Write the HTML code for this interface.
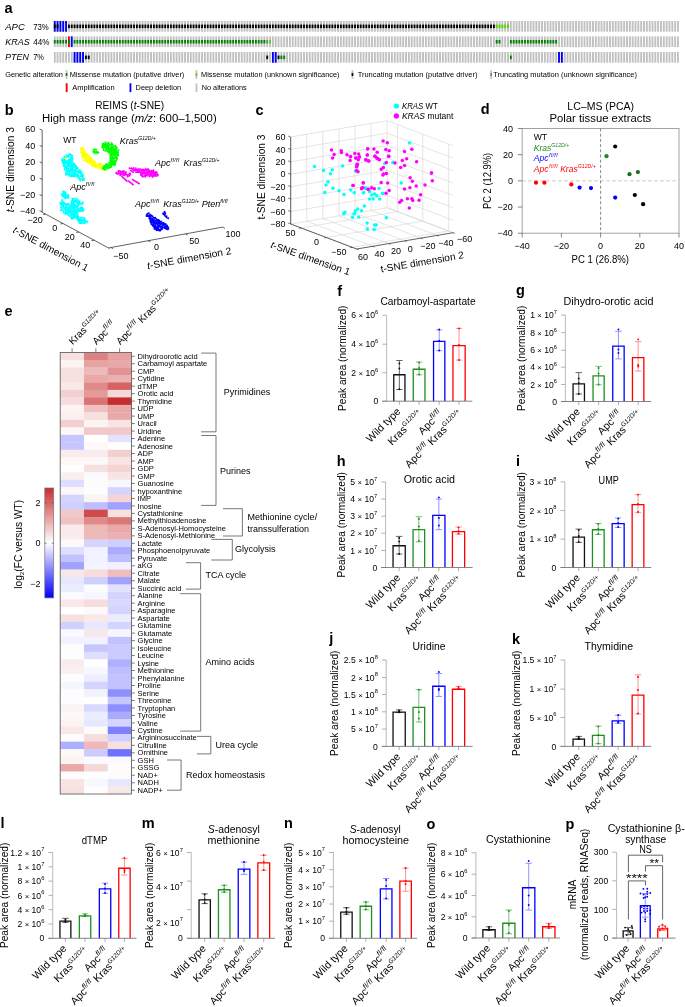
<!DOCTYPE html>
<html><head><meta charset="utf-8"><style>
html,body{margin:0;padding:0;background:#fff;width:685px;height:1007px;overflow:hidden;}
svg{display:block;font-family:"Liberation Sans",sans-serif;will-change:transform;}
</style></head><body>
<svg width="685" height="1007" viewBox="0 0 685 1007" font-family="Liberation Sans, sans-serif"><text x="4.60" y="12.60" font-size="14.5" fill="#000" font-weight="bold">a</text>
<text x="5.20" y="30.40" font-size="9.8" font-style="italic" textLength="19.60" lengthAdjust="spacingAndGlyphs">APC</text>
<text x="33.20" y="30.40" font-size="8.6" textLength="15.60" lengthAdjust="spacingAndGlyphs">73%</text>
<text x="5.20" y="44.70" font-size="9.8" font-style="italic" textLength="24.60" lengthAdjust="spacingAndGlyphs">KRAS</text>
<text x="33.20" y="44.70" font-size="8.6" textLength="16.20" lengthAdjust="spacingAndGlyphs">44%</text>
<text x="5.20" y="59.60" font-size="9.8" font-style="italic" textLength="23.60" lengthAdjust="spacingAndGlyphs">PTEN</text>
<text x="33.20" y="59.60" font-size="8.6" textLength="10.80" lengthAdjust="spacingAndGlyphs">7%</text>
<defs><pattern id="onc" x="53.8" y="0" width="2.833" height="20" patternUnits="userSpaceOnUse"><rect x="0" y="0" width="1.85" height="20" fill="#c0c0c0"/></pattern></defs>
<rect x="53.80" y="21.00" width="625.11" height="10.70" fill="url(#onc)"/>
<rect x="53.80" y="36.40" width="625.11" height="10.70" fill="url(#onc)"/>
<rect x="53.80" y="52.00" width="625.11" height="10.70" fill="url(#onc)"/>
<rect x="53.80" y="21.00" width="1.85" height="10.70" fill="#0000ff"/>
<rect x="56.63" y="21.00" width="1.85" height="10.70" fill="#0000ff"/>
<rect x="59.47" y="21.00" width="1.85" height="10.70" fill="#0000ff"/>
<rect x="62.30" y="21.00" width="1.85" height="10.70" fill="#0000ff"/>
<rect x="65.13" y="21.00" width="1.85" height="10.70" fill="#0000ff"/>
<rect x="53.80" y="24.57" width="1.85" height="3.57" fill="#000000"/>
<rect x="56.63" y="24.57" width="1.85" height="3.57" fill="#000000"/>
<rect x="67.97" y="24.57" width="1.85" height="3.57" fill="#000000"/>
<rect x="70.80" y="24.57" width="1.85" height="3.57" fill="#000000"/>
<rect x="73.63" y="24.57" width="1.85" height="3.57" fill="#000000"/>
<rect x="76.46" y="24.57" width="1.85" height="3.57" fill="#000000"/>
<rect x="79.30" y="24.57" width="1.85" height="3.57" fill="#000000"/>
<rect x="82.13" y="24.57" width="1.85" height="3.57" fill="#000000"/>
<rect x="84.96" y="24.57" width="1.85" height="3.57" fill="#000000"/>
<rect x="87.80" y="24.57" width="1.85" height="3.57" fill="#000000"/>
<rect x="90.63" y="24.57" width="1.85" height="3.57" fill="#000000"/>
<rect x="93.46" y="24.57" width="1.85" height="3.57" fill="#000000"/>
<rect x="96.30" y="24.57" width="1.85" height="3.57" fill="#000000"/>
<rect x="99.13" y="24.57" width="1.85" height="3.57" fill="#000000"/>
<rect x="101.96" y="24.57" width="1.85" height="3.57" fill="#000000"/>
<rect x="104.79" y="24.57" width="1.85" height="3.57" fill="#000000"/>
<rect x="107.63" y="24.57" width="1.85" height="3.57" fill="#000000"/>
<rect x="110.46" y="24.57" width="1.85" height="3.57" fill="#000000"/>
<rect x="113.29" y="24.57" width="1.85" height="3.57" fill="#000000"/>
<rect x="116.13" y="24.57" width="1.85" height="3.57" fill="#000000"/>
<rect x="118.96" y="24.57" width="1.85" height="3.57" fill="#000000"/>
<rect x="121.79" y="24.57" width="1.85" height="3.57" fill="#000000"/>
<rect x="124.62" y="24.57" width="1.85" height="3.57" fill="#000000"/>
<rect x="127.46" y="24.57" width="1.85" height="3.57" fill="#000000"/>
<rect x="130.29" y="24.57" width="1.85" height="3.57" fill="#000000"/>
<rect x="133.12" y="24.57" width="1.85" height="3.57" fill="#000000"/>
<rect x="135.96" y="24.57" width="1.85" height="3.57" fill="#000000"/>
<rect x="138.79" y="24.57" width="1.85" height="3.57" fill="#000000"/>
<rect x="141.62" y="24.57" width="1.85" height="3.57" fill="#000000"/>
<rect x="144.46" y="24.57" width="1.85" height="3.57" fill="#000000"/>
<rect x="147.29" y="24.57" width="1.85" height="3.57" fill="#000000"/>
<rect x="150.12" y="24.57" width="1.85" height="3.57" fill="#000000"/>
<rect x="152.95" y="24.57" width="1.85" height="3.57" fill="#000000"/>
<rect x="155.79" y="24.57" width="1.85" height="3.57" fill="#000000"/>
<rect x="158.62" y="24.57" width="1.85" height="3.57" fill="#000000"/>
<rect x="161.45" y="24.57" width="1.85" height="3.57" fill="#000000"/>
<rect x="164.29" y="24.57" width="1.85" height="3.57" fill="#000000"/>
<rect x="167.12" y="24.57" width="1.85" height="3.57" fill="#000000"/>
<rect x="169.95" y="24.57" width="1.85" height="3.57" fill="#000000"/>
<rect x="172.79" y="24.57" width="1.85" height="3.57" fill="#000000"/>
<rect x="175.62" y="24.57" width="1.85" height="3.57" fill="#000000"/>
<rect x="178.45" y="24.57" width="1.85" height="3.57" fill="#000000"/>
<rect x="181.29" y="24.57" width="1.85" height="3.57" fill="#000000"/>
<rect x="184.12" y="24.57" width="1.85" height="3.57" fill="#000000"/>
<rect x="186.95" y="24.57" width="1.85" height="3.57" fill="#000000"/>
<rect x="189.78" y="24.57" width="1.85" height="3.57" fill="#000000"/>
<rect x="192.62" y="24.57" width="1.85" height="3.57" fill="#000000"/>
<rect x="195.45" y="24.57" width="1.85" height="3.57" fill="#000000"/>
<rect x="198.28" y="24.57" width="1.85" height="3.57" fill="#000000"/>
<rect x="201.12" y="24.57" width="1.85" height="3.57" fill="#000000"/>
<rect x="203.95" y="24.57" width="1.85" height="3.57" fill="#000000"/>
<rect x="206.78" y="24.57" width="1.85" height="3.57" fill="#000000"/>
<rect x="209.62" y="24.57" width="1.85" height="3.57" fill="#000000"/>
<rect x="212.45" y="24.57" width="1.85" height="3.57" fill="#000000"/>
<rect x="215.28" y="24.57" width="1.85" height="3.57" fill="#000000"/>
<rect x="218.11" y="24.57" width="1.85" height="3.57" fill="#000000"/>
<rect x="220.95" y="24.57" width="1.85" height="3.57" fill="#000000"/>
<rect x="223.78" y="24.57" width="1.85" height="3.57" fill="#000000"/>
<rect x="226.61" y="24.57" width="1.85" height="3.57" fill="#000000"/>
<rect x="229.45" y="24.57" width="1.85" height="3.57" fill="#000000"/>
<rect x="232.28" y="24.57" width="1.85" height="3.57" fill="#000000"/>
<rect x="235.11" y="24.57" width="1.85" height="3.57" fill="#000000"/>
<rect x="237.94" y="24.57" width="1.85" height="3.57" fill="#000000"/>
<rect x="240.78" y="24.57" width="1.85" height="3.57" fill="#000000"/>
<rect x="243.61" y="24.57" width="1.85" height="3.57" fill="#000000"/>
<rect x="246.44" y="24.57" width="1.85" height="3.57" fill="#000000"/>
<rect x="249.28" y="24.57" width="1.85" height="3.57" fill="#000000"/>
<rect x="252.11" y="24.57" width="1.85" height="3.57" fill="#000000"/>
<rect x="254.94" y="24.57" width="1.85" height="3.57" fill="#000000"/>
<rect x="257.78" y="24.57" width="1.85" height="3.57" fill="#000000"/>
<rect x="260.61" y="24.57" width="1.85" height="3.57" fill="#000000"/>
<rect x="263.44" y="24.57" width="1.85" height="3.57" fill="#000000"/>
<rect x="266.28" y="24.57" width="1.85" height="3.57" fill="#000000"/>
<rect x="269.11" y="24.57" width="1.85" height="3.57" fill="#000000"/>
<rect x="271.94" y="24.57" width="1.85" height="3.57" fill="#000000"/>
<rect x="274.77" y="24.57" width="1.85" height="3.57" fill="#000000"/>
<rect x="277.61" y="24.57" width="1.85" height="3.57" fill="#000000"/>
<rect x="280.44" y="24.57" width="1.85" height="3.57" fill="#000000"/>
<rect x="283.27" y="24.57" width="1.85" height="3.57" fill="#000000"/>
<rect x="286.11" y="24.57" width="1.85" height="3.57" fill="#000000"/>
<rect x="288.94" y="24.57" width="1.85" height="3.57" fill="#000000"/>
<rect x="291.77" y="24.57" width="1.85" height="3.57" fill="#000000"/>
<rect x="294.61" y="24.57" width="1.85" height="3.57" fill="#000000"/>
<rect x="297.44" y="24.57" width="1.85" height="3.57" fill="#000000"/>
<rect x="300.27" y="24.57" width="1.85" height="3.57" fill="#000000"/>
<rect x="303.10" y="24.57" width="1.85" height="3.57" fill="#000000"/>
<rect x="305.94" y="24.57" width="1.85" height="3.57" fill="#000000"/>
<rect x="308.77" y="24.57" width="1.85" height="3.57" fill="#000000"/>
<rect x="311.60" y="24.57" width="1.85" height="3.57" fill="#000000"/>
<rect x="314.44" y="24.57" width="1.85" height="3.57" fill="#000000"/>
<rect x="317.27" y="24.57" width="1.85" height="3.57" fill="#000000"/>
<rect x="320.10" y="24.57" width="1.85" height="3.57" fill="#000000"/>
<rect x="322.94" y="24.57" width="1.85" height="3.57" fill="#000000"/>
<rect x="325.77" y="24.57" width="1.85" height="3.57" fill="#000000"/>
<rect x="328.60" y="24.57" width="1.85" height="3.57" fill="#000000"/>
<rect x="331.43" y="24.57" width="1.85" height="3.57" fill="#000000"/>
<rect x="334.27" y="24.57" width="1.85" height="3.57" fill="#000000"/>
<rect x="337.10" y="24.57" width="1.85" height="3.57" fill="#000000"/>
<rect x="339.93" y="24.57" width="1.85" height="3.57" fill="#000000"/>
<rect x="342.77" y="24.57" width="1.85" height="3.57" fill="#000000"/>
<rect x="345.60" y="24.57" width="1.85" height="3.57" fill="#000000"/>
<rect x="348.43" y="24.57" width="1.85" height="3.57" fill="#000000"/>
<rect x="351.27" y="24.57" width="1.85" height="3.57" fill="#000000"/>
<rect x="354.10" y="24.57" width="1.85" height="3.57" fill="#000000"/>
<rect x="356.93" y="24.57" width="1.85" height="3.57" fill="#000000"/>
<rect x="359.76" y="24.57" width="1.85" height="3.57" fill="#000000"/>
<rect x="362.60" y="24.57" width="1.85" height="3.57" fill="#000000"/>
<rect x="365.43" y="24.57" width="1.85" height="3.57" fill="#000000"/>
<rect x="368.26" y="24.57" width="1.85" height="3.57" fill="#000000"/>
<rect x="371.10" y="24.57" width="1.85" height="3.57" fill="#000000"/>
<rect x="373.93" y="24.57" width="1.85" height="3.57" fill="#000000"/>
<rect x="376.76" y="24.57" width="1.85" height="3.57" fill="#000000"/>
<rect x="379.60" y="24.57" width="1.85" height="3.57" fill="#000000"/>
<rect x="382.43" y="24.57" width="1.85" height="3.57" fill="#000000"/>
<rect x="385.26" y="24.57" width="1.85" height="3.57" fill="#000000"/>
<rect x="388.09" y="24.57" width="1.85" height="3.57" fill="#000000"/>
<rect x="390.93" y="24.57" width="1.85" height="3.57" fill="#000000"/>
<rect x="393.76" y="24.57" width="1.85" height="3.57" fill="#000000"/>
<rect x="396.59" y="24.57" width="1.85" height="3.57" fill="#000000"/>
<rect x="399.43" y="24.57" width="1.85" height="3.57" fill="#000000"/>
<rect x="402.26" y="24.57" width="1.85" height="3.57" fill="#000000"/>
<rect x="405.09" y="24.57" width="1.85" height="3.57" fill="#000000"/>
<rect x="407.93" y="24.57" width="1.85" height="3.57" fill="#000000"/>
<rect x="410.76" y="24.57" width="1.85" height="3.57" fill="#000000"/>
<rect x="413.59" y="24.57" width="1.85" height="3.57" fill="#000000"/>
<rect x="416.42" y="24.57" width="1.85" height="3.57" fill="#000000"/>
<rect x="419.26" y="24.57" width="1.85" height="3.57" fill="#000000"/>
<rect x="422.09" y="24.57" width="1.85" height="3.57" fill="#000000"/>
<rect x="424.92" y="24.57" width="1.85" height="3.57" fill="#000000"/>
<rect x="427.76" y="24.57" width="1.85" height="3.57" fill="#000000"/>
<rect x="430.59" y="24.57" width="1.85" height="3.57" fill="#000000"/>
<rect x="433.42" y="24.57" width="1.85" height="3.57" fill="#000000"/>
<rect x="436.26" y="24.57" width="1.85" height="3.57" fill="#000000"/>
<rect x="439.09" y="24.57" width="1.85" height="3.57" fill="#000000"/>
<rect x="441.92" y="24.57" width="1.85" height="3.57" fill="#000000"/>
<rect x="444.75" y="24.57" width="1.85" height="3.57" fill="#000000"/>
<rect x="447.59" y="24.57" width="1.85" height="3.57" fill="#000000"/>
<rect x="450.42" y="24.57" width="1.85" height="3.57" fill="#000000"/>
<rect x="453.25" y="24.57" width="1.85" height="3.57" fill="#000000"/>
<rect x="456.09" y="24.57" width="1.85" height="3.57" fill="#000000"/>
<rect x="458.92" y="24.57" width="1.85" height="3.57" fill="#000000"/>
<rect x="461.75" y="24.57" width="1.85" height="3.57" fill="#000000"/>
<rect x="464.59" y="24.57" width="1.85" height="3.57" fill="#000000"/>
<rect x="467.42" y="24.57" width="1.85" height="3.57" fill="#000000"/>
<rect x="470.25" y="24.57" width="1.85" height="3.57" fill="#000000"/>
<rect x="473.08" y="24.57" width="1.85" height="3.57" fill="#000000"/>
<rect x="475.92" y="24.57" width="1.85" height="3.57" fill="#000000"/>
<rect x="478.75" y="24.57" width="1.85" height="3.57" fill="#000000"/>
<rect x="481.58" y="24.57" width="1.85" height="3.57" fill="#000000"/>
<rect x="484.42" y="24.57" width="1.85" height="3.57" fill="#000000"/>
<rect x="487.25" y="24.57" width="1.85" height="3.57" fill="#000000"/>
<rect x="490.08" y="24.57" width="1.85" height="3.57" fill="#000000"/>
<rect x="492.92" y="24.57" width="1.85" height="3.57" fill="#000000"/>
<rect x="495.75" y="24.57" width="1.85" height="3.57" fill="#53d400"/>
<rect x="498.58" y="24.57" width="1.85" height="3.57" fill="#53d400"/>
<rect x="501.41" y="24.57" width="1.85" height="3.57" fill="#53d400"/>
<rect x="504.25" y="24.57" width="1.85" height="3.57" fill="#53d400"/>
<rect x="507.08" y="24.57" width="1.85" height="3.57" fill="#53d400"/>
<rect x="67.97" y="36.40" width="1.85" height="10.70" fill="#ff0000"/>
<rect x="70.80" y="36.40" width="1.85" height="10.70" fill="#0000ff"/>
<rect x="53.80" y="39.97" width="1.85" height="3.57" fill="#008000"/>
<rect x="56.63" y="39.97" width="1.85" height="3.57" fill="#008000"/>
<rect x="59.47" y="39.97" width="1.85" height="3.57" fill="#008000"/>
<rect x="62.30" y="39.97" width="1.85" height="3.57" fill="#008000"/>
<rect x="65.13" y="39.97" width="1.85" height="3.57" fill="#008000"/>
<rect x="67.97" y="39.97" width="1.85" height="3.57" fill="#008000"/>
<rect x="73.63" y="39.97" width="1.85" height="3.57" fill="#008000"/>
<rect x="76.46" y="39.97" width="1.85" height="3.57" fill="#008000"/>
<rect x="79.30" y="39.97" width="1.85" height="3.57" fill="#008000"/>
<rect x="82.13" y="39.97" width="1.85" height="3.57" fill="#008000"/>
<rect x="84.96" y="39.97" width="1.85" height="3.57" fill="#008000"/>
<rect x="87.80" y="39.97" width="1.85" height="3.57" fill="#008000"/>
<rect x="90.63" y="39.97" width="1.85" height="3.57" fill="#008000"/>
<rect x="93.46" y="39.97" width="1.85" height="3.57" fill="#008000"/>
<rect x="96.30" y="39.97" width="1.85" height="3.57" fill="#008000"/>
<rect x="99.13" y="39.97" width="1.85" height="3.57" fill="#008000"/>
<rect x="101.96" y="39.97" width="1.85" height="3.57" fill="#008000"/>
<rect x="104.79" y="39.97" width="1.85" height="3.57" fill="#008000"/>
<rect x="107.63" y="39.97" width="1.85" height="3.57" fill="#008000"/>
<rect x="110.46" y="39.97" width="1.85" height="3.57" fill="#008000"/>
<rect x="113.29" y="39.97" width="1.85" height="3.57" fill="#008000"/>
<rect x="116.13" y="39.97" width="1.85" height="3.57" fill="#008000"/>
<rect x="118.96" y="39.97" width="1.85" height="3.57" fill="#008000"/>
<rect x="121.79" y="39.97" width="1.85" height="3.57" fill="#008000"/>
<rect x="124.62" y="39.97" width="1.85" height="3.57" fill="#008000"/>
<rect x="127.46" y="39.97" width="1.85" height="3.57" fill="#008000"/>
<rect x="130.29" y="39.97" width="1.85" height="3.57" fill="#008000"/>
<rect x="133.12" y="39.97" width="1.85" height="3.57" fill="#008000"/>
<rect x="135.96" y="39.97" width="1.85" height="3.57" fill="#008000"/>
<rect x="138.79" y="39.97" width="1.85" height="3.57" fill="#008000"/>
<rect x="141.62" y="39.97" width="1.85" height="3.57" fill="#008000"/>
<rect x="144.46" y="39.97" width="1.85" height="3.57" fill="#008000"/>
<rect x="147.29" y="39.97" width="1.85" height="3.57" fill="#008000"/>
<rect x="150.12" y="39.97" width="1.85" height="3.57" fill="#008000"/>
<rect x="152.95" y="39.97" width="1.85" height="3.57" fill="#008000"/>
<rect x="155.79" y="39.97" width="1.85" height="3.57" fill="#008000"/>
<rect x="158.62" y="39.97" width="1.85" height="3.57" fill="#008000"/>
<rect x="161.45" y="39.97" width="1.85" height="3.57" fill="#008000"/>
<rect x="164.29" y="39.97" width="1.85" height="3.57" fill="#008000"/>
<rect x="167.12" y="39.97" width="1.85" height="3.57" fill="#008000"/>
<rect x="169.95" y="39.97" width="1.85" height="3.57" fill="#008000"/>
<rect x="172.79" y="39.97" width="1.85" height="3.57" fill="#008000"/>
<rect x="175.62" y="39.97" width="1.85" height="3.57" fill="#008000"/>
<rect x="178.45" y="39.97" width="1.85" height="3.57" fill="#008000"/>
<rect x="181.29" y="39.97" width="1.85" height="3.57" fill="#008000"/>
<rect x="184.12" y="39.97" width="1.85" height="3.57" fill="#008000"/>
<rect x="186.95" y="39.97" width="1.85" height="3.57" fill="#008000"/>
<rect x="189.78" y="39.97" width="1.85" height="3.57" fill="#008000"/>
<rect x="192.62" y="39.97" width="1.85" height="3.57" fill="#008000"/>
<rect x="195.45" y="39.97" width="1.85" height="3.57" fill="#008000"/>
<rect x="198.28" y="39.97" width="1.85" height="3.57" fill="#008000"/>
<rect x="201.12" y="39.97" width="1.85" height="3.57" fill="#008000"/>
<rect x="203.95" y="39.97" width="1.85" height="3.57" fill="#008000"/>
<rect x="206.78" y="39.97" width="1.85" height="3.57" fill="#008000"/>
<rect x="209.62" y="39.97" width="1.85" height="3.57" fill="#008000"/>
<rect x="212.45" y="39.97" width="1.85" height="3.57" fill="#008000"/>
<rect x="215.28" y="39.97" width="1.85" height="3.57" fill="#008000"/>
<rect x="218.11" y="39.97" width="1.85" height="3.57" fill="#008000"/>
<rect x="220.95" y="39.97" width="1.85" height="3.57" fill="#008000"/>
<rect x="223.78" y="39.97" width="1.85" height="3.57" fill="#008000"/>
<rect x="226.61" y="39.97" width="1.85" height="3.57" fill="#008000"/>
<rect x="229.45" y="39.97" width="1.85" height="3.57" fill="#008000"/>
<rect x="232.28" y="39.97" width="1.85" height="3.57" fill="#008000"/>
<rect x="235.11" y="39.97" width="1.85" height="3.57" fill="#008000"/>
<rect x="237.94" y="39.97" width="1.85" height="3.57" fill="#008000"/>
<rect x="240.78" y="39.97" width="1.85" height="3.57" fill="#008000"/>
<rect x="243.61" y="39.97" width="1.85" height="3.57" fill="#008000"/>
<rect x="246.44" y="39.97" width="1.85" height="3.57" fill="#008000"/>
<rect x="249.28" y="39.97" width="1.85" height="3.57" fill="#008000"/>
<rect x="252.11" y="39.97" width="1.85" height="3.57" fill="#008000"/>
<rect x="254.94" y="39.97" width="1.85" height="3.57" fill="#008000"/>
<rect x="257.78" y="39.97" width="1.85" height="3.57" fill="#008000"/>
<rect x="260.61" y="39.97" width="1.85" height="3.57" fill="#008000"/>
<rect x="263.44" y="39.97" width="1.85" height="3.57" fill="#008000"/>
<rect x="495.75" y="39.97" width="1.85" height="3.57" fill="#008000"/>
<rect x="498.58" y="39.97" width="1.85" height="3.57" fill="#008000"/>
<rect x="509.91" y="39.97" width="1.85" height="3.57" fill="#008000"/>
<rect x="512.75" y="39.97" width="1.85" height="3.57" fill="#008000"/>
<rect x="515.58" y="39.97" width="1.85" height="3.57" fill="#008000"/>
<rect x="518.41" y="39.97" width="1.85" height="3.57" fill="#008000"/>
<rect x="521.25" y="39.97" width="1.85" height="3.57" fill="#008000"/>
<rect x="524.08" y="39.97" width="1.85" height="3.57" fill="#008000"/>
<rect x="526.91" y="39.97" width="1.85" height="3.57" fill="#008000"/>
<rect x="529.74" y="39.97" width="1.85" height="3.57" fill="#008000"/>
<rect x="532.58" y="39.97" width="1.85" height="3.57" fill="#008000"/>
<rect x="535.41" y="39.97" width="1.85" height="3.57" fill="#008000"/>
<rect x="538.24" y="39.97" width="1.85" height="3.57" fill="#008000"/>
<rect x="541.08" y="39.97" width="1.85" height="3.57" fill="#008000"/>
<rect x="543.91" y="39.97" width="1.85" height="3.57" fill="#008000"/>
<rect x="546.74" y="39.97" width="1.85" height="3.57" fill="#008000"/>
<rect x="549.58" y="39.97" width="1.85" height="3.57" fill="#008000"/>
<rect x="552.41" y="39.97" width="1.85" height="3.57" fill="#008000"/>
<rect x="555.24" y="39.97" width="1.85" height="3.57" fill="#008000"/>
<rect x="266.28" y="39.97" width="1.85" height="3.57" fill="#708090"/>
<rect x="269.11" y="39.97" width="1.85" height="3.57" fill="#53d400"/>
<rect x="73.63" y="52.00" width="1.85" height="10.70" fill="#0000ff"/>
<rect x="76.46" y="52.00" width="1.85" height="10.70" fill="#0000ff"/>
<rect x="79.30" y="52.00" width="1.85" height="10.70" fill="#0000ff"/>
<rect x="82.13" y="52.00" width="1.85" height="10.70" fill="#0000ff"/>
<rect x="271.94" y="52.00" width="1.85" height="10.70" fill="#0000ff"/>
<rect x="274.77" y="52.00" width="1.85" height="10.70" fill="#0000ff"/>
<rect x="558.07" y="52.00" width="1.85" height="10.70" fill="#0000ff"/>
<rect x="560.91" y="52.00" width="1.85" height="10.70" fill="#0000ff"/>
<rect x="84.96" y="55.57" width="1.85" height="3.57" fill="#000000"/>
<rect x="87.80" y="55.57" width="1.85" height="3.57" fill="#000000"/>
<rect x="266.28" y="55.57" width="1.85" height="3.57" fill="#000000"/>
<rect x="277.61" y="55.57" width="1.85" height="3.57" fill="#000000"/>
<rect x="280.44" y="55.57" width="1.85" height="3.57" fill="#008000"/>
<rect x="283.27" y="55.57" width="1.85" height="3.57" fill="#008000"/>
<rect x="509.91" y="55.57" width="1.85" height="3.57" fill="#008000"/>
<text x="5.20" y="77.00" font-size="7.5" textLength="57.80" lengthAdjust="spacingAndGlyphs">Genetic alteration</text>
<rect x="65.70" y="70.10" width="1.70" height="8.80" fill="#c0c0c0"/>
<rect x="65.70" y="73.03" width="1.70" height="2.93" fill="#008000"/>
<text x="69.70" y="77.00" font-size="7.5" textLength="114.60" lengthAdjust="spacingAndGlyphs">Missense mutation (putative driver)</text>
<rect x="195.60" y="70.10" width="1.70" height="8.80" fill="#c0c0c0"/>
<rect x="195.60" y="73.03" width="1.70" height="2.93" fill="#53d400"/>
<text x="201.10" y="77.00" font-size="7.5" textLength="138.40" lengthAdjust="spacingAndGlyphs">Missense mutation (unknown significance)</text>
<rect x="351.60" y="70.10" width="1.70" height="8.80" fill="#c0c0c0"/>
<rect x="351.60" y="73.03" width="1.70" height="2.93" fill="#000000"/>
<text x="357.70" y="77.00" font-size="7.5" textLength="119.70" lengthAdjust="spacingAndGlyphs">Truncating mutation (putative driver)</text>
<rect x="490.30" y="70.10" width="1.70" height="8.80" fill="#c0c0c0"/>
<rect x="490.30" y="73.03" width="1.70" height="2.93" fill="#708090"/>
<text x="493.20" y="77.00" font-size="7.5" textLength="143.80" lengthAdjust="spacingAndGlyphs">Truncating mutation (unknown significance)</text>
<rect x="65.80" y="83.30" width="1.70" height="8.80" fill="#c0c0c0"/>
<rect x="65.80" y="83.30" width="1.70" height="8.80" fill="#ff0000"/>
<text x="72.20" y="90.20" font-size="7.5" textLength="42.50" lengthAdjust="spacingAndGlyphs">Amplification</text>
<rect x="129.60" y="83.30" width="1.70" height="8.80" fill="#c0c0c0"/>
<rect x="129.60" y="83.30" width="1.70" height="8.80" fill="#0000ff"/>
<text x="135.60" y="90.20" font-size="7.5" textLength="45.50" lengthAdjust="spacingAndGlyphs">Deep deletion</text>
<rect x="195.60" y="83.30" width="1.70" height="8.80" fill="#c0c0c0"/>
<text x="201.80" y="90.20" font-size="7.5" textLength="44.80" lengthAdjust="spacingAndGlyphs">No alterations</text>
<text x="4.80" y="115.40" font-size="14.5" fill="#000" font-weight="bold">b</text>
<text x="129.70" y="109.10" font-size="10" text-anchor="middle" textLength="68.90" lengthAdjust="spacingAndGlyphs"><tspan>REIMS (</tspan><tspan font-style="italic">t</tspan><tspan>-SNE)</tspan></text>
<text x="42.00" y="121.70" font-size="10" textLength="174.70" lengthAdjust="spacingAndGlyphs"><tspan>High mass range (</tspan><tspan font-style="italic">m/z</tspan><tspan>: 600–1,500)</tspan></text>
<line x1="42.20" y1="130.30" x2="42.20" y2="212.30" stroke="#3a3a3a" stroke-width="0.8"/>
<line x1="42.20" y1="130.30" x2="39.60" y2="129.00" stroke="#3a3a3a" stroke-width="0.8"/>
<text x="35.30" y="132.20" font-size="9" text-anchor="end">60</text>
<line x1="42.20" y1="146.70" x2="39.60" y2="145.40" stroke="#3a3a3a" stroke-width="0.8"/>
<text x="35.30" y="148.60" font-size="9" text-anchor="end">40</text>
<line x1="42.20" y1="163.10" x2="39.60" y2="161.80" stroke="#3a3a3a" stroke-width="0.8"/>
<text x="35.30" y="165.00" font-size="9" text-anchor="end">20</text>
<line x1="42.20" y1="179.40" x2="39.60" y2="178.10" stroke="#3a3a3a" stroke-width="0.8"/>
<text x="35.30" y="181.30" font-size="9" text-anchor="end">0</text>
<line x1="42.20" y1="195.80" x2="39.60" y2="194.50" stroke="#3a3a3a" stroke-width="0.8"/>
<text x="35.30" y="197.70" font-size="9" text-anchor="end">−20</text>
<line x1="42.20" y1="212.00" x2="39.60" y2="210.70" stroke="#3a3a3a" stroke-width="0.8"/>
<text x="35.30" y="213.90" font-size="9" text-anchor="end">−40</text>
<line x1="42.20" y1="212.30" x2="109.50" y2="248.50" stroke="#3a3a3a" stroke-width="0.8"/>
<line x1="45.60" y1="214.13" x2="43.10" y2="214.63" stroke="#3a3a3a" stroke-width="0.8"/>
<text x="35.20" y="222.50" font-size="9" text-anchor="middle">−20</text>
<line x1="63.00" y1="223.49" x2="60.50" y2="223.99" stroke="#3a3a3a" stroke-width="0.8"/>
<text x="54.80" y="231.00" font-size="9" text-anchor="middle">0</text>
<line x1="78.80" y1="231.99" x2="76.30" y2="232.49" stroke="#3a3a3a" stroke-width="0.8"/>
<text x="69.80" y="239.70" font-size="9" text-anchor="middle">20</text>
<line x1="94.00" y1="240.16" x2="91.50" y2="240.66" stroke="#3a3a3a" stroke-width="0.8"/>
<text x="85.30" y="247.90" font-size="9" text-anchor="middle">40</text>
<line x1="108.80" y1="247.90" x2="222.60" y2="227.10" stroke="#3a3a3a" stroke-width="0.8"/>
<line x1="222.60" y1="227.10" x2="225.00" y2="228.40" stroke="#3a3a3a" stroke-width="0.8"/>
<line x1="111.00" y1="247.50" x2="113.20" y2="248.70" stroke="#3a3a3a" stroke-width="0.8"/>
<text x="120.80" y="258.50" font-size="9" text-anchor="middle">−50</text>
<line x1="148.30" y1="240.68" x2="150.50" y2="241.88" stroke="#3a3a3a" stroke-width="0.8"/>
<text x="156.40" y="250.20" font-size="9" text-anchor="middle">0</text>
<line x1="185.50" y1="233.88" x2="187.70" y2="235.08" stroke="#3a3a3a" stroke-width="0.8"/>
<text x="194.20" y="244.30" font-size="9" text-anchor="middle">50</text>
<text x="233.00" y="237.00" font-size="9" text-anchor="middle">100</text>
<text x="13.60" y="169.60" font-size="10" text-anchor="middle" textLength="85.20" lengthAdjust="spacingAndGlyphs" transform="rotate(-90.00 13.60 169.60)"><tspan font-style="italic">t</tspan><tspan>-SNE dimension 3</tspan></text>
<text x="49.30" y="251.90" font-size="10" text-anchor="middle" textLength="84.00" lengthAdjust="spacingAndGlyphs" transform="rotate(28.20 49.30 251.90)"><tspan font-style="italic">t</tspan><tspan>-SNE dimension 1</tspan></text>
<text x="189.80" y="261.60" font-size="10" text-anchor="middle" textLength="85.50" lengthAdjust="spacingAndGlyphs" transform="rotate(-10.40 189.80 261.60)"><tspan font-style="italic">t</tspan><tspan>-SNE dimension 2</tspan></text>
<path d="M68.2,154.1a0.95,0.95 0 1,0 1.9,0a0.95,0.95 0 1,0 -1.9,0M69.3,154.1a0.95,0.95 0 1,0 1.9,0a0.95,0.95 0 1,0 -1.9,0M69.9,154.6a0.95,0.95 0 1,0 1.9,0a0.95,0.95 0 1,0 -1.9,0M65.5,155.3a0.95,0.95 0 1,0 1.9,0a0.95,0.95 0 1,0 -1.9,0M66.5,156.0a0.95,0.95 0 1,0 1.9,0a0.95,0.95 0 1,0 -1.9,0M68.1,155.5a0.95,0.95 0 1,0 1.9,0a0.95,0.95 0 1,0 -1.9,0M70.0,155.4a0.95,0.95 0 1,0 1.9,0a0.95,0.95 0 1,0 -1.9,0M71.4,155.7a0.95,0.95 0 1,0 1.9,0a0.95,0.95 0 1,0 -1.9,0M63.4,156.6a0.95,0.95 0 1,0 1.9,0a0.95,0.95 0 1,0 -1.9,0M64.8,156.9a0.95,0.95 0 1,0 1.9,0a0.95,0.95 0 1,0 -1.9,0M66.8,157.1a0.95,0.95 0 1,0 1.9,0a0.95,0.95 0 1,0 -1.9,0M67.5,156.9a0.95,0.95 0 1,0 1.9,0a0.95,0.95 0 1,0 -1.9,0M70.3,157.0a0.95,0.95 0 1,0 1.9,0a0.95,0.95 0 1,0 -1.9,0M71.3,156.9a0.95,0.95 0 1,0 1.9,0a0.95,0.95 0 1,0 -1.9,0M61.5,158.7a0.95,0.95 0 1,0 1.9,0a0.95,0.95 0 1,0 -1.9,0M62.8,158.6a0.95,0.95 0 1,0 1.9,0a0.95,0.95 0 1,0 -1.9,0M63.6,158.3a0.95,0.95 0 1,0 1.9,0a0.95,0.95 0 1,0 -1.9,0M64.7,157.9a0.95,0.95 0 1,0 1.9,0a0.95,0.95 0 1,0 -1.9,0M69.5,158.2a0.95,0.95 0 1,0 1.9,0a0.95,0.95 0 1,0 -1.9,0M70.1,158.0a0.95,0.95 0 1,0 1.9,0a0.95,0.95 0 1,0 -1.9,0M71.8,158.7a0.95,0.95 0 1,0 1.9,0a0.95,0.95 0 1,0 -1.9,0M60.9,160.0a0.95,0.95 0 1,0 1.9,0a0.95,0.95 0 1,0 -1.9,0M64.0,159.5a0.95,0.95 0 1,0 1.9,0a0.95,0.95 0 1,0 -1.9,0M67.7,159.9a0.95,0.95 0 1,0 1.9,0a0.95,0.95 0 1,0 -1.9,0M68.8,159.4a0.95,0.95 0 1,0 1.9,0a0.95,0.95 0 1,0 -1.9,0M70.1,159.7a0.95,0.95 0 1,0 1.9,0a0.95,0.95 0 1,0 -1.9,0M71.6,159.3a0.95,0.95 0 1,0 1.9,0a0.95,0.95 0 1,0 -1.9,0M61.3,161.2a0.95,0.95 0 1,0 1.9,0a0.95,0.95 0 1,0 -1.9,0M62.6,160.7a0.95,0.95 0 1,0 1.9,0a0.95,0.95 0 1,0 -1.9,0M64.1,160.9a0.95,0.95 0 1,0 1.9,0a0.95,0.95 0 1,0 -1.9,0M65.4,161.3a0.95,0.95 0 1,0 1.9,0a0.95,0.95 0 1,0 -1.9,0M66.6,160.9a0.95,0.95 0 1,0 1.9,0a0.95,0.95 0 1,0 -1.9,0M67.9,160.9a0.95,0.95 0 1,0 1.9,0a0.95,0.95 0 1,0 -1.9,0M69.0,161.3a0.95,0.95 0 1,0 1.9,0a0.95,0.95 0 1,0 -1.9,0M70.7,161.3a0.95,0.95 0 1,0 1.9,0a0.95,0.95 0 1,0 -1.9,0M71.7,161.3a0.95,0.95 0 1,0 1.9,0a0.95,0.95 0 1,0 -1.9,0M61.5,161.9a0.95,0.95 0 1,0 1.9,0a0.95,0.95 0 1,0 -1.9,0M62.6,162.1a0.95,0.95 0 1,0 1.9,0a0.95,0.95 0 1,0 -1.9,0M63.7,162.4a0.95,0.95 0 1,0 1.9,0a0.95,0.95 0 1,0 -1.9,0M65.2,162.1a0.95,0.95 0 1,0 1.9,0a0.95,0.95 0 1,0 -1.9,0M66.3,162.3a0.95,0.95 0 1,0 1.9,0a0.95,0.95 0 1,0 -1.9,0M67.4,162.6a0.95,0.95 0 1,0 1.9,0a0.95,0.95 0 1,0 -1.9,0M69.5,161.8a0.95,0.95 0 1,0 1.9,0a0.95,0.95 0 1,0 -1.9,0M69.9,162.5a0.95,0.95 0 1,0 1.9,0a0.95,0.95 0 1,0 -1.9,0M71.3,162.1a0.95,0.95 0 1,0 1.9,0a0.95,0.95 0 1,0 -1.9,0M62.3,163.2a0.95,0.95 0 1,0 1.9,0a0.95,0.95 0 1,0 -1.9,0M63.6,163.1a0.95,0.95 0 1,0 1.9,0a0.95,0.95 0 1,0 -1.9,0M64.7,163.2a0.95,0.95 0 1,0 1.9,0a0.95,0.95 0 1,0 -1.9,0M66.3,163.7a0.95,0.95 0 1,0 1.9,0a0.95,0.95 0 1,0 -1.9,0M67.8,163.2a0.95,0.95 0 1,0 1.9,0a0.95,0.95 0 1,0 -1.9,0M68.6,163.3a0.95,0.95 0 1,0 1.9,0a0.95,0.95 0 1,0 -1.9,0M70.6,163.5a0.95,0.95 0 1,0 1.9,0a0.95,0.95 0 1,0 -1.9,0M71.6,163.9a0.95,0.95 0 1,0 1.9,0a0.95,0.95 0 1,0 -1.9,0M73.2,163.4a0.95,0.95 0 1,0 1.9,0a0.95,0.95 0 1,0 -1.9,0M62.7,164.6a0.95,0.95 0 1,0 1.9,0a0.95,0.95 0 1,0 -1.9,0M63.7,164.8a0.95,0.95 0 1,0 1.9,0a0.95,0.95 0 1,0 -1.9,0M66.9,164.8a0.95,0.95 0 1,0 1.9,0a0.95,0.95 0 1,0 -1.9,0M68.2,164.6a0.95,0.95 0 1,0 1.9,0a0.95,0.95 0 1,0 -1.9,0M68.6,164.7a0.95,0.95 0 1,0 1.9,0a0.95,0.95 0 1,0 -1.9,0M70.4,164.5a0.95,0.95 0 1,0 1.9,0a0.95,0.95 0 1,0 -1.9,0M71.2,164.6a0.95,0.95 0 1,0 1.9,0a0.95,0.95 0 1,0 -1.9,0M72.9,164.4a0.95,0.95 0 1,0 1.9,0a0.95,0.95 0 1,0 -1.9,0M74.1,164.6a0.95,0.95 0 1,0 1.9,0a0.95,0.95 0 1,0 -1.9,0M62.6,166.1a0.95,0.95 0 1,0 1.9,0a0.95,0.95 0 1,0 -1.9,0M64.1,166.4a0.95,0.95 0 1,0 1.9,0a0.95,0.95 0 1,0 -1.9,0M65.5,166.3a0.95,0.95 0 1,0 1.9,0a0.95,0.95 0 1,0 -1.9,0M66.2,165.7a0.95,0.95 0 1,0 1.9,0a0.95,0.95 0 1,0 -1.9,0M67.6,165.7a0.95,0.95 0 1,0 1.9,0a0.95,0.95 0 1,0 -1.9,0M69.1,166.2a0.95,0.95 0 1,0 1.9,0a0.95,0.95 0 1,0 -1.9,0M70.5,166.1a0.95,0.95 0 1,0 1.9,0a0.95,0.95 0 1,0 -1.9,0M71.9,166.3a0.95,0.95 0 1,0 1.9,0a0.95,0.95 0 1,0 -1.9,0M73.0,166.2a0.95,0.95 0 1,0 1.9,0a0.95,0.95 0 1,0 -1.9,0M74.5,165.9a0.95,0.95 0 1,0 1.9,0a0.95,0.95 0 1,0 -1.9,0M75.3,166.3a0.95,0.95 0 1,0 1.9,0a0.95,0.95 0 1,0 -1.9,0M64.0,167.6a0.95,0.95 0 1,0 1.9,0a0.95,0.95 0 1,0 -1.9,0M65.0,167.4a0.95,0.95 0 1,0 1.9,0a0.95,0.95 0 1,0 -1.9,0M66.4,167.1a0.95,0.95 0 1,0 1.9,0a0.95,0.95 0 1,0 -1.9,0M68.6,167.4a0.95,0.95 0 1,0 1.9,0a0.95,0.95 0 1,0 -1.9,0M70.8,167.4a0.95,0.95 0 1,0 1.9,0a0.95,0.95 0 1,0 -1.9,0M71.4,167.8a0.95,0.95 0 1,0 1.9,0a0.95,0.95 0 1,0 -1.9,0M73.0,167.1a0.95,0.95 0 1,0 1.9,0a0.95,0.95 0 1,0 -1.9,0M74.7,167.1a0.95,0.95 0 1,0 1.9,0a0.95,0.95 0 1,0 -1.9,0M75.6,167.7a0.95,0.95 0 1,0 1.9,0a0.95,0.95 0 1,0 -1.9,0M76.6,167.8a0.95,0.95 0 1,0 1.9,0a0.95,0.95 0 1,0 -1.9,0M63.7,168.6a0.95,0.95 0 1,0 1.9,0a0.95,0.95 0 1,0 -1.9,0M65.6,168.8a0.95,0.95 0 1,0 1.9,0a0.95,0.95 0 1,0 -1.9,0M66.4,168.5a0.95,0.95 0 1,0 1.9,0a0.95,0.95 0 1,0 -1.9,0M67.4,169.0a0.95,0.95 0 1,0 1.9,0a0.95,0.95 0 1,0 -1.9,0M69.4,168.5a0.95,0.95 0 1,0 1.9,0a0.95,0.95 0 1,0 -1.9,0M70.4,168.4a0.95,0.95 0 1,0 1.9,0a0.95,0.95 0 1,0 -1.9,0M72.1,169.0a0.95,0.95 0 1,0 1.9,0a0.95,0.95 0 1,0 -1.9,0M74.3,168.9a0.95,0.95 0 1,0 1.9,0a0.95,0.95 0 1,0 -1.9,0M75.8,168.7a0.95,0.95 0 1,0 1.9,0a0.95,0.95 0 1,0 -1.9,0M77.0,168.5a0.95,0.95 0 1,0 1.9,0a0.95,0.95 0 1,0 -1.9,0M63.8,169.7a0.95,0.95 0 1,0 1.9,0a0.95,0.95 0 1,0 -1.9,0M65.6,170.0a0.95,0.95 0 1,0 1.9,0a0.95,0.95 0 1,0 -1.9,0M66.2,169.6a0.95,0.95 0 1,0 1.9,0a0.95,0.95 0 1,0 -1.9,0M67.4,169.8a0.95,0.95 0 1,0 1.9,0a0.95,0.95 0 1,0 -1.9,0M69.1,170.3a0.95,0.95 0 1,0 1.9,0a0.95,0.95 0 1,0 -1.9,0M70.3,169.9a0.95,0.95 0 1,0 1.9,0a0.95,0.95 0 1,0 -1.9,0M71.5,169.9a0.95,0.95 0 1,0 1.9,0a0.95,0.95 0 1,0 -1.9,0M72.7,170.4a0.95,0.95 0 1,0 1.9,0a0.95,0.95 0 1,0 -1.9,0M74.3,170.1a0.95,0.95 0 1,0 1.9,0a0.95,0.95 0 1,0 -1.9,0M75.3,169.8a0.95,0.95 0 1,0 1.9,0a0.95,0.95 0 1,0 -1.9,0M78.5,170.3a0.95,0.95 0 1,0 1.9,0a0.95,0.95 0 1,0 -1.9,0M79.0,170.2a0.95,0.95 0 1,0 1.9,0a0.95,0.95 0 1,0 -1.9,0M65.3,171.4a0.95,0.95 0 1,0 1.9,0a0.95,0.95 0 1,0 -1.9,0M66.4,171.3a0.95,0.95 0 1,0 1.9,0a0.95,0.95 0 1,0 -1.9,0M68.0,171.1a0.95,0.95 0 1,0 1.9,0a0.95,0.95 0 1,0 -1.9,0M69.2,171.1a0.95,0.95 0 1,0 1.9,0a0.95,0.95 0 1,0 -1.9,0M70.1,171.4a0.95,0.95 0 1,0 1.9,0a0.95,0.95 0 1,0 -1.9,0M71.3,170.9a0.95,0.95 0 1,0 1.9,0a0.95,0.95 0 1,0 -1.9,0M73.0,171.2a0.95,0.95 0 1,0 1.9,0a0.95,0.95 0 1,0 -1.9,0M74.3,170.9a0.95,0.95 0 1,0 1.9,0a0.95,0.95 0 1,0 -1.9,0M75.5,171.7a0.95,0.95 0 1,0 1.9,0a0.95,0.95 0 1,0 -1.9,0M77.2,171.3a0.95,0.95 0 1,0 1.9,0a0.95,0.95 0 1,0 -1.9,0M77.9,171.7a0.95,0.95 0 1,0 1.9,0a0.95,0.95 0 1,0 -1.9,0M79.3,170.9a0.95,0.95 0 1,0 1.9,0a0.95,0.95 0 1,0 -1.9,0M64.9,173.0a0.95,0.95 0 1,0 1.9,0a0.95,0.95 0 1,0 -1.9,0M66.7,172.4a0.95,0.95 0 1,0 1.9,0a0.95,0.95 0 1,0 -1.9,0M69.0,172.3a0.95,0.95 0 1,0 1.9,0a0.95,0.95 0 1,0 -1.9,0M71.3,172.5a0.95,0.95 0 1,0 1.9,0a0.95,0.95 0 1,0 -1.9,0M73.4,172.3a0.95,0.95 0 1,0 1.9,0a0.95,0.95 0 1,0 -1.9,0M73.9,172.5a0.95,0.95 0 1,0 1.9,0a0.95,0.95 0 1,0 -1.9,0M77.2,172.4a0.95,0.95 0 1,0 1.9,0a0.95,0.95 0 1,0 -1.9,0M78.5,172.8a0.95,0.95 0 1,0 1.9,0a0.95,0.95 0 1,0 -1.9,0M79.6,172.5a0.95,0.95 0 1,0 1.9,0a0.95,0.95 0 1,0 -1.9,0M80.6,172.3a0.95,0.95 0 1,0 1.9,0a0.95,0.95 0 1,0 -1.9,0M65.0,174.3a0.95,0.95 0 1,0 1.9,0a0.95,0.95 0 1,0 -1.9,0M66.3,174.3a0.95,0.95 0 1,0 1.9,0a0.95,0.95 0 1,0 -1.9,0M67.7,174.2a0.95,0.95 0 1,0 1.9,0a0.95,0.95 0 1,0 -1.9,0M68.6,173.5a0.95,0.95 0 1,0 1.9,0a0.95,0.95 0 1,0 -1.9,0M70.7,173.7a0.95,0.95 0 1,0 1.9,0a0.95,0.95 0 1,0 -1.9,0M72.0,173.8a0.95,0.95 0 1,0 1.9,0a0.95,0.95 0 1,0 -1.9,0M73.4,174.0a0.95,0.95 0 1,0 1.9,0a0.95,0.95 0 1,0 -1.9,0M74.4,173.7a0.95,0.95 0 1,0 1.9,0a0.95,0.95 0 1,0 -1.9,0M75.1,174.1a0.95,0.95 0 1,0 1.9,0a0.95,0.95 0 1,0 -1.9,0M77.0,174.3a0.95,0.95 0 1,0 1.9,0a0.95,0.95 0 1,0 -1.9,0M79.9,173.8a0.95,0.95 0 1,0 1.9,0a0.95,0.95 0 1,0 -1.9,0M81.8,174.2a0.95,0.95 0 1,0 1.9,0a0.95,0.95 0 1,0 -1.9,0M64.9,174.8a0.95,0.95 0 1,0 1.9,0a0.95,0.95 0 1,0 -1.9,0M68.1,175.6a0.95,0.95 0 1,0 1.9,0a0.95,0.95 0 1,0 -1.9,0M68.7,174.8a0.95,0.95 0 1,0 1.9,0a0.95,0.95 0 1,0 -1.9,0M70.5,175.2a0.95,0.95 0 1,0 1.9,0a0.95,0.95 0 1,0 -1.9,0M71.6,175.3a0.95,0.95 0 1,0 1.9,0a0.95,0.95 0 1,0 -1.9,0M73.2,175.5a0.95,0.95 0 1,0 1.9,0a0.95,0.95 0 1,0 -1.9,0M73.9,175.5a0.95,0.95 0 1,0 1.9,0a0.95,0.95 0 1,0 -1.9,0M75.6,175.1a0.95,0.95 0 1,0 1.9,0a0.95,0.95 0 1,0 -1.9,0M76.6,175.0a0.95,0.95 0 1,0 1.9,0a0.95,0.95 0 1,0 -1.9,0M77.8,175.5a0.95,0.95 0 1,0 1.9,0a0.95,0.95 0 1,0 -1.9,0M80.8,175.0a0.95,0.95 0 1,0 1.9,0a0.95,0.95 0 1,0 -1.9,0M82.2,175.6a0.95,0.95 0 1,0 1.9,0a0.95,0.95 0 1,0 -1.9,0M69.5,176.1a0.95,0.95 0 1,0 1.9,0a0.95,0.95 0 1,0 -1.9,0M70.5,176.2a0.95,0.95 0 1,0 1.9,0a0.95,0.95 0 1,0 -1.9,0M71.3,176.2a0.95,0.95 0 1,0 1.9,0a0.95,0.95 0 1,0 -1.9,0M73.0,176.6a0.95,0.95 0 1,0 1.9,0a0.95,0.95 0 1,0 -1.9,0M73.8,176.3a0.95,0.95 0 1,0 1.9,0a0.95,0.95 0 1,0 -1.9,0M75.3,176.3a0.95,0.95 0 1,0 1.9,0a0.95,0.95 0 1,0 -1.9,0M77.1,176.5a0.95,0.95 0 1,0 1.9,0a0.95,0.95 0 1,0 -1.9,0M77.8,176.4a0.95,0.95 0 1,0 1.9,0a0.95,0.95 0 1,0 -1.9,0M79.6,176.1a0.95,0.95 0 1,0 1.9,0a0.95,0.95 0 1,0 -1.9,0M80.9,176.4a0.95,0.95 0 1,0 1.9,0a0.95,0.95 0 1,0 -1.9,0M81.9,176.9a0.95,0.95 0 1,0 1.9,0a0.95,0.95 0 1,0 -1.9,0M77.2,177.4a0.95,0.95 0 1,0 1.9,0a0.95,0.95 0 1,0 -1.9,0M78.4,178.2a0.95,0.95 0 1,0 1.9,0a0.95,0.95 0 1,0 -1.9,0M81.9,178.2a0.95,0.95 0 1,0 1.9,0a0.95,0.95 0 1,0 -1.9,0M78.1,179.0a0.95,0.95 0 1,0 1.9,0a0.95,0.95 0 1,0 -1.9,0M79.6,179.1a0.95,0.95 0 1,0 1.9,0a0.95,0.95 0 1,0 -1.9,0M81.0,179.4a0.95,0.95 0 1,0 1.9,0a0.95,0.95 0 1,0 -1.9,0M81.8,179.1a0.95,0.95 0 1,0 1.9,0a0.95,0.95 0 1,0 -1.9,0M83.0,179.0a0.95,0.95 0 1,0 1.9,0a0.95,0.95 0 1,0 -1.9,0M79.2,180.7a0.95,0.95 0 1,0 1.9,0a0.95,0.95 0 1,0 -1.9,0M81.8,180.2a0.95,0.95 0 1,0 1.9,0a0.95,0.95 0 1,0 -1.9,0M83.2,180.0a0.95,0.95 0 1,0 1.9,0a0.95,0.95 0 1,0 -1.9,0" fill="#00ffff"/>
<circle cx="65.50" cy="158.30" r="1.10" fill="#ffff00"/>
<path d="M80.0,148.4a0.95,0.95 0 1,0 1.9,0a0.95,0.95 0 1,0 -1.9,0M81.0,148.1a0.95,0.95 0 1,0 1.9,0a0.95,0.95 0 1,0 -1.9,0M82.1,147.9a0.95,0.95 0 1,0 1.9,0a0.95,0.95 0 1,0 -1.9,0M80.2,148.9a0.95,0.95 0 1,0 1.9,0a0.95,0.95 0 1,0 -1.9,0M81.6,149.0a0.95,0.95 0 1,0 1.9,0a0.95,0.95 0 1,0 -1.9,0M82.6,149.3a0.95,0.95 0 1,0 1.9,0a0.95,0.95 0 1,0 -1.9,0M80.3,150.2a0.95,0.95 0 1,0 1.9,0a0.95,0.95 0 1,0 -1.9,0M82.8,150.4a0.95,0.95 0 1,0 1.9,0a0.95,0.95 0 1,0 -1.9,0M83.7,150.4a0.95,0.95 0 1,0 1.9,0a0.95,0.95 0 1,0 -1.9,0M79.8,152.2a0.95,0.95 0 1,0 1.9,0a0.95,0.95 0 1,0 -1.9,0M81.6,151.5a0.95,0.95 0 1,0 1.9,0a0.95,0.95 0 1,0 -1.9,0M82.9,152.3a0.95,0.95 0 1,0 1.9,0a0.95,0.95 0 1,0 -1.9,0M83.6,151.6a0.95,0.95 0 1,0 1.9,0a0.95,0.95 0 1,0 -1.9,0M80.3,152.8a0.95,0.95 0 1,0 1.9,0a0.95,0.95 0 1,0 -1.9,0M81.0,152.8a0.95,0.95 0 1,0 1.9,0a0.95,0.95 0 1,0 -1.9,0M82.8,153.6a0.95,0.95 0 1,0 1.9,0a0.95,0.95 0 1,0 -1.9,0M83.8,153.2a0.95,0.95 0 1,0 1.9,0a0.95,0.95 0 1,0 -1.9,0M84.9,153.2a0.95,0.95 0 1,0 1.9,0a0.95,0.95 0 1,0 -1.9,0M81.5,154.7a0.95,0.95 0 1,0 1.9,0a0.95,0.95 0 1,0 -1.9,0M82.4,154.3a0.95,0.95 0 1,0 1.9,0a0.95,0.95 0 1,0 -1.9,0M84.2,154.6a0.95,0.95 0 1,0 1.9,0a0.95,0.95 0 1,0 -1.9,0M84.9,154.4a0.95,0.95 0 1,0 1.9,0a0.95,0.95 0 1,0 -1.9,0M86.5,154.2a0.95,0.95 0 1,0 1.9,0a0.95,0.95 0 1,0 -1.9,0M81.1,155.4a0.95,0.95 0 1,0 1.9,0a0.95,0.95 0 1,0 -1.9,0M82.8,156.0a0.95,0.95 0 1,0 1.9,0a0.95,0.95 0 1,0 -1.9,0M84.0,155.8a0.95,0.95 0 1,0 1.9,0a0.95,0.95 0 1,0 -1.9,0M85.2,155.7a0.95,0.95 0 1,0 1.9,0a0.95,0.95 0 1,0 -1.9,0M86.8,155.7a0.95,0.95 0 1,0 1.9,0a0.95,0.95 0 1,0 -1.9,0M88.0,155.7a0.95,0.95 0 1,0 1.9,0a0.95,0.95 0 1,0 -1.9,0M81.2,157.5a0.95,0.95 0 1,0 1.9,0a0.95,0.95 0 1,0 -1.9,0M82.6,156.8a0.95,0.95 0 1,0 1.9,0a0.95,0.95 0 1,0 -1.9,0M84.2,157.1a0.95,0.95 0 1,0 1.9,0a0.95,0.95 0 1,0 -1.9,0M85.2,157.1a0.95,0.95 0 1,0 1.9,0a0.95,0.95 0 1,0 -1.9,0M86.5,157.2a0.95,0.95 0 1,0 1.9,0a0.95,0.95 0 1,0 -1.9,0M88.8,157.3a0.95,0.95 0 1,0 1.9,0a0.95,0.95 0 1,0 -1.9,0M83.7,158.5a0.95,0.95 0 1,0 1.9,0a0.95,0.95 0 1,0 -1.9,0M85.4,158.4a0.95,0.95 0 1,0 1.9,0a0.95,0.95 0 1,0 -1.9,0M86.5,158.1a0.95,0.95 0 1,0 1.9,0a0.95,0.95 0 1,0 -1.9,0M87.6,158.7a0.95,0.95 0 1,0 1.9,0a0.95,0.95 0 1,0 -1.9,0M88.9,158.2a0.95,0.95 0 1,0 1.9,0a0.95,0.95 0 1,0 -1.9,0M90.1,158.0a0.95,0.95 0 1,0 1.9,0a0.95,0.95 0 1,0 -1.9,0M82.3,159.9a0.95,0.95 0 1,0 1.9,0a0.95,0.95 0 1,0 -1.9,0M83.5,160.1a0.95,0.95 0 1,0 1.9,0a0.95,0.95 0 1,0 -1.9,0M84.9,160.1a0.95,0.95 0 1,0 1.9,0a0.95,0.95 0 1,0 -1.9,0M86.7,159.9a0.95,0.95 0 1,0 1.9,0a0.95,0.95 0 1,0 -1.9,0M88.0,160.0a0.95,0.95 0 1,0 1.9,0a0.95,0.95 0 1,0 -1.9,0M89.2,159.7a0.95,0.95 0 1,0 1.9,0a0.95,0.95 0 1,0 -1.9,0M90.3,160.0a0.95,0.95 0 1,0 1.9,0a0.95,0.95 0 1,0 -1.9,0M91.4,159.5a0.95,0.95 0 1,0 1.9,0a0.95,0.95 0 1,0 -1.9,0M85.2,161.0a0.95,0.95 0 1,0 1.9,0a0.95,0.95 0 1,0 -1.9,0M86.0,161.2a0.95,0.95 0 1,0 1.9,0a0.95,0.95 0 1,0 -1.9,0M87.6,161.3a0.95,0.95 0 1,0 1.9,0a0.95,0.95 0 1,0 -1.9,0M89.0,161.0a0.95,0.95 0 1,0 1.9,0a0.95,0.95 0 1,0 -1.9,0M90.1,160.9a0.95,0.95 0 1,0 1.9,0a0.95,0.95 0 1,0 -1.9,0M91.7,161.3a0.95,0.95 0 1,0 1.9,0a0.95,0.95 0 1,0 -1.9,0M93.2,160.9a0.95,0.95 0 1,0 1.9,0a0.95,0.95 0 1,0 -1.9,0M86.6,162.4a0.95,0.95 0 1,0 1.9,0a0.95,0.95 0 1,0 -1.9,0M87.5,162.5a0.95,0.95 0 1,0 1.9,0a0.95,0.95 0 1,0 -1.9,0M89.3,161.9a0.95,0.95 0 1,0 1.9,0a0.95,0.95 0 1,0 -1.9,0M89.9,162.5a0.95,0.95 0 1,0 1.9,0a0.95,0.95 0 1,0 -1.9,0M91.8,162.2a0.95,0.95 0 1,0 1.9,0a0.95,0.95 0 1,0 -1.9,0M93.2,162.4a0.95,0.95 0 1,0 1.9,0a0.95,0.95 0 1,0 -1.9,0M94.1,162.2a0.95,0.95 0 1,0 1.9,0a0.95,0.95 0 1,0 -1.9,0M88.7,163.2a0.95,0.95 0 1,0 1.9,0a0.95,0.95 0 1,0 -1.9,0M90.1,163.8a0.95,0.95 0 1,0 1.9,0a0.95,0.95 0 1,0 -1.9,0M91.2,163.8a0.95,0.95 0 1,0 1.9,0a0.95,0.95 0 1,0 -1.9,0M93.3,163.8a0.95,0.95 0 1,0 1.9,0a0.95,0.95 0 1,0 -1.9,0M94.4,163.8a0.95,0.95 0 1,0 1.9,0a0.95,0.95 0 1,0 -1.9,0M97.7,163.7a0.95,0.95 0 1,0 1.9,0a0.95,0.95 0 1,0 -1.9,0M99.1,163.4a0.95,0.95 0 1,0 1.9,0a0.95,0.95 0 1,0 -1.9,0M100.4,163.9a0.95,0.95 0 1,0 1.9,0a0.95,0.95 0 1,0 -1.9,0M90.6,164.7a0.95,0.95 0 1,0 1.9,0a0.95,0.95 0 1,0 -1.9,0M92.1,165.2a0.95,0.95 0 1,0 1.9,0a0.95,0.95 0 1,0 -1.9,0M92.8,164.8a0.95,0.95 0 1,0 1.9,0a0.95,0.95 0 1,0 -1.9,0M94.1,165.1a0.95,0.95 0 1,0 1.9,0a0.95,0.95 0 1,0 -1.9,0M95.9,165.2a0.95,0.95 0 1,0 1.9,0a0.95,0.95 0 1,0 -1.9,0M96.4,164.7a0.95,0.95 0 1,0 1.9,0a0.95,0.95 0 1,0 -1.9,0M98.2,165.2a0.95,0.95 0 1,0 1.9,0a0.95,0.95 0 1,0 -1.9,0M99.0,165.2a0.95,0.95 0 1,0 1.9,0a0.95,0.95 0 1,0 -1.9,0M101.1,165.0a0.95,0.95 0 1,0 1.9,0a0.95,0.95 0 1,0 -1.9,0M91.9,166.0a0.95,0.95 0 1,0 1.9,0a0.95,0.95 0 1,0 -1.9,0M93.3,166.5a0.95,0.95 0 1,0 1.9,0a0.95,0.95 0 1,0 -1.9,0M94.2,166.3a0.95,0.95 0 1,0 1.9,0a0.95,0.95 0 1,0 -1.9,0M95.3,165.9a0.95,0.95 0 1,0 1.9,0a0.95,0.95 0 1,0 -1.9,0M96.7,166.3a0.95,0.95 0 1,0 1.9,0a0.95,0.95 0 1,0 -1.9,0M98.2,165.9a0.95,0.95 0 1,0 1.9,0a0.95,0.95 0 1,0 -1.9,0M99.9,166.1a0.95,0.95 0 1,0 1.9,0a0.95,0.95 0 1,0 -1.9,0M100.9,166.5a0.95,0.95 0 1,0 1.9,0a0.95,0.95 0 1,0 -1.9,0M94.6,167.1a0.95,0.95 0 1,0 1.9,0a0.95,0.95 0 1,0 -1.9,0M96.6,167.6a0.95,0.95 0 1,0 1.9,0a0.95,0.95 0 1,0 -1.9,0M98.6,167.7a0.95,0.95 0 1,0 1.9,0a0.95,0.95 0 1,0 -1.9,0M101.2,167.2a0.95,0.95 0 1,0 1.9,0a0.95,0.95 0 1,0 -1.9,0M101.8,167.4a0.95,0.95 0 1,0 1.9,0a0.95,0.95 0 1,0 -1.9,0M98.5,169.1a0.95,0.95 0 1,0 1.9,0a0.95,0.95 0 1,0 -1.9,0M101.1,168.9a0.95,0.95 0 1,0 1.9,0a0.95,0.95 0 1,0 -1.9,0M101.9,169.1a0.95,0.95 0 1,0 1.9,0a0.95,0.95 0 1,0 -1.9,0M101.1,169.7a0.95,0.95 0 1,0 1.9,0a0.95,0.95 0 1,0 -1.9,0" fill="#ffff00"/>
<path d="M92.7,149.9a0.95,0.95 0 1,0 1.9,0a0.95,0.95 0 1,0 -1.9,0M93.4,149.3a0.95,0.95 0 1,0 1.9,0a0.95,0.95 0 1,0 -1.9,0M95.0,149.5a0.95,0.95 0 1,0 1.9,0a0.95,0.95 0 1,0 -1.9,0M92.7,150.9a0.95,0.95 0 1,0 1.9,0a0.95,0.95 0 1,0 -1.9,0M93.3,151.3a0.95,0.95 0 1,0 1.9,0a0.95,0.95 0 1,0 -1.9,0M95.4,151.3a0.95,0.95 0 1,0 1.9,0a0.95,0.95 0 1,0 -1.9,0M95.9,151.4a0.95,0.95 0 1,0 1.9,0a0.95,0.95 0 1,0 -1.9,0M92.3,152.0a0.95,0.95 0 1,0 1.9,0a0.95,0.95 0 1,0 -1.9,0M93.8,151.9a0.95,0.95 0 1,0 1.9,0a0.95,0.95 0 1,0 -1.9,0M95.0,152.3a0.95,0.95 0 1,0 1.9,0a0.95,0.95 0 1,0 -1.9,0M96.5,152.6a0.95,0.95 0 1,0 1.9,0a0.95,0.95 0 1,0 -1.9,0M97.5,152.5a0.95,0.95 0 1,0 1.9,0a0.95,0.95 0 1,0 -1.9,0M93.7,153.6a0.95,0.95 0 1,0 1.9,0a0.95,0.95 0 1,0 -1.9,0M96.1,153.3a0.95,0.95 0 1,0 1.9,0a0.95,0.95 0 1,0 -1.9,0" fill="#00ff00"/>
<path d="M104.4,142.1a0.95,0.95 0 1,0 1.9,0a0.95,0.95 0 1,0 -1.9,0M107.0,142.6a0.95,0.95 0 1,0 1.9,0a0.95,0.95 0 1,0 -1.9,0M101.8,143.8a0.95,0.95 0 1,0 1.9,0a0.95,0.95 0 1,0 -1.9,0M102.4,143.6a0.95,0.95 0 1,0 1.9,0a0.95,0.95 0 1,0 -1.9,0M104.3,143.3a0.95,0.95 0 1,0 1.9,0a0.95,0.95 0 1,0 -1.9,0M105.8,143.6a0.95,0.95 0 1,0 1.9,0a0.95,0.95 0 1,0 -1.9,0M107.9,143.3a0.95,0.95 0 1,0 1.9,0a0.95,0.95 0 1,0 -1.9,0M110.7,143.3a0.95,0.95 0 1,0 1.9,0a0.95,0.95 0 1,0 -1.9,0M101.6,144.9a0.95,0.95 0 1,0 1.9,0a0.95,0.95 0 1,0 -1.9,0M103.0,144.8a0.95,0.95 0 1,0 1.9,0a0.95,0.95 0 1,0 -1.9,0M104.3,144.8a0.95,0.95 0 1,0 1.9,0a0.95,0.95 0 1,0 -1.9,0M105.2,144.5a0.95,0.95 0 1,0 1.9,0a0.95,0.95 0 1,0 -1.9,0M106.6,144.9a0.95,0.95 0 1,0 1.9,0a0.95,0.95 0 1,0 -1.9,0M107.9,145.1a0.95,0.95 0 1,0 1.9,0a0.95,0.95 0 1,0 -1.9,0M109.4,144.8a0.95,0.95 0 1,0 1.9,0a0.95,0.95 0 1,0 -1.9,0M111.1,144.6a0.95,0.95 0 1,0 1.9,0a0.95,0.95 0 1,0 -1.9,0M111.6,144.4a0.95,0.95 0 1,0 1.9,0a0.95,0.95 0 1,0 -1.9,0M101.4,146.0a0.95,0.95 0 1,0 1.9,0a0.95,0.95 0 1,0 -1.9,0M103.0,146.4a0.95,0.95 0 1,0 1.9,0a0.95,0.95 0 1,0 -1.9,0M104.2,146.3a0.95,0.95 0 1,0 1.9,0a0.95,0.95 0 1,0 -1.9,0M105.7,146.1a0.95,0.95 0 1,0 1.9,0a0.95,0.95 0 1,0 -1.9,0M106.9,146.5a0.95,0.95 0 1,0 1.9,0a0.95,0.95 0 1,0 -1.9,0M108.4,145.7a0.95,0.95 0 1,0 1.9,0a0.95,0.95 0 1,0 -1.9,0M110.7,146.0a0.95,0.95 0 1,0 1.9,0a0.95,0.95 0 1,0 -1.9,0M112.3,146.2a0.95,0.95 0 1,0 1.9,0a0.95,0.95 0 1,0 -1.9,0M113.2,146.1a0.95,0.95 0 1,0 1.9,0a0.95,0.95 0 1,0 -1.9,0M114.4,146.0a0.95,0.95 0 1,0 1.9,0a0.95,0.95 0 1,0 -1.9,0M101.3,147.2a0.95,0.95 0 1,0 1.9,0a0.95,0.95 0 1,0 -1.9,0M102.9,147.5a0.95,0.95 0 1,0 1.9,0a0.95,0.95 0 1,0 -1.9,0M104.5,147.2a0.95,0.95 0 1,0 1.9,0a0.95,0.95 0 1,0 -1.9,0M105.8,147.8a0.95,0.95 0 1,0 1.9,0a0.95,0.95 0 1,0 -1.9,0M106.7,147.8a0.95,0.95 0 1,0 1.9,0a0.95,0.95 0 1,0 -1.9,0M107.6,147.5a0.95,0.95 0 1,0 1.9,0a0.95,0.95 0 1,0 -1.9,0M109.7,147.6a0.95,0.95 0 1,0 1.9,0a0.95,0.95 0 1,0 -1.9,0M111.1,147.4a0.95,0.95 0 1,0 1.9,0a0.95,0.95 0 1,0 -1.9,0M112.1,147.3a0.95,0.95 0 1,0 1.9,0a0.95,0.95 0 1,0 -1.9,0M114.7,147.4a0.95,0.95 0 1,0 1.9,0a0.95,0.95 0 1,0 -1.9,0M115.7,147.3a0.95,0.95 0 1,0 1.9,0a0.95,0.95 0 1,0 -1.9,0M102.7,148.7a0.95,0.95 0 1,0 1.9,0a0.95,0.95 0 1,0 -1.9,0M105.7,148.7a0.95,0.95 0 1,0 1.9,0a0.95,0.95 0 1,0 -1.9,0M107.1,148.9a0.95,0.95 0 1,0 1.9,0a0.95,0.95 0 1,0 -1.9,0M108.5,149.0a0.95,0.95 0 1,0 1.9,0a0.95,0.95 0 1,0 -1.9,0M109.0,148.5a0.95,0.95 0 1,0 1.9,0a0.95,0.95 0 1,0 -1.9,0M110.7,148.4a0.95,0.95 0 1,0 1.9,0a0.95,0.95 0 1,0 -1.9,0M112.1,148.8a0.95,0.95 0 1,0 1.9,0a0.95,0.95 0 1,0 -1.9,0M113.7,148.8a0.95,0.95 0 1,0 1.9,0a0.95,0.95 0 1,0 -1.9,0M114.5,149.0a0.95,0.95 0 1,0 1.9,0a0.95,0.95 0 1,0 -1.9,0M116.0,148.3a0.95,0.95 0 1,0 1.9,0a0.95,0.95 0 1,0 -1.9,0M102.6,150.1a0.95,0.95 0 1,0 1.9,0a0.95,0.95 0 1,0 -1.9,0M104.6,150.1a0.95,0.95 0 1,0 1.9,0a0.95,0.95 0 1,0 -1.9,0M105.1,149.7a0.95,0.95 0 1,0 1.9,0a0.95,0.95 0 1,0 -1.9,0M106.4,149.6a0.95,0.95 0 1,0 1.9,0a0.95,0.95 0 1,0 -1.9,0M108.1,150.3a0.95,0.95 0 1,0 1.9,0a0.95,0.95 0 1,0 -1.9,0M109.6,149.6a0.95,0.95 0 1,0 1.9,0a0.95,0.95 0 1,0 -1.9,0M110.9,149.8a0.95,0.95 0 1,0 1.9,0a0.95,0.95 0 1,0 -1.9,0M111.8,149.7a0.95,0.95 0 1,0 1.9,0a0.95,0.95 0 1,0 -1.9,0M112.9,150.4a0.95,0.95 0 1,0 1.9,0a0.95,0.95 0 1,0 -1.9,0M114.4,150.0a0.95,0.95 0 1,0 1.9,0a0.95,0.95 0 1,0 -1.9,0M115.4,150.4a0.95,0.95 0 1,0 1.9,0a0.95,0.95 0 1,0 -1.9,0M117.6,149.9a0.95,0.95 0 1,0 1.9,0a0.95,0.95 0 1,0 -1.9,0M104.4,151.1a0.95,0.95 0 1,0 1.9,0a0.95,0.95 0 1,0 -1.9,0M106.5,151.2a0.95,0.95 0 1,0 1.9,0a0.95,0.95 0 1,0 -1.9,0M107.8,151.1a0.95,0.95 0 1,0 1.9,0a0.95,0.95 0 1,0 -1.9,0M109.3,151.6a0.95,0.95 0 1,0 1.9,0a0.95,0.95 0 1,0 -1.9,0M110.4,151.2a0.95,0.95 0 1,0 1.9,0a0.95,0.95 0 1,0 -1.9,0M112.4,151.1a0.95,0.95 0 1,0 1.9,0a0.95,0.95 0 1,0 -1.9,0M112.9,151.3a0.95,0.95 0 1,0 1.9,0a0.95,0.95 0 1,0 -1.9,0M114.5,150.9a0.95,0.95 0 1,0 1.9,0a0.95,0.95 0 1,0 -1.9,0M116.1,151.2a0.95,0.95 0 1,0 1.9,0a0.95,0.95 0 1,0 -1.9,0M116.9,151.1a0.95,0.95 0 1,0 1.9,0a0.95,0.95 0 1,0 -1.9,0M107.7,152.5a0.95,0.95 0 1,0 1.9,0a0.95,0.95 0 1,0 -1.9,0M109.2,153.0a0.95,0.95 0 1,0 1.9,0a0.95,0.95 0 1,0 -1.9,0M111.1,152.6a0.95,0.95 0 1,0 1.9,0a0.95,0.95 0 1,0 -1.9,0M111.9,152.3a0.95,0.95 0 1,0 1.9,0a0.95,0.95 0 1,0 -1.9,0M113.0,153.0a0.95,0.95 0 1,0 1.9,0a0.95,0.95 0 1,0 -1.9,0M114.4,152.4a0.95,0.95 0 1,0 1.9,0a0.95,0.95 0 1,0 -1.9,0M115.6,152.9a0.95,0.95 0 1,0 1.9,0a0.95,0.95 0 1,0 -1.9,0M117.2,152.6a0.95,0.95 0 1,0 1.9,0a0.95,0.95 0 1,0 -1.9,0M109.4,153.7a0.95,0.95 0 1,0 1.9,0a0.95,0.95 0 1,0 -1.9,0M110.5,153.7a0.95,0.95 0 1,0 1.9,0a0.95,0.95 0 1,0 -1.9,0M112.1,153.7a0.95,0.95 0 1,0 1.9,0a0.95,0.95 0 1,0 -1.9,0M113.6,154.1a0.95,0.95 0 1,0 1.9,0a0.95,0.95 0 1,0 -1.9,0M114.9,153.6a0.95,0.95 0 1,0 1.9,0a0.95,0.95 0 1,0 -1.9,0M115.4,154.1a0.95,0.95 0 1,0 1.9,0a0.95,0.95 0 1,0 -1.9,0M117.0,153.8a0.95,0.95 0 1,0 1.9,0a0.95,0.95 0 1,0 -1.9,0M109.2,155.1a0.95,0.95 0 1,0 1.9,0a0.95,0.95 0 1,0 -1.9,0M110.5,155.3a0.95,0.95 0 1,0 1.9,0a0.95,0.95 0 1,0 -1.9,0M112.3,155.3a0.95,0.95 0 1,0 1.9,0a0.95,0.95 0 1,0 -1.9,0M113.0,155.1a0.95,0.95 0 1,0 1.9,0a0.95,0.95 0 1,0 -1.9,0M114.4,154.8a0.95,0.95 0 1,0 1.9,0a0.95,0.95 0 1,0 -1.9,0M116.1,155.0a0.95,0.95 0 1,0 1.9,0a0.95,0.95 0 1,0 -1.9,0M117.5,155.3a0.95,0.95 0 1,0 1.9,0a0.95,0.95 0 1,0 -1.9,0M109.3,156.9a0.95,0.95 0 1,0 1.9,0a0.95,0.95 0 1,0 -1.9,0M110.9,156.8a0.95,0.95 0 1,0 1.9,0a0.95,0.95 0 1,0 -1.9,0M111.9,156.1a0.95,0.95 0 1,0 1.9,0a0.95,0.95 0 1,0 -1.9,0M114.2,156.7a0.95,0.95 0 1,0 1.9,0a0.95,0.95 0 1,0 -1.9,0M116.0,156.8a0.95,0.95 0 1,0 1.9,0a0.95,0.95 0 1,0 -1.9,0M109.3,158.2a0.95,0.95 0 1,0 1.9,0a0.95,0.95 0 1,0 -1.9,0M110.5,158.1a0.95,0.95 0 1,0 1.9,0a0.95,0.95 0 1,0 -1.9,0M112.0,157.7a0.95,0.95 0 1,0 1.9,0a0.95,0.95 0 1,0 -1.9,0M113.3,158.0a0.95,0.95 0 1,0 1.9,0a0.95,0.95 0 1,0 -1.9,0M114.7,157.9a0.95,0.95 0 1,0 1.9,0a0.95,0.95 0 1,0 -1.9,0M116.1,158.1a0.95,0.95 0 1,0 1.9,0a0.95,0.95 0 1,0 -1.9,0M109.6,158.7a0.95,0.95 0 1,0 1.9,0a0.95,0.95 0 1,0 -1.9,0M111.1,159.2a0.95,0.95 0 1,0 1.9,0a0.95,0.95 0 1,0 -1.9,0M111.9,159.0a0.95,0.95 0 1,0 1.9,0a0.95,0.95 0 1,0 -1.9,0M113.3,158.7a0.95,0.95 0 1,0 1.9,0a0.95,0.95 0 1,0 -1.9,0M116.0,158.9a0.95,0.95 0 1,0 1.9,0a0.95,0.95 0 1,0 -1.9,0M109.2,160.3a0.95,0.95 0 1,0 1.9,0a0.95,0.95 0 1,0 -1.9,0M110.5,160.7a0.95,0.95 0 1,0 1.9,0a0.95,0.95 0 1,0 -1.9,0M111.5,160.5a0.95,0.95 0 1,0 1.9,0a0.95,0.95 0 1,0 -1.9,0M113.5,160.6a0.95,0.95 0 1,0 1.9,0a0.95,0.95 0 1,0 -1.9,0M115.0,160.4a0.95,0.95 0 1,0 1.9,0a0.95,0.95 0 1,0 -1.9,0M115.5,160.2a0.95,0.95 0 1,0 1.9,0a0.95,0.95 0 1,0 -1.9,0M109.5,161.7a0.95,0.95 0 1,0 1.9,0a0.95,0.95 0 1,0 -1.9,0M110.5,161.6a0.95,0.95 0 1,0 1.9,0a0.95,0.95 0 1,0 -1.9,0M112.2,162.1a0.95,0.95 0 1,0 1.9,0a0.95,0.95 0 1,0 -1.9,0M113.1,161.6a0.95,0.95 0 1,0 1.9,0a0.95,0.95 0 1,0 -1.9,0M114.4,161.4a0.95,0.95 0 1,0 1.9,0a0.95,0.95 0 1,0 -1.9,0M108.2,162.8a0.95,0.95 0 1,0 1.9,0a0.95,0.95 0 1,0 -1.9,0M109.7,162.6a0.95,0.95 0 1,0 1.9,0a0.95,0.95 0 1,0 -1.9,0M110.8,163.0a0.95,0.95 0 1,0 1.9,0a0.95,0.95 0 1,0 -1.9,0M112.1,162.9a0.95,0.95 0 1,0 1.9,0a0.95,0.95 0 1,0 -1.9,0M113.2,163.0a0.95,0.95 0 1,0 1.9,0a0.95,0.95 0 1,0 -1.9,0M114.5,162.7a0.95,0.95 0 1,0 1.9,0a0.95,0.95 0 1,0 -1.9,0M105.1,164.3a0.95,0.95 0 1,0 1.9,0a0.95,0.95 0 1,0 -1.9,0M106.4,164.2a0.95,0.95 0 1,0 1.9,0a0.95,0.95 0 1,0 -1.9,0M108.0,164.6a0.95,0.95 0 1,0 1.9,0a0.95,0.95 0 1,0 -1.9,0M109.5,164.5a0.95,0.95 0 1,0 1.9,0a0.95,0.95 0 1,0 -1.9,0M111.1,164.5a0.95,0.95 0 1,0 1.9,0a0.95,0.95 0 1,0 -1.9,0M112.2,164.2a0.95,0.95 0 1,0 1.9,0a0.95,0.95 0 1,0 -1.9,0M113.7,164.4a0.95,0.95 0 1,0 1.9,0a0.95,0.95 0 1,0 -1.9,0M114.2,164.5a0.95,0.95 0 1,0 1.9,0a0.95,0.95 0 1,0 -1.9,0M103.2,165.7a0.95,0.95 0 1,0 1.9,0a0.95,0.95 0 1,0 -1.9,0M104.2,166.0a0.95,0.95 0 1,0 1.9,0a0.95,0.95 0 1,0 -1.9,0M105.2,165.8a0.95,0.95 0 1,0 1.9,0a0.95,0.95 0 1,0 -1.9,0M107.0,165.8a0.95,0.95 0 1,0 1.9,0a0.95,0.95 0 1,0 -1.9,0M107.7,165.5a0.95,0.95 0 1,0 1.9,0a0.95,0.95 0 1,0 -1.9,0M109.8,165.8a0.95,0.95 0 1,0 1.9,0a0.95,0.95 0 1,0 -1.9,0M110.7,165.2a0.95,0.95 0 1,0 1.9,0a0.95,0.95 0 1,0 -1.9,0M113.4,165.4a0.95,0.95 0 1,0 1.9,0a0.95,0.95 0 1,0 -1.9,0M103.0,166.8a0.95,0.95 0 1,0 1.9,0a0.95,0.95 0 1,0 -1.9,0M104.5,166.9a0.95,0.95 0 1,0 1.9,0a0.95,0.95 0 1,0 -1.9,0M105.7,167.3a0.95,0.95 0 1,0 1.9,0a0.95,0.95 0 1,0 -1.9,0M106.6,166.6a0.95,0.95 0 1,0 1.9,0a0.95,0.95 0 1,0 -1.9,0M108.4,167.2a0.95,0.95 0 1,0 1.9,0a0.95,0.95 0 1,0 -1.9,0M109.1,167.2a0.95,0.95 0 1,0 1.9,0a0.95,0.95 0 1,0 -1.9,0M110.6,166.9a0.95,0.95 0 1,0 1.9,0a0.95,0.95 0 1,0 -1.9,0M101.5,168.3a0.95,0.95 0 1,0 1.9,0a0.95,0.95 0 1,0 -1.9,0M102.7,167.8a0.95,0.95 0 1,0 1.9,0a0.95,0.95 0 1,0 -1.9,0M104.0,167.8a0.95,0.95 0 1,0 1.9,0a0.95,0.95 0 1,0 -1.9,0M105.9,167.8a0.95,0.95 0 1,0 1.9,0a0.95,0.95 0 1,0 -1.9,0M106.9,168.0a0.95,0.95 0 1,0 1.9,0a0.95,0.95 0 1,0 -1.9,0M108.1,168.0a0.95,0.95 0 1,0 1.9,0a0.95,0.95 0 1,0 -1.9,0M103.1,169.5a0.95,0.95 0 1,0 1.9,0a0.95,0.95 0 1,0 -1.9,0M104.0,169.5a0.95,0.95 0 1,0 1.9,0a0.95,0.95 0 1,0 -1.9,0M105.1,169.4a0.95,0.95 0 1,0 1.9,0a0.95,0.95 0 1,0 -1.9,0" fill="#00ff00"/>
<path d="M128.5,168.3a0.95,0.95 0 1,0 1.9,0a0.95,0.95 0 1,0 -1.9,0M130.1,168.3a0.95,0.95 0 1,0 1.9,0a0.95,0.95 0 1,0 -1.9,0M132.5,167.9a0.95,0.95 0 1,0 1.9,0a0.95,0.95 0 1,0 -1.9,0M134.7,168.1a0.95,0.95 0 1,0 1.9,0a0.95,0.95 0 1,0 -1.9,0M131.4,169.2a0.95,0.95 0 1,0 1.9,0a0.95,0.95 0 1,0 -1.9,0M132.3,169.3a0.95,0.95 0 1,0 1.9,0a0.95,0.95 0 1,0 -1.9,0M133.6,169.6a0.95,0.95 0 1,0 1.9,0a0.95,0.95 0 1,0 -1.9,0M135.0,169.8a0.95,0.95 0 1,0 1.9,0a0.95,0.95 0 1,0 -1.9,0M136.5,169.1a0.95,0.95 0 1,0 1.9,0a0.95,0.95 0 1,0 -1.9,0M138.1,169.2a0.95,0.95 0 1,0 1.9,0a0.95,0.95 0 1,0 -1.9,0M139.3,169.2a0.95,0.95 0 1,0 1.9,0a0.95,0.95 0 1,0 -1.9,0M140.3,169.8a0.95,0.95 0 1,0 1.9,0a0.95,0.95 0 1,0 -1.9,0M141.8,169.5a0.95,0.95 0 1,0 1.9,0a0.95,0.95 0 1,0 -1.9,0M143.0,169.7a0.95,0.95 0 1,0 1.9,0a0.95,0.95 0 1,0 -1.9,0M144.6,169.3a0.95,0.95 0 1,0 1.9,0a0.95,0.95 0 1,0 -1.9,0M145.9,169.1a0.95,0.95 0 1,0 1.9,0a0.95,0.95 0 1,0 -1.9,0M147.3,169.2a0.95,0.95 0 1,0 1.9,0a0.95,0.95 0 1,0 -1.9,0M147.8,169.8a0.95,0.95 0 1,0 1.9,0a0.95,0.95 0 1,0 -1.9,0M129.7,170.6a0.95,0.95 0 1,0 1.9,0a0.95,0.95 0 1,0 -1.9,0M130.8,171.1a0.95,0.95 0 1,0 1.9,0a0.95,0.95 0 1,0 -1.9,0M132.9,170.4a0.95,0.95 0 1,0 1.9,0a0.95,0.95 0 1,0 -1.9,0M133.5,170.6a0.95,0.95 0 1,0 1.9,0a0.95,0.95 0 1,0 -1.9,0M135.3,170.4a0.95,0.95 0 1,0 1.9,0a0.95,0.95 0 1,0 -1.9,0M136.5,170.4a0.95,0.95 0 1,0 1.9,0a0.95,0.95 0 1,0 -1.9,0M137.7,171.1a0.95,0.95 0 1,0 1.9,0a0.95,0.95 0 1,0 -1.9,0M138.8,171.1a0.95,0.95 0 1,0 1.9,0a0.95,0.95 0 1,0 -1.9,0M140.6,170.5a0.95,0.95 0 1,0 1.9,0a0.95,0.95 0 1,0 -1.9,0M141.4,170.3a0.95,0.95 0 1,0 1.9,0a0.95,0.95 0 1,0 -1.9,0M143.0,170.6a0.95,0.95 0 1,0 1.9,0a0.95,0.95 0 1,0 -1.9,0M144.1,170.3a0.95,0.95 0 1,0 1.9,0a0.95,0.95 0 1,0 -1.9,0M145.7,170.7a0.95,0.95 0 1,0 1.9,0a0.95,0.95 0 1,0 -1.9,0M147.0,171.1a0.95,0.95 0 1,0 1.9,0a0.95,0.95 0 1,0 -1.9,0M148.3,170.6a0.95,0.95 0 1,0 1.9,0a0.95,0.95 0 1,0 -1.9,0M149.4,171.1a0.95,0.95 0 1,0 1.9,0a0.95,0.95 0 1,0 -1.9,0M150.6,170.6a0.95,0.95 0 1,0 1.9,0a0.95,0.95 0 1,0 -1.9,0M152.5,170.3a0.95,0.95 0 1,0 1.9,0a0.95,0.95 0 1,0 -1.9,0M132.1,172.2a0.95,0.95 0 1,0 1.9,0a0.95,0.95 0 1,0 -1.9,0M134.9,172.1a0.95,0.95 0 1,0 1.9,0a0.95,0.95 0 1,0 -1.9,0M136.3,172.2a0.95,0.95 0 1,0 1.9,0a0.95,0.95 0 1,0 -1.9,0M137.8,172.1a0.95,0.95 0 1,0 1.9,0a0.95,0.95 0 1,0 -1.9,0M138.9,172.1a0.95,0.95 0 1,0 1.9,0a0.95,0.95 0 1,0 -1.9,0M140.1,172.1a0.95,0.95 0 1,0 1.9,0a0.95,0.95 0 1,0 -1.9,0M142.0,172.0a0.95,0.95 0 1,0 1.9,0a0.95,0.95 0 1,0 -1.9,0M143.0,172.0a0.95,0.95 0 1,0 1.9,0a0.95,0.95 0 1,0 -1.9,0M143.9,172.4a0.95,0.95 0 1,0 1.9,0a0.95,0.95 0 1,0 -1.9,0M145.6,172.0a0.95,0.95 0 1,0 1.9,0a0.95,0.95 0 1,0 -1.9,0M146.6,171.7a0.95,0.95 0 1,0 1.9,0a0.95,0.95 0 1,0 -1.9,0M148.1,172.1a0.95,0.95 0 1,0 1.9,0a0.95,0.95 0 1,0 -1.9,0M149.8,172.3a0.95,0.95 0 1,0 1.9,0a0.95,0.95 0 1,0 -1.9,0M150.6,172.3a0.95,0.95 0 1,0 1.9,0a0.95,0.95 0 1,0 -1.9,0M151.7,171.7a0.95,0.95 0 1,0 1.9,0a0.95,0.95 0 1,0 -1.9,0M153.0,171.9a0.95,0.95 0 1,0 1.9,0a0.95,0.95 0 1,0 -1.9,0M154.7,172.0a0.95,0.95 0 1,0 1.9,0a0.95,0.95 0 1,0 -1.9,0M155.9,172.4a0.95,0.95 0 1,0 1.9,0a0.95,0.95 0 1,0 -1.9,0M140.0,173.4a0.95,0.95 0 1,0 1.9,0a0.95,0.95 0 1,0 -1.9,0M141.4,173.2a0.95,0.95 0 1,0 1.9,0a0.95,0.95 0 1,0 -1.9,0M143.1,173.2a0.95,0.95 0 1,0 1.9,0a0.95,0.95 0 1,0 -1.9,0M144.2,173.2a0.95,0.95 0 1,0 1.9,0a0.95,0.95 0 1,0 -1.9,0M145.4,173.2a0.95,0.95 0 1,0 1.9,0a0.95,0.95 0 1,0 -1.9,0M147.1,173.2a0.95,0.95 0 1,0 1.9,0a0.95,0.95 0 1,0 -1.9,0M148.2,173.7a0.95,0.95 0 1,0 1.9,0a0.95,0.95 0 1,0 -1.9,0M149.9,173.5a0.95,0.95 0 1,0 1.9,0a0.95,0.95 0 1,0 -1.9,0M150.9,173.1a0.95,0.95 0 1,0 1.9,0a0.95,0.95 0 1,0 -1.9,0M152.3,173.2a0.95,0.95 0 1,0 1.9,0a0.95,0.95 0 1,0 -1.9,0M153.3,173.7a0.95,0.95 0 1,0 1.9,0a0.95,0.95 0 1,0 -1.9,0M154.2,173.4a0.95,0.95 0 1,0 1.9,0a0.95,0.95 0 1,0 -1.9,0M155.9,173.6a0.95,0.95 0 1,0 1.9,0a0.95,0.95 0 1,0 -1.9,0M139.9,174.8a0.95,0.95 0 1,0 1.9,0a0.95,0.95 0 1,0 -1.9,0M141.6,174.2a0.95,0.95 0 1,0 1.9,0a0.95,0.95 0 1,0 -1.9,0M144.5,174.9a0.95,0.95 0 1,0 1.9,0a0.95,0.95 0 1,0 -1.9,0M145.4,174.6a0.95,0.95 0 1,0 1.9,0a0.95,0.95 0 1,0 -1.9,0M147.3,174.4a0.95,0.95 0 1,0 1.9,0a0.95,0.95 0 1,0 -1.9,0M148.0,174.4a0.95,0.95 0 1,0 1.9,0a0.95,0.95 0 1,0 -1.9,0M149.5,174.6a0.95,0.95 0 1,0 1.9,0a0.95,0.95 0 1,0 -1.9,0M150.3,174.4a0.95,0.95 0 1,0 1.9,0a0.95,0.95 0 1,0 -1.9,0M152.3,174.9a0.95,0.95 0 1,0 1.9,0a0.95,0.95 0 1,0 -1.9,0M153.1,174.2a0.95,0.95 0 1,0 1.9,0a0.95,0.95 0 1,0 -1.9,0M154.5,174.6a0.95,0.95 0 1,0 1.9,0a0.95,0.95 0 1,0 -1.9,0M156.0,174.5a0.95,0.95 0 1,0 1.9,0a0.95,0.95 0 1,0 -1.9,0M157.0,175.0a0.95,0.95 0 1,0 1.9,0a0.95,0.95 0 1,0 -1.9,0M140.7,175.5a0.95,0.95 0 1,0 1.9,0a0.95,0.95 0 1,0 -1.9,0M141.4,176.3a0.95,0.95 0 1,0 1.9,0a0.95,0.95 0 1,0 -1.9,0M143.2,175.9a0.95,0.95 0 1,0 1.9,0a0.95,0.95 0 1,0 -1.9,0M144.4,175.7a0.95,0.95 0 1,0 1.9,0a0.95,0.95 0 1,0 -1.9,0M145.9,175.6a0.95,0.95 0 1,0 1.9,0a0.95,0.95 0 1,0 -1.9,0M146.6,175.5a0.95,0.95 0 1,0 1.9,0a0.95,0.95 0 1,0 -1.9,0M148.4,176.3a0.95,0.95 0 1,0 1.9,0a0.95,0.95 0 1,0 -1.9,0M149.6,175.7a0.95,0.95 0 1,0 1.9,0a0.95,0.95 0 1,0 -1.9,0M150.9,175.6a0.95,0.95 0 1,0 1.9,0a0.95,0.95 0 1,0 -1.9,0M152.2,175.5a0.95,0.95 0 1,0 1.9,0a0.95,0.95 0 1,0 -1.9,0M153.2,175.7a0.95,0.95 0 1,0 1.9,0a0.95,0.95 0 1,0 -1.9,0M154.5,176.0a0.95,0.95 0 1,0 1.9,0a0.95,0.95 0 1,0 -1.9,0M156.3,175.7a0.95,0.95 0 1,0 1.9,0a0.95,0.95 0 1,0 -1.9,0M142.0,176.8a0.95,0.95 0 1,0 1.9,0a0.95,0.95 0 1,0 -1.9,0M144.3,176.8a0.95,0.95 0 1,0 1.9,0a0.95,0.95 0 1,0 -1.9,0M151.6,177.0a0.95,0.95 0 1,0 1.9,0a0.95,0.95 0 1,0 -1.9,0" fill="#ff00ff"/>
<path d="M117.5,171.0a0.95,0.95 0 1,0 1.9,0a0.95,0.95 0 1,0 -1.9,0M118.7,170.9a0.95,0.95 0 1,0 1.9,0a0.95,0.95 0 1,0 -1.9,0M120.4,171.5a0.95,0.95 0 1,0 1.9,0a0.95,0.95 0 1,0 -1.9,0M122.0,171.1a0.95,0.95 0 1,0 1.9,0a0.95,0.95 0 1,0 -1.9,0M123.0,171.3a0.95,0.95 0 1,0 1.9,0a0.95,0.95 0 1,0 -1.9,0M115.4,172.6a0.95,0.95 0 1,0 1.9,0a0.95,0.95 0 1,0 -1.9,0M117.3,172.5a0.95,0.95 0 1,0 1.9,0a0.95,0.95 0 1,0 -1.9,0M119.3,172.3a0.95,0.95 0 1,0 1.9,0a0.95,0.95 0 1,0 -1.9,0M120.3,172.8a0.95,0.95 0 1,0 1.9,0a0.95,0.95 0 1,0 -1.9,0M122.0,172.3a0.95,0.95 0 1,0 1.9,0a0.95,0.95 0 1,0 -1.9,0M122.6,172.2a0.95,0.95 0 1,0 1.9,0a0.95,0.95 0 1,0 -1.9,0M124.4,172.1a0.95,0.95 0 1,0 1.9,0a0.95,0.95 0 1,0 -1.9,0M125.2,172.1a0.95,0.95 0 1,0 1.9,0a0.95,0.95 0 1,0 -1.9,0M115.3,173.4a0.95,0.95 0 1,0 1.9,0a0.95,0.95 0 1,0 -1.9,0M116.8,174.0a0.95,0.95 0 1,0 1.9,0a0.95,0.95 0 1,0 -1.9,0M117.9,173.6a0.95,0.95 0 1,0 1.9,0a0.95,0.95 0 1,0 -1.9,0M119.5,173.9a0.95,0.95 0 1,0 1.9,0a0.95,0.95 0 1,0 -1.9,0M122.0,173.9a0.95,0.95 0 1,0 1.9,0a0.95,0.95 0 1,0 -1.9,0M123.2,173.8a0.95,0.95 0 1,0 1.9,0a0.95,0.95 0 1,0 -1.9,0M124.5,174.0a0.95,0.95 0 1,0 1.9,0a0.95,0.95 0 1,0 -1.9,0M125.4,174.1a0.95,0.95 0 1,0 1.9,0a0.95,0.95 0 1,0 -1.9,0M128.4,173.5a0.95,0.95 0 1,0 1.9,0a0.95,0.95 0 1,0 -1.9,0M129.2,173.4a0.95,0.95 0 1,0 1.9,0a0.95,0.95 0 1,0 -1.9,0M119.2,175.4a0.95,0.95 0 1,0 1.9,0a0.95,0.95 0 1,0 -1.9,0M120.3,174.6a0.95,0.95 0 1,0 1.9,0a0.95,0.95 0 1,0 -1.9,0M122.0,174.9a0.95,0.95 0 1,0 1.9,0a0.95,0.95 0 1,0 -1.9,0M123.3,175.3a0.95,0.95 0 1,0 1.9,0a0.95,0.95 0 1,0 -1.9,0M124.2,174.6a0.95,0.95 0 1,0 1.9,0a0.95,0.95 0 1,0 -1.9,0M125.8,174.9a0.95,0.95 0 1,0 1.9,0a0.95,0.95 0 1,0 -1.9,0M126.8,174.9a0.95,0.95 0 1,0 1.9,0a0.95,0.95 0 1,0 -1.9,0M128.0,175.3a0.95,0.95 0 1,0 1.9,0a0.95,0.95 0 1,0 -1.9,0M129.3,174.6a0.95,0.95 0 1,0 1.9,0a0.95,0.95 0 1,0 -1.9,0M126.6,176.6a0.95,0.95 0 1,0 1.9,0a0.95,0.95 0 1,0 -1.9,0M128.2,175.9a0.95,0.95 0 1,0 1.9,0a0.95,0.95 0 1,0 -1.9,0" fill="#ff00ff"/>
<line x1="121.50" y1="176.20" x2="127.50" y2="181.70" stroke="#ff00ff" stroke-width="1.6"/>
<line x1="128.00" y1="180.60" x2="133.60" y2="185.20" stroke="#ff00ff" stroke-width="1.6"/>
<line x1="131.90" y1="179.10" x2="139.80" y2="184.00" stroke="#ff00ff" stroke-width="1.6"/>
<path d="M62.1,191.5a0.95,0.95 0 1,0 1.9,0a0.95,0.95 0 1,0 -1.9,0M63.1,191.5a0.95,0.95 0 1,0 1.9,0a0.95,0.95 0 1,0 -1.9,0M62.3,192.1a0.95,0.95 0 1,0 1.9,0a0.95,0.95 0 1,0 -1.9,0M63.3,192.0a0.95,0.95 0 1,0 1.9,0a0.95,0.95 0 1,0 -1.9,0M64.8,192.5a0.95,0.95 0 1,0 1.9,0a0.95,0.95 0 1,0 -1.9,0M60.5,194.1a0.95,0.95 0 1,0 1.9,0a0.95,0.95 0 1,0 -1.9,0M62.1,193.5a0.95,0.95 0 1,0 1.9,0a0.95,0.95 0 1,0 -1.9,0M63.3,194.0a0.95,0.95 0 1,0 1.9,0a0.95,0.95 0 1,0 -1.9,0M64.4,193.4a0.95,0.95 0 1,0 1.9,0a0.95,0.95 0 1,0 -1.9,0M61.1,195.4a0.95,0.95 0 1,0 1.9,0a0.95,0.95 0 1,0 -1.9,0M61.8,195.4a0.95,0.95 0 1,0 1.9,0a0.95,0.95 0 1,0 -1.9,0M63.1,194.9a0.95,0.95 0 1,0 1.9,0a0.95,0.95 0 1,0 -1.9,0M64.3,194.9a0.95,0.95 0 1,0 1.9,0a0.95,0.95 0 1,0 -1.9,0M66.3,194.8a0.95,0.95 0 1,0 1.9,0a0.95,0.95 0 1,0 -1.9,0M67.5,195.0a0.95,0.95 0 1,0 1.9,0a0.95,0.95 0 1,0 -1.9,0M62.0,196.5a0.95,0.95 0 1,0 1.9,0a0.95,0.95 0 1,0 -1.9,0M63.0,196.2a0.95,0.95 0 1,0 1.9,0a0.95,0.95 0 1,0 -1.9,0M64.6,196.1a0.95,0.95 0 1,0 1.9,0a0.95,0.95 0 1,0 -1.9,0M65.6,196.5a0.95,0.95 0 1,0 1.9,0a0.95,0.95 0 1,0 -1.9,0M67.4,196.4a0.95,0.95 0 1,0 1.9,0a0.95,0.95 0 1,0 -1.9,0M63.5,197.3a0.95,0.95 0 1,0 1.9,0a0.95,0.95 0 1,0 -1.9,0M64.7,198.0a0.95,0.95 0 1,0 1.9,0a0.95,0.95 0 1,0 -1.9,0M66.0,197.8a0.95,0.95 0 1,0 1.9,0a0.95,0.95 0 1,0 -1.9,0M67.5,197.8a0.95,0.95 0 1,0 1.9,0a0.95,0.95 0 1,0 -1.9,0M64.4,198.5a0.95,0.95 0 1,0 1.9,0a0.95,0.95 0 1,0 -1.9,0" fill="#00ffff"/>
<path d="M71.3,198.5a0.95,0.95 0 1,0 1.9,0a0.95,0.95 0 1,0 -1.9,0M72.9,198.8a0.95,0.95 0 1,0 1.9,0a0.95,0.95 0 1,0 -1.9,0M74.8,198.4a0.95,0.95 0 1,0 1.9,0a0.95,0.95 0 1,0 -1.9,0M61.1,199.9a0.95,0.95 0 1,0 1.9,0a0.95,0.95 0 1,0 -1.9,0M71.6,200.0a0.95,0.95 0 1,0 1.9,0a0.95,0.95 0 1,0 -1.9,0M72.2,199.3a0.95,0.95 0 1,0 1.9,0a0.95,0.95 0 1,0 -1.9,0M75.5,200.0a0.95,0.95 0 1,0 1.9,0a0.95,0.95 0 1,0 -1.9,0M76.7,199.4a0.95,0.95 0 1,0 1.9,0a0.95,0.95 0 1,0 -1.9,0M61.1,201.3a0.95,0.95 0 1,0 1.9,0a0.95,0.95 0 1,0 -1.9,0M61.7,201.4a0.95,0.95 0 1,0 1.9,0a0.95,0.95 0 1,0 -1.9,0M70.9,200.7a0.95,0.95 0 1,0 1.9,0a0.95,0.95 0 1,0 -1.9,0M72.6,201.1a0.95,0.95 0 1,0 1.9,0a0.95,0.95 0 1,0 -1.9,0M73.8,200.6a0.95,0.95 0 1,0 1.9,0a0.95,0.95 0 1,0 -1.9,0M74.7,201.0a0.95,0.95 0 1,0 1.9,0a0.95,0.95 0 1,0 -1.9,0M76.6,201.2a0.95,0.95 0 1,0 1.9,0a0.95,0.95 0 1,0 -1.9,0M77.9,201.2a0.95,0.95 0 1,0 1.9,0a0.95,0.95 0 1,0 -1.9,0M78.7,201.4a0.95,0.95 0 1,0 1.9,0a0.95,0.95 0 1,0 -1.9,0M59.3,202.7a0.95,0.95 0 1,0 1.9,0a0.95,0.95 0 1,0 -1.9,0M61.0,202.7a0.95,0.95 0 1,0 1.9,0a0.95,0.95 0 1,0 -1.9,0M62.5,202.1a0.95,0.95 0 1,0 1.9,0a0.95,0.95 0 1,0 -1.9,0M63.0,202.5a0.95,0.95 0 1,0 1.9,0a0.95,0.95 0 1,0 -1.9,0M70.3,202.7a0.95,0.95 0 1,0 1.9,0a0.95,0.95 0 1,0 -1.9,0M71.6,202.4a0.95,0.95 0 1,0 1.9,0a0.95,0.95 0 1,0 -1.9,0M72.6,202.4a0.95,0.95 0 1,0 1.9,0a0.95,0.95 0 1,0 -1.9,0M74.1,201.9a0.95,0.95 0 1,0 1.9,0a0.95,0.95 0 1,0 -1.9,0M75.2,202.1a0.95,0.95 0 1,0 1.9,0a0.95,0.95 0 1,0 -1.9,0M76.0,202.5a0.95,0.95 0 1,0 1.9,0a0.95,0.95 0 1,0 -1.9,0M78.0,202.6a0.95,0.95 0 1,0 1.9,0a0.95,0.95 0 1,0 -1.9,0M78.7,202.4a0.95,0.95 0 1,0 1.9,0a0.95,0.95 0 1,0 -1.9,0M81.7,202.2a0.95,0.95 0 1,0 1.9,0a0.95,0.95 0 1,0 -1.9,0M59.8,203.2a0.95,0.95 0 1,0 1.9,0a0.95,0.95 0 1,0 -1.9,0M60.5,203.8a0.95,0.95 0 1,0 1.9,0a0.95,0.95 0 1,0 -1.9,0M62.2,203.6a0.95,0.95 0 1,0 1.9,0a0.95,0.95 0 1,0 -1.9,0M63.5,203.7a0.95,0.95 0 1,0 1.9,0a0.95,0.95 0 1,0 -1.9,0M65.0,203.9a0.95,0.95 0 1,0 1.9,0a0.95,0.95 0 1,0 -1.9,0M66.4,203.8a0.95,0.95 0 1,0 1.9,0a0.95,0.95 0 1,0 -1.9,0M67.5,203.9a0.95,0.95 0 1,0 1.9,0a0.95,0.95 0 1,0 -1.9,0M70.3,203.5a0.95,0.95 0 1,0 1.9,0a0.95,0.95 0 1,0 -1.9,0M71.0,203.4a0.95,0.95 0 1,0 1.9,0a0.95,0.95 0 1,0 -1.9,0M72.4,203.2a0.95,0.95 0 1,0 1.9,0a0.95,0.95 0 1,0 -1.9,0M76.7,203.4a0.95,0.95 0 1,0 1.9,0a0.95,0.95 0 1,0 -1.9,0M77.7,203.2a0.95,0.95 0 1,0 1.9,0a0.95,0.95 0 1,0 -1.9,0M79.4,204.0a0.95,0.95 0 1,0 1.9,0a0.95,0.95 0 1,0 -1.9,0M80.6,203.8a0.95,0.95 0 1,0 1.9,0a0.95,0.95 0 1,0 -1.9,0M81.9,203.6a0.95,0.95 0 1,0 1.9,0a0.95,0.95 0 1,0 -1.9,0M59.9,204.8a0.95,0.95 0 1,0 1.9,0a0.95,0.95 0 1,0 -1.9,0M61.0,205.3a0.95,0.95 0 1,0 1.9,0a0.95,0.95 0 1,0 -1.9,0M61.9,204.7a0.95,0.95 0 1,0 1.9,0a0.95,0.95 0 1,0 -1.9,0M63.0,204.7a0.95,0.95 0 1,0 1.9,0a0.95,0.95 0 1,0 -1.9,0M65.2,204.6a0.95,0.95 0 1,0 1.9,0a0.95,0.95 0 1,0 -1.9,0M66.2,205.1a0.95,0.95 0 1,0 1.9,0a0.95,0.95 0 1,0 -1.9,0M67.6,204.7a0.95,0.95 0 1,0 1.9,0a0.95,0.95 0 1,0 -1.9,0M68.2,205.1a0.95,0.95 0 1,0 1.9,0a0.95,0.95 0 1,0 -1.9,0M69.7,205.3a0.95,0.95 0 1,0 1.9,0a0.95,0.95 0 1,0 -1.9,0M71.3,205.0a0.95,0.95 0 1,0 1.9,0a0.95,0.95 0 1,0 -1.9,0M72.7,204.7a0.95,0.95 0 1,0 1.9,0a0.95,0.95 0 1,0 -1.9,0M73.5,204.5a0.95,0.95 0 1,0 1.9,0a0.95,0.95 0 1,0 -1.9,0M74.8,204.6a0.95,0.95 0 1,0 1.9,0a0.95,0.95 0 1,0 -1.9,0M76.9,205.1a0.95,0.95 0 1,0 1.9,0a0.95,0.95 0 1,0 -1.9,0M78.0,204.6a0.95,0.95 0 1,0 1.9,0a0.95,0.95 0 1,0 -1.9,0M61.2,205.9a0.95,0.95 0 1,0 1.9,0a0.95,0.95 0 1,0 -1.9,0M62.2,206.3a0.95,0.95 0 1,0 1.9,0a0.95,0.95 0 1,0 -1.9,0M64.6,206.3a0.95,0.95 0 1,0 1.9,0a0.95,0.95 0 1,0 -1.9,0M65.8,205.8a0.95,0.95 0 1,0 1.9,0a0.95,0.95 0 1,0 -1.9,0M68.5,206.4a0.95,0.95 0 1,0 1.9,0a0.95,0.95 0 1,0 -1.9,0M70.2,206.0a0.95,0.95 0 1,0 1.9,0a0.95,0.95 0 1,0 -1.9,0M71.3,205.9a0.95,0.95 0 1,0 1.9,0a0.95,0.95 0 1,0 -1.9,0M72.8,206.0a0.95,0.95 0 1,0 1.9,0a0.95,0.95 0 1,0 -1.9,0M74.1,206.0a0.95,0.95 0 1,0 1.9,0a0.95,0.95 0 1,0 -1.9,0M74.9,206.1a0.95,0.95 0 1,0 1.9,0a0.95,0.95 0 1,0 -1.9,0M76.6,206.2a0.95,0.95 0 1,0 1.9,0a0.95,0.95 0 1,0 -1.9,0M77.3,206.3a0.95,0.95 0 1,0 1.9,0a0.95,0.95 0 1,0 -1.9,0M59.9,207.5a0.95,0.95 0 1,0 1.9,0a0.95,0.95 0 1,0 -1.9,0M60.6,207.7a0.95,0.95 0 1,0 1.9,0a0.95,0.95 0 1,0 -1.9,0M62.5,207.9a0.95,0.95 0 1,0 1.9,0a0.95,0.95 0 1,0 -1.9,0M63.1,207.9a0.95,0.95 0 1,0 1.9,0a0.95,0.95 0 1,0 -1.9,0M64.5,207.2a0.95,0.95 0 1,0 1.9,0a0.95,0.95 0 1,0 -1.9,0M65.8,207.1a0.95,0.95 0 1,0 1.9,0a0.95,0.95 0 1,0 -1.9,0M67.7,207.5a0.95,0.95 0 1,0 1.9,0a0.95,0.95 0 1,0 -1.9,0M68.3,207.5a0.95,0.95 0 1,0 1.9,0a0.95,0.95 0 1,0 -1.9,0M69.7,207.6a0.95,0.95 0 1,0 1.9,0a0.95,0.95 0 1,0 -1.9,0M70.9,207.9a0.95,0.95 0 1,0 1.9,0a0.95,0.95 0 1,0 -1.9,0M72.3,207.1a0.95,0.95 0 1,0 1.9,0a0.95,0.95 0 1,0 -1.9,0M73.9,207.1a0.95,0.95 0 1,0 1.9,0a0.95,0.95 0 1,0 -1.9,0M75.4,207.5a0.95,0.95 0 1,0 1.9,0a0.95,0.95 0 1,0 -1.9,0M76.4,207.6a0.95,0.95 0 1,0 1.9,0a0.95,0.95 0 1,0 -1.9,0M79.3,207.8a0.95,0.95 0 1,0 1.9,0a0.95,0.95 0 1,0 -1.9,0M80.7,207.2a0.95,0.95 0 1,0 1.9,0a0.95,0.95 0 1,0 -1.9,0M81.7,207.9a0.95,0.95 0 1,0 1.9,0a0.95,0.95 0 1,0 -1.9,0M60.6,208.8a0.95,0.95 0 1,0 1.9,0a0.95,0.95 0 1,0 -1.9,0M63.6,208.5a0.95,0.95 0 1,0 1.9,0a0.95,0.95 0 1,0 -1.9,0M64.5,209.2a0.95,0.95 0 1,0 1.9,0a0.95,0.95 0 1,0 -1.9,0M65.8,209.2a0.95,0.95 0 1,0 1.9,0a0.95,0.95 0 1,0 -1.9,0M67.3,208.7a0.95,0.95 0 1,0 1.9,0a0.95,0.95 0 1,0 -1.9,0M68.2,208.7a0.95,0.95 0 1,0 1.9,0a0.95,0.95 0 1,0 -1.9,0M70.2,208.4a0.95,0.95 0 1,0 1.9,0a0.95,0.95 0 1,0 -1.9,0M71.0,208.8a0.95,0.95 0 1,0 1.9,0a0.95,0.95 0 1,0 -1.9,0M72.7,208.5a0.95,0.95 0 1,0 1.9,0a0.95,0.95 0 1,0 -1.9,0M73.5,209.2a0.95,0.95 0 1,0 1.9,0a0.95,0.95 0 1,0 -1.9,0M74.8,208.8a0.95,0.95 0 1,0 1.9,0a0.95,0.95 0 1,0 -1.9,0M76.8,208.4a0.95,0.95 0 1,0 1.9,0a0.95,0.95 0 1,0 -1.9,0M77.5,208.9a0.95,0.95 0 1,0 1.9,0a0.95,0.95 0 1,0 -1.9,0M79.0,209.1a0.95,0.95 0 1,0 1.9,0a0.95,0.95 0 1,0 -1.9,0M80.7,209.2a0.95,0.95 0 1,0 1.9,0a0.95,0.95 0 1,0 -1.9,0M82.0,208.7a0.95,0.95 0 1,0 1.9,0a0.95,0.95 0 1,0 -1.9,0M59.8,210.2a0.95,0.95 0 1,0 1.9,0a0.95,0.95 0 1,0 -1.9,0M60.5,209.9a0.95,0.95 0 1,0 1.9,0a0.95,0.95 0 1,0 -1.9,0M62.2,210.4a0.95,0.95 0 1,0 1.9,0a0.95,0.95 0 1,0 -1.9,0M63.9,209.8a0.95,0.95 0 1,0 1.9,0a0.95,0.95 0 1,0 -1.9,0M65.1,210.2a0.95,0.95 0 1,0 1.9,0a0.95,0.95 0 1,0 -1.9,0M66.2,209.9a0.95,0.95 0 1,0 1.9,0a0.95,0.95 0 1,0 -1.9,0M67.2,210.1a0.95,0.95 0 1,0 1.9,0a0.95,0.95 0 1,0 -1.9,0M68.3,210.3a0.95,0.95 0 1,0 1.9,0a0.95,0.95 0 1,0 -1.9,0M69.9,210.3a0.95,0.95 0 1,0 1.9,0a0.95,0.95 0 1,0 -1.9,0M70.8,210.1a0.95,0.95 0 1,0 1.9,0a0.95,0.95 0 1,0 -1.9,0M72.7,210.2a0.95,0.95 0 1,0 1.9,0a0.95,0.95 0 1,0 -1.9,0M74.3,210.4a0.95,0.95 0 1,0 1.9,0a0.95,0.95 0 1,0 -1.9,0M75.1,210.5a0.95,0.95 0 1,0 1.9,0a0.95,0.95 0 1,0 -1.9,0M76.4,210.5a0.95,0.95 0 1,0 1.9,0a0.95,0.95 0 1,0 -1.9,0M77.5,210.3a0.95,0.95 0 1,0 1.9,0a0.95,0.95 0 1,0 -1.9,0M79.2,210.3a0.95,0.95 0 1,0 1.9,0a0.95,0.95 0 1,0 -1.9,0M80.1,209.8a0.95,0.95 0 1,0 1.9,0a0.95,0.95 0 1,0 -1.9,0M81.2,209.8a0.95,0.95 0 1,0 1.9,0a0.95,0.95 0 1,0 -1.9,0M82.9,209.7a0.95,0.95 0 1,0 1.9,0a0.95,0.95 0 1,0 -1.9,0M62.4,211.7a0.95,0.95 0 1,0 1.9,0a0.95,0.95 0 1,0 -1.9,0M64.5,211.6a0.95,0.95 0 1,0 1.9,0a0.95,0.95 0 1,0 -1.9,0M65.8,211.7a0.95,0.95 0 1,0 1.9,0a0.95,0.95 0 1,0 -1.9,0M67.7,211.7a0.95,0.95 0 1,0 1.9,0a0.95,0.95 0 1,0 -1.9,0M68.4,211.0a0.95,0.95 0 1,0 1.9,0a0.95,0.95 0 1,0 -1.9,0M70.2,211.2a0.95,0.95 0 1,0 1.9,0a0.95,0.95 0 1,0 -1.9,0M70.8,211.1a0.95,0.95 0 1,0 1.9,0a0.95,0.95 0 1,0 -1.9,0M72.1,211.2a0.95,0.95 0 1,0 1.9,0a0.95,0.95 0 1,0 -1.9,0M74.0,211.8a0.95,0.95 0 1,0 1.9,0a0.95,0.95 0 1,0 -1.9,0M76.1,211.3a0.95,0.95 0 1,0 1.9,0a0.95,0.95 0 1,0 -1.9,0M77.6,211.3a0.95,0.95 0 1,0 1.9,0a0.95,0.95 0 1,0 -1.9,0M78.8,211.0a0.95,0.95 0 1,0 1.9,0a0.95,0.95 0 1,0 -1.9,0M80.0,211.0a0.95,0.95 0 1,0 1.9,0a0.95,0.95 0 1,0 -1.9,0M81.8,211.2a0.95,0.95 0 1,0 1.9,0a0.95,0.95 0 1,0 -1.9,0M63.2,212.9a0.95,0.95 0 1,0 1.9,0a0.95,0.95 0 1,0 -1.9,0M65.0,212.5a0.95,0.95 0 1,0 1.9,0a0.95,0.95 0 1,0 -1.9,0M66.2,212.8a0.95,0.95 0 1,0 1.9,0a0.95,0.95 0 1,0 -1.9,0M67.1,212.8a0.95,0.95 0 1,0 1.9,0a0.95,0.95 0 1,0 -1.9,0M68.8,212.5a0.95,0.95 0 1,0 1.9,0a0.95,0.95 0 1,0 -1.9,0M69.9,212.7a0.95,0.95 0 1,0 1.9,0a0.95,0.95 0 1,0 -1.9,0M70.8,212.9a0.95,0.95 0 1,0 1.9,0a0.95,0.95 0 1,0 -1.9,0M72.4,212.8a0.95,0.95 0 1,0 1.9,0a0.95,0.95 0 1,0 -1.9,0M74.0,213.1a0.95,0.95 0 1,0 1.9,0a0.95,0.95 0 1,0 -1.9,0M75.0,212.8a0.95,0.95 0 1,0 1.9,0a0.95,0.95 0 1,0 -1.9,0M76.1,212.5a0.95,0.95 0 1,0 1.9,0a0.95,0.95 0 1,0 -1.9,0M64.6,214.0a0.95,0.95 0 1,0 1.9,0a0.95,0.95 0 1,0 -1.9,0M66.2,213.7a0.95,0.95 0 1,0 1.9,0a0.95,0.95 0 1,0 -1.9,0M67.3,214.2a0.95,0.95 0 1,0 1.9,0a0.95,0.95 0 1,0 -1.9,0M70.3,214.1a0.95,0.95 0 1,0 1.9,0a0.95,0.95 0 1,0 -1.9,0M71.2,214.1a0.95,0.95 0 1,0 1.9,0a0.95,0.95 0 1,0 -1.9,0M72.1,214.4a0.95,0.95 0 1,0 1.9,0a0.95,0.95 0 1,0 -1.9,0M73.5,214.0a0.95,0.95 0 1,0 1.9,0a0.95,0.95 0 1,0 -1.9,0M75.0,213.6a0.95,0.95 0 1,0 1.9,0a0.95,0.95 0 1,0 -1.9,0M76.7,213.9a0.95,0.95 0 1,0 1.9,0a0.95,0.95 0 1,0 -1.9,0M67.5,215.5a0.95,0.95 0 1,0 1.9,0a0.95,0.95 0 1,0 -1.9,0M68.4,215.7a0.95,0.95 0 1,0 1.9,0a0.95,0.95 0 1,0 -1.9,0M70.2,215.2a0.95,0.95 0 1,0 1.9,0a0.95,0.95 0 1,0 -1.9,0M72.2,215.6a0.95,0.95 0 1,0 1.9,0a0.95,0.95 0 1,0 -1.9,0M73.6,215.5a0.95,0.95 0 1,0 1.9,0a0.95,0.95 0 1,0 -1.9,0M74.9,215.2a0.95,0.95 0 1,0 1.9,0a0.95,0.95 0 1,0 -1.9,0M76.8,215.4a0.95,0.95 0 1,0 1.9,0a0.95,0.95 0 1,0 -1.9,0M69.8,216.9a0.95,0.95 0 1,0 1.9,0a0.95,0.95 0 1,0 -1.9,0M72.8,216.8a0.95,0.95 0 1,0 1.9,0a0.95,0.95 0 1,0 -1.9,0M73.4,216.9a0.95,0.95 0 1,0 1.9,0a0.95,0.95 0 1,0 -1.9,0M75.1,216.5a0.95,0.95 0 1,0 1.9,0a0.95,0.95 0 1,0 -1.9,0M76.7,216.9a0.95,0.95 0 1,0 1.9,0a0.95,0.95 0 1,0 -1.9,0M77.6,216.4a0.95,0.95 0 1,0 1.9,0a0.95,0.95 0 1,0 -1.9,0M70.4,218.1a0.95,0.95 0 1,0 1.9,0a0.95,0.95 0 1,0 -1.9,0M71.6,217.5a0.95,0.95 0 1,0 1.9,0a0.95,0.95 0 1,0 -1.9,0M72.5,218.1a0.95,0.95 0 1,0 1.9,0a0.95,0.95 0 1,0 -1.9,0M73.5,217.9a0.95,0.95 0 1,0 1.9,0a0.95,0.95 0 1,0 -1.9,0M75.4,217.8a0.95,0.95 0 1,0 1.9,0a0.95,0.95 0 1,0 -1.9,0M76.7,218.2a0.95,0.95 0 1,0 1.9,0a0.95,0.95 0 1,0 -1.9,0M78.1,218.3a0.95,0.95 0 1,0 1.9,0a0.95,0.95 0 1,0 -1.9,0M80.1,217.7a0.95,0.95 0 1,0 1.9,0a0.95,0.95 0 1,0 -1.9,0M81.9,217.6a0.95,0.95 0 1,0 1.9,0a0.95,0.95 0 1,0 -1.9,0M83.0,218.1a0.95,0.95 0 1,0 1.9,0a0.95,0.95 0 1,0 -1.9,0M71.0,219.1a0.95,0.95 0 1,0 1.9,0a0.95,0.95 0 1,0 -1.9,0M76.2,219.0a0.95,0.95 0 1,0 1.9,0a0.95,0.95 0 1,0 -1.9,0M77.5,219.3a0.95,0.95 0 1,0 1.9,0a0.95,0.95 0 1,0 -1.9,0M78.8,219.3a0.95,0.95 0 1,0 1.9,0a0.95,0.95 0 1,0 -1.9,0M80.6,219.4a0.95,0.95 0 1,0 1.9,0a0.95,0.95 0 1,0 -1.9,0M82.5,219.6a0.95,0.95 0 1,0 1.9,0a0.95,0.95 0 1,0 -1.9,0M83.9,218.8a0.95,0.95 0 1,0 1.9,0a0.95,0.95 0 1,0 -1.9,0M76.9,220.4a0.95,0.95 0 1,0 1.9,0a0.95,0.95 0 1,0 -1.9,0M77.7,220.4a0.95,0.95 0 1,0 1.9,0a0.95,0.95 0 1,0 -1.9,0M79.0,220.2a0.95,0.95 0 1,0 1.9,0a0.95,0.95 0 1,0 -1.9,0M80.4,220.1a0.95,0.95 0 1,0 1.9,0a0.95,0.95 0 1,0 -1.9,0M81.9,220.4a0.95,0.95 0 1,0 1.9,0a0.95,0.95 0 1,0 -1.9,0M83.3,220.4a0.95,0.95 0 1,0 1.9,0a0.95,0.95 0 1,0 -1.9,0M84.1,220.5a0.95,0.95 0 1,0 1.9,0a0.95,0.95 0 1,0 -1.9,0M85.8,220.9a0.95,0.95 0 1,0 1.9,0a0.95,0.95 0 1,0 -1.9,0M78.1,221.8a0.95,0.95 0 1,0 1.9,0a0.95,0.95 0 1,0 -1.9,0M78.9,222.1a0.95,0.95 0 1,0 1.9,0a0.95,0.95 0 1,0 -1.9,0M80.5,221.4a0.95,0.95 0 1,0 1.9,0a0.95,0.95 0 1,0 -1.9,0M81.3,222.1a0.95,0.95 0 1,0 1.9,0a0.95,0.95 0 1,0 -1.9,0M82.7,221.4a0.95,0.95 0 1,0 1.9,0a0.95,0.95 0 1,0 -1.9,0M84.5,222.0a0.95,0.95 0 1,0 1.9,0a0.95,0.95 0 1,0 -1.9,0M86.5,222.2a0.95,0.95 0 1,0 1.9,0a0.95,0.95 0 1,0 -1.9,0M78.7,223.0a0.95,0.95 0 1,0 1.9,0a0.95,0.95 0 1,0 -1.9,0M80.0,223.1a0.95,0.95 0 1,0 1.9,0a0.95,0.95 0 1,0 -1.9,0M81.2,223.0a0.95,0.95 0 1,0 1.9,0a0.95,0.95 0 1,0 -1.9,0M83.0,223.1a0.95,0.95 0 1,0 1.9,0a0.95,0.95 0 1,0 -1.9,0M84.3,223.0a0.95,0.95 0 1,0 1.9,0a0.95,0.95 0 1,0 -1.9,0" fill="#00ffff"/>
<path d="M146.5,213.8a0.95,0.95 0 1,0 1.9,0a0.95,0.95 0 1,0 -1.9,0M148.0,213.1a0.95,0.95 0 1,0 1.9,0a0.95,0.95 0 1,0 -1.9,0M145.7,215.0a0.95,0.95 0 1,0 1.9,0a0.95,0.95 0 1,0 -1.9,0M146.5,214.8a0.95,0.95 0 1,0 1.9,0a0.95,0.95 0 1,0 -1.9,0M148.5,215.2a0.95,0.95 0 1,0 1.9,0a0.95,0.95 0 1,0 -1.9,0M149.5,214.8a0.95,0.95 0 1,0 1.9,0a0.95,0.95 0 1,0 -1.9,0M145.6,216.1a0.95,0.95 0 1,0 1.9,0a0.95,0.95 0 1,0 -1.9,0M146.9,216.0a0.95,0.95 0 1,0 1.9,0a0.95,0.95 0 1,0 -1.9,0M147.9,216.5a0.95,0.95 0 1,0 1.9,0a0.95,0.95 0 1,0 -1.9,0M149.8,215.7a0.95,0.95 0 1,0 1.9,0a0.95,0.95 0 1,0 -1.9,0M150.7,215.8a0.95,0.95 0 1,0 1.9,0a0.95,0.95 0 1,0 -1.9,0M151.6,216.4a0.95,0.95 0 1,0 1.9,0a0.95,0.95 0 1,0 -1.9,0M148.5,217.0a0.95,0.95 0 1,0 1.9,0a0.95,0.95 0 1,0 -1.9,0M149.1,217.1a0.95,0.95 0 1,0 1.9,0a0.95,0.95 0 1,0 -1.9,0M152.4,217.5a0.95,0.95 0 1,0 1.9,0a0.95,0.95 0 1,0 -1.9,0M152.9,217.6a0.95,0.95 0 1,0 1.9,0a0.95,0.95 0 1,0 -1.9,0M154.4,217.8a0.95,0.95 0 1,0 1.9,0a0.95,0.95 0 1,0 -1.9,0M148.4,218.7a0.95,0.95 0 1,0 1.9,0a0.95,0.95 0 1,0 -1.9,0M149.7,218.8a0.95,0.95 0 1,0 1.9,0a0.95,0.95 0 1,0 -1.9,0M150.3,218.3a0.95,0.95 0 1,0 1.9,0a0.95,0.95 0 1,0 -1.9,0M151.6,218.8a0.95,0.95 0 1,0 1.9,0a0.95,0.95 0 1,0 -1.9,0M154.3,218.4a0.95,0.95 0 1,0 1.9,0a0.95,0.95 0 1,0 -1.9,0M155.7,219.1a0.95,0.95 0 1,0 1.9,0a0.95,0.95 0 1,0 -1.9,0M149.5,220.4a0.95,0.95 0 1,0 1.9,0a0.95,0.95 0 1,0 -1.9,0M150.4,220.2a0.95,0.95 0 1,0 1.9,0a0.95,0.95 0 1,0 -1.9,0M151.9,220.2a0.95,0.95 0 1,0 1.9,0a0.95,0.95 0 1,0 -1.9,0M152.9,219.6a0.95,0.95 0 1,0 1.9,0a0.95,0.95 0 1,0 -1.9,0M155.0,220.4a0.95,0.95 0 1,0 1.9,0a0.95,0.95 0 1,0 -1.9,0M155.9,220.0a0.95,0.95 0 1,0 1.9,0a0.95,0.95 0 1,0 -1.9,0M157.3,220.0a0.95,0.95 0 1,0 1.9,0a0.95,0.95 0 1,0 -1.9,0M158.3,220.4a0.95,0.95 0 1,0 1.9,0a0.95,0.95 0 1,0 -1.9,0M149.3,220.9a0.95,0.95 0 1,0 1.9,0a0.95,0.95 0 1,0 -1.9,0M150.9,221.6a0.95,0.95 0 1,0 1.9,0a0.95,0.95 0 1,0 -1.9,0M151.6,221.6a0.95,0.95 0 1,0 1.9,0a0.95,0.95 0 1,0 -1.9,0M152.9,221.2a0.95,0.95 0 1,0 1.9,0a0.95,0.95 0 1,0 -1.9,0M154.1,220.9a0.95,0.95 0 1,0 1.9,0a0.95,0.95 0 1,0 -1.9,0M156.2,221.7a0.95,0.95 0 1,0 1.9,0a0.95,0.95 0 1,0 -1.9,0M157.5,221.6a0.95,0.95 0 1,0 1.9,0a0.95,0.95 0 1,0 -1.9,0M158.5,221.7a0.95,0.95 0 1,0 1.9,0a0.95,0.95 0 1,0 -1.9,0M160.2,221.4a0.95,0.95 0 1,0 1.9,0a0.95,0.95 0 1,0 -1.9,0M149.7,222.6a0.95,0.95 0 1,0 1.9,0a0.95,0.95 0 1,0 -1.9,0M150.5,222.5a0.95,0.95 0 1,0 1.9,0a0.95,0.95 0 1,0 -1.9,0M152.2,222.6a0.95,0.95 0 1,0 1.9,0a0.95,0.95 0 1,0 -1.9,0M153.0,222.6a0.95,0.95 0 1,0 1.9,0a0.95,0.95 0 1,0 -1.9,0M154.4,222.5a0.95,0.95 0 1,0 1.9,0a0.95,0.95 0 1,0 -1.9,0M156.1,222.3a0.95,0.95 0 1,0 1.9,0a0.95,0.95 0 1,0 -1.9,0M157.4,222.7a0.95,0.95 0 1,0 1.9,0a0.95,0.95 0 1,0 -1.9,0M158.6,222.8a0.95,0.95 0 1,0 1.9,0a0.95,0.95 0 1,0 -1.9,0M159.4,222.5a0.95,0.95 0 1,0 1.9,0a0.95,0.95 0 1,0 -1.9,0M161.5,222.6a0.95,0.95 0 1,0 1.9,0a0.95,0.95 0 1,0 -1.9,0M162.8,222.9a0.95,0.95 0 1,0 1.9,0a0.95,0.95 0 1,0 -1.9,0M150.5,224.3a0.95,0.95 0 1,0 1.9,0a0.95,0.95 0 1,0 -1.9,0M151.8,224.2a0.95,0.95 0 1,0 1.9,0a0.95,0.95 0 1,0 -1.9,0M153.2,223.6a0.95,0.95 0 1,0 1.9,0a0.95,0.95 0 1,0 -1.9,0M154.4,223.6a0.95,0.95 0 1,0 1.9,0a0.95,0.95 0 1,0 -1.9,0M155.8,223.8a0.95,0.95 0 1,0 1.9,0a0.95,0.95 0 1,0 -1.9,0M156.9,223.5a0.95,0.95 0 1,0 1.9,0a0.95,0.95 0 1,0 -1.9,0M158.3,223.5a0.95,0.95 0 1,0 1.9,0a0.95,0.95 0 1,0 -1.9,0M160.0,223.7a0.95,0.95 0 1,0 1.9,0a0.95,0.95 0 1,0 -1.9,0M161.2,223.6a0.95,0.95 0 1,0 1.9,0a0.95,0.95 0 1,0 -1.9,0M162.5,224.0a0.95,0.95 0 1,0 1.9,0a0.95,0.95 0 1,0 -1.9,0M163.4,224.2a0.95,0.95 0 1,0 1.9,0a0.95,0.95 0 1,0 -1.9,0M164.7,224.0a0.95,0.95 0 1,0 1.9,0a0.95,0.95 0 1,0 -1.9,0M151.7,225.3a0.95,0.95 0 1,0 1.9,0a0.95,0.95 0 1,0 -1.9,0M152.8,225.5a0.95,0.95 0 1,0 1.9,0a0.95,0.95 0 1,0 -1.9,0M154.3,225.4a0.95,0.95 0 1,0 1.9,0a0.95,0.95 0 1,0 -1.9,0M156.3,224.8a0.95,0.95 0 1,0 1.9,0a0.95,0.95 0 1,0 -1.9,0M156.9,225.3a0.95,0.95 0 1,0 1.9,0a0.95,0.95 0 1,0 -1.9,0M158.8,225.2a0.95,0.95 0 1,0 1.9,0a0.95,0.95 0 1,0 -1.9,0M160.0,224.8a0.95,0.95 0 1,0 1.9,0a0.95,0.95 0 1,0 -1.9,0M162.0,225.2a0.95,0.95 0 1,0 1.9,0a0.95,0.95 0 1,0 -1.9,0M163.2,224.8a0.95,0.95 0 1,0 1.9,0a0.95,0.95 0 1,0 -1.9,0M164.8,225.1a0.95,0.95 0 1,0 1.9,0a0.95,0.95 0 1,0 -1.9,0M166.1,225.4a0.95,0.95 0 1,0 1.9,0a0.95,0.95 0 1,0 -1.9,0M152.4,226.4a0.95,0.95 0 1,0 1.9,0a0.95,0.95 0 1,0 -1.9,0M153.4,226.5a0.95,0.95 0 1,0 1.9,0a0.95,0.95 0 1,0 -1.9,0M154.4,226.8a0.95,0.95 0 1,0 1.9,0a0.95,0.95 0 1,0 -1.9,0M155.8,226.9a0.95,0.95 0 1,0 1.9,0a0.95,0.95 0 1,0 -1.9,0M157.1,226.2a0.95,0.95 0 1,0 1.9,0a0.95,0.95 0 1,0 -1.9,0M158.6,226.5a0.95,0.95 0 1,0 1.9,0a0.95,0.95 0 1,0 -1.9,0M159.5,226.8a0.95,0.95 0 1,0 1.9,0a0.95,0.95 0 1,0 -1.9,0M161.3,226.4a0.95,0.95 0 1,0 1.9,0a0.95,0.95 0 1,0 -1.9,0M163.8,226.7a0.95,0.95 0 1,0 1.9,0a0.95,0.95 0 1,0 -1.9,0M164.9,226.2a0.95,0.95 0 1,0 1.9,0a0.95,0.95 0 1,0 -1.9,0M166.4,226.7a0.95,0.95 0 1,0 1.9,0a0.95,0.95 0 1,0 -1.9,0M153.3,227.5a0.95,0.95 0 1,0 1.9,0a0.95,0.95 0 1,0 -1.9,0M154.8,227.9a0.95,0.95 0 1,0 1.9,0a0.95,0.95 0 1,0 -1.9,0M157.4,227.9a0.95,0.95 0 1,0 1.9,0a0.95,0.95 0 1,0 -1.9,0M160.2,228.0a0.95,0.95 0 1,0 1.9,0a0.95,0.95 0 1,0 -1.9,0M161.4,227.5a0.95,0.95 0 1,0 1.9,0a0.95,0.95 0 1,0 -1.9,0M162.4,227.4a0.95,0.95 0 1,0 1.9,0a0.95,0.95 0 1,0 -1.9,0M163.6,228.1a0.95,0.95 0 1,0 1.9,0a0.95,0.95 0 1,0 -1.9,0M165.0,228.1a0.95,0.95 0 1,0 1.9,0a0.95,0.95 0 1,0 -1.9,0M166.6,227.7a0.95,0.95 0 1,0 1.9,0a0.95,0.95 0 1,0 -1.9,0M167.4,227.4a0.95,0.95 0 1,0 1.9,0a0.95,0.95 0 1,0 -1.9,0M153.5,228.9a0.95,0.95 0 1,0 1.9,0a0.95,0.95 0 1,0 -1.9,0M154.9,229.1a0.95,0.95 0 1,0 1.9,0a0.95,0.95 0 1,0 -1.9,0M156.2,228.8a0.95,0.95 0 1,0 1.9,0a0.95,0.95 0 1,0 -1.9,0M157.1,229.4a0.95,0.95 0 1,0 1.9,0a0.95,0.95 0 1,0 -1.9,0M158.2,229.5a0.95,0.95 0 1,0 1.9,0a0.95,0.95 0 1,0 -1.9,0M160.0,229.4a0.95,0.95 0 1,0 1.9,0a0.95,0.95 0 1,0 -1.9,0M161.2,229.0a0.95,0.95 0 1,0 1.9,0a0.95,0.95 0 1,0 -1.9,0M165.0,228.7a0.95,0.95 0 1,0 1.9,0a0.95,0.95 0 1,0 -1.9,0M166.5,229.4a0.95,0.95 0 1,0 1.9,0a0.95,0.95 0 1,0 -1.9,0M167.3,229.0a0.95,0.95 0 1,0 1.9,0a0.95,0.95 0 1,0 -1.9,0M155.6,230.3a0.95,0.95 0 1,0 1.9,0a0.95,0.95 0 1,0 -1.9,0M157.4,230.2a0.95,0.95 0 1,0 1.9,0a0.95,0.95 0 1,0 -1.9,0M158.5,230.5a0.95,0.95 0 1,0 1.9,0a0.95,0.95 0 1,0 -1.9,0M159.4,230.6a0.95,0.95 0 1,0 1.9,0a0.95,0.95 0 1,0 -1.9,0" fill="#0000ff"/>
<path d="M163.6,211.6a0.95,0.95 0 1,0 1.9,0a0.95,0.95 0 1,0 -1.9,0M162.1,213.5a0.95,0.95 0 1,0 1.9,0a0.95,0.95 0 1,0 -1.9,0M162.9,213.1a0.95,0.95 0 1,0 1.9,0a0.95,0.95 0 1,0 -1.9,0M164.4,213.3a0.95,0.95 0 1,0 1.9,0a0.95,0.95 0 1,0 -1.9,0M162.3,214.1a0.95,0.95 0 1,0 1.9,0a0.95,0.95 0 1,0 -1.9,0M163.3,214.8a0.95,0.95 0 1,0 1.9,0a0.95,0.95 0 1,0 -1.9,0M164.1,214.3a0.95,0.95 0 1,0 1.9,0a0.95,0.95 0 1,0 -1.9,0M164.3,216.1a0.95,0.95 0 1,0 1.9,0a0.95,0.95 0 1,0 -1.9,0M165.8,216.1a0.95,0.95 0 1,0 1.9,0a0.95,0.95 0 1,0 -1.9,0M165.6,217.5a0.95,0.95 0 1,0 1.9,0a0.95,0.95 0 1,0 -1.9,0M167.3,218.2a0.95,0.95 0 1,0 1.9,0a0.95,0.95 0 1,0 -1.9,0" fill="#0000ff"/>
<text x="63.20" y="143.10" font-size="8.6">WT</text>
<text x="119.80" y="143.60" font-size="9"><tspan font-style="italic">Kras</tspan><tspan dy="-4.05" font-size="5.04" font-style="italic">G12D/+</tspan></text>
<text x="155.10" y="165.70" font-size="9"><tspan font-style="italic">Apc</tspan><tspan dy="-4.05" font-size="5.58" font-style="italic" letter-spacing="0.35">fl/fl</tspan><tspan dy="4.05" font-style="italic" dx="1.4"> Kras</tspan><tspan dy="-4.05" font-size="5.04" font-style="italic">G12D/+</tspan></text>
<text x="70.30" y="190.30" font-size="9"><tspan font-style="italic">Apc</tspan><tspan dy="-4.05" font-size="5.58" font-style="italic" letter-spacing="0.35">fl/fl</tspan></text>
<text x="135.00" y="207.40" font-size="9"><tspan font-style="italic">Apc</tspan><tspan dy="-4.05" font-size="5.58" font-style="italic" letter-spacing="0.35">fl/fl</tspan><tspan dy="4.05" font-style="italic" dx="1.4"> Kras</tspan><tspan dy="-4.05" font-size="5.04" font-style="italic">G12D/+</tspan><tspan dy="4.05" font-style="italic"> Pten</tspan><tspan dy="-4.05" font-size="5.58" font-style="italic">fl/fl</tspan></text>
<text x="255.60" y="115.40" font-size="14.5" fill="#000" font-weight="bold">c</text>
<line x1="290.70" y1="224.00" x2="290.70" y2="137.00" stroke="#d4d4d4" stroke-width="0.6"/>
<line x1="290.70" y1="224.00" x2="356.70" y2="249.00" stroke="#d4d4d4" stroke-width="0.6"/>
<line x1="306.77" y1="221.28" x2="306.77" y2="134.28" stroke="#d4d4d4" stroke-width="0.6"/>
<line x1="306.77" y1="221.28" x2="372.77" y2="246.28" stroke="#d4d4d4" stroke-width="0.6"/>
<line x1="322.83" y1="218.57" x2="322.83" y2="131.57" stroke="#d4d4d4" stroke-width="0.6"/>
<line x1="322.83" y1="218.57" x2="388.83" y2="243.57" stroke="#d4d4d4" stroke-width="0.6"/>
<line x1="338.90" y1="215.85" x2="338.90" y2="128.85" stroke="#d4d4d4" stroke-width="0.6"/>
<line x1="338.90" y1="215.85" x2="404.90" y2="240.85" stroke="#d4d4d4" stroke-width="0.6"/>
<line x1="354.97" y1="213.13" x2="354.97" y2="126.13" stroke="#d4d4d4" stroke-width="0.6"/>
<line x1="354.97" y1="213.13" x2="420.97" y2="238.13" stroke="#d4d4d4" stroke-width="0.6"/>
<line x1="371.03" y1="210.42" x2="371.03" y2="123.42" stroke="#d4d4d4" stroke-width="0.6"/>
<line x1="371.03" y1="210.42" x2="437.03" y2="235.42" stroke="#d4d4d4" stroke-width="0.6"/>
<line x1="387.10" y1="207.70" x2="387.10" y2="120.70" stroke="#d4d4d4" stroke-width="0.6"/>
<line x1="387.10" y1="207.70" x2="453.10" y2="232.70" stroke="#d4d4d4" stroke-width="0.6"/>
<line x1="290.70" y1="224.00" x2="387.10" y2="207.70" stroke="#d4d4d4" stroke-width="0.6"/>
<line x1="387.10" y1="207.70" x2="453.10" y2="232.70" stroke="#d4d4d4" stroke-width="0.6"/>
<line x1="290.70" y1="211.57" x2="387.10" y2="195.27" stroke="#d4d4d4" stroke-width="0.6"/>
<line x1="387.10" y1="195.27" x2="453.10" y2="220.27" stroke="#d4d4d4" stroke-width="0.6"/>
<line x1="290.70" y1="199.14" x2="387.10" y2="182.84" stroke="#d4d4d4" stroke-width="0.6"/>
<line x1="387.10" y1="182.84" x2="453.10" y2="207.84" stroke="#d4d4d4" stroke-width="0.6"/>
<line x1="290.70" y1="186.71" x2="387.10" y2="170.41" stroke="#d4d4d4" stroke-width="0.6"/>
<line x1="387.10" y1="170.41" x2="453.10" y2="195.41" stroke="#d4d4d4" stroke-width="0.6"/>
<line x1="290.70" y1="174.29" x2="387.10" y2="157.99" stroke="#d4d4d4" stroke-width="0.6"/>
<line x1="387.10" y1="157.99" x2="453.10" y2="182.99" stroke="#d4d4d4" stroke-width="0.6"/>
<line x1="290.70" y1="161.86" x2="387.10" y2="145.56" stroke="#d4d4d4" stroke-width="0.6"/>
<line x1="387.10" y1="145.56" x2="453.10" y2="170.56" stroke="#d4d4d4" stroke-width="0.6"/>
<line x1="290.70" y1="149.43" x2="387.10" y2="133.13" stroke="#d4d4d4" stroke-width="0.6"/>
<line x1="387.10" y1="133.13" x2="453.10" y2="158.13" stroke="#d4d4d4" stroke-width="0.6"/>
<line x1="290.70" y1="137.00" x2="387.10" y2="120.70" stroke="#d4d4d4" stroke-width="0.6"/>
<line x1="387.10" y1="120.70" x2="453.10" y2="145.70" stroke="#d4d4d4" stroke-width="0.6"/>
<line x1="397.53" y1="211.65" x2="397.53" y2="124.65" stroke="#d4d4d4" stroke-width="0.6"/>
<line x1="301.13" y1="227.95" x2="397.53" y2="211.65" stroke="#d4d4d4" stroke-width="0.6"/>
<line x1="422.81" y1="221.22" x2="422.81" y2="134.22" stroke="#d4d4d4" stroke-width="0.6"/>
<line x1="326.41" y1="237.53" x2="422.81" y2="221.22" stroke="#d4d4d4" stroke-width="0.6"/>
<line x1="448.61" y1="231.00" x2="448.61" y2="144.00" stroke="#d4d4d4" stroke-width="0.6"/>
<line x1="352.21" y1="247.30" x2="448.61" y2="231.00" stroke="#d4d4d4" stroke-width="0.6"/>
<line x1="290.70" y1="224.00" x2="290.70" y2="137.00" stroke="#3a3a3a" stroke-width="0.8"/>
<line x1="290.70" y1="224.00" x2="356.70" y2="249.00" stroke="#3a3a3a" stroke-width="0.8"/>
<line x1="356.70" y1="249.00" x2="453.10" y2="232.70" stroke="#3a3a3a" stroke-width="0.8"/>
<line x1="290.70" y1="224.00" x2="288.20" y2="223.00" stroke="#3a3a3a" stroke-width="0.7"/>
<text x="285.60" y="227.20" font-size="9" text-anchor="end">−80</text>
<line x1="290.70" y1="211.57" x2="288.20" y2="210.57" stroke="#3a3a3a" stroke-width="0.7"/>
<text x="285.60" y="214.77" font-size="9" text-anchor="end">−60</text>
<line x1="290.70" y1="199.14" x2="288.20" y2="198.14" stroke="#3a3a3a" stroke-width="0.7"/>
<text x="285.60" y="202.34" font-size="9" text-anchor="end">−40</text>
<line x1="290.70" y1="186.71" x2="288.20" y2="185.71" stroke="#3a3a3a" stroke-width="0.7"/>
<text x="285.60" y="189.91" font-size="9" text-anchor="end">−20</text>
<line x1="290.70" y1="174.29" x2="288.20" y2="173.29" stroke="#3a3a3a" stroke-width="0.7"/>
<text x="285.60" y="177.49" font-size="9" text-anchor="end">0</text>
<line x1="290.70" y1="161.86" x2="288.20" y2="160.86" stroke="#3a3a3a" stroke-width="0.7"/>
<text x="285.60" y="165.06" font-size="9" text-anchor="end">20</text>
<line x1="290.70" y1="149.43" x2="288.20" y2="148.43" stroke="#3a3a3a" stroke-width="0.7"/>
<text x="285.60" y="152.63" font-size="9" text-anchor="end">40</text>
<line x1="290.70" y1="137.00" x2="288.20" y2="136.00" stroke="#3a3a3a" stroke-width="0.7"/>
<text x="285.60" y="140.20" font-size="9" text-anchor="end">60</text>
<line x1="301.13" y1="227.95" x2="298.93" y2="228.35" stroke="#3a3a3a" stroke-width="0.7"/>
<text x="290.60" y="236.20" font-size="9" text-anchor="middle">50</text>
<line x1="326.41" y1="237.53" x2="324.21" y2="237.93" stroke="#3a3a3a" stroke-width="0.7"/>
<text x="316.50" y="245.00" font-size="9" text-anchor="middle">0</text>
<line x1="352.21" y1="247.30" x2="350.01" y2="247.70" stroke="#3a3a3a" stroke-width="0.7"/>
<text x="338.80" y="254.80" font-size="9" text-anchor="middle">−50</text>
<line x1="356.70" y1="249.00" x2="358.50" y2="249.70" stroke="#3a3a3a" stroke-width="0.7"/>
<text x="362.90" y="260.40" font-size="9" text-anchor="middle">60</text>
<line x1="372.77" y1="246.28" x2="374.57" y2="246.98" stroke="#3a3a3a" stroke-width="0.7"/>
<text x="379.60" y="256.70" font-size="9" text-anchor="middle">40</text>
<line x1="388.83" y1="243.57" x2="390.63" y2="244.27" stroke="#3a3a3a" stroke-width="0.7"/>
<text x="396.10" y="254.30" font-size="9" text-anchor="middle">20</text>
<line x1="404.90" y1="240.85" x2="406.70" y2="241.55" stroke="#3a3a3a" stroke-width="0.7"/>
<text x="410.30" y="251.90" font-size="9" text-anchor="middle">0</text>
<line x1="420.97" y1="238.13" x2="422.77" y2="238.83" stroke="#3a3a3a" stroke-width="0.7"/>
<text x="428.00" y="248.70" font-size="9" text-anchor="middle">−20</text>
<line x1="437.03" y1="235.42" x2="438.83" y2="236.12" stroke="#3a3a3a" stroke-width="0.7"/>
<text x="446.00" y="246.30" font-size="9" text-anchor="middle">−40</text>
<line x1="453.10" y1="232.70" x2="454.90" y2="233.40" stroke="#3a3a3a" stroke-width="0.7"/>
<text x="464.70" y="241.70" font-size="9" text-anchor="middle">−60</text>
<text x="265.00" y="177.00" font-size="10" text-anchor="middle" textLength="85.00" lengthAdjust="spacingAndGlyphs" transform="rotate(-90.00 265.00 177.00)">t-SNE dimension 3</text>
<text x="270.00" y="247.60" font-size="10" textLength="83.50" lengthAdjust="spacingAndGlyphs" transform="rotate(19.50 270.00 247.60)"><tspan font-style="italic">t</tspan><tspan>-SNE dimension 1</tspan></text>
<text x="381.30" y="272.60" font-size="10" textLength="84.20" lengthAdjust="spacingAndGlyphs" transform="rotate(-9.90 381.30 272.60)">t-SNE dimension 2</text>
<circle cx="396.40" cy="106.00" r="2.60" fill="#00ffff"/>
<circle cx="396.40" cy="115.90" r="2.60" fill="#ff00ff"/>
<text x="401.90" y="108.90" font-size="8.6" textLength="35.80" lengthAdjust="spacingAndGlyphs"><tspan font-style="italic">KRAS</tspan><tspan> WT</tspan></text>
<text x="401.90" y="118.70" font-size="8.6" textLength="51.50" lengthAdjust="spacingAndGlyphs"><tspan font-style="italic">KRAS</tspan><tspan> mutant</tspan></text>
<circle cx="314.50" cy="166.40" r="1.75" fill="#00ffff"/>
<circle cx="323.60" cy="170.60" r="1.75" fill="#00ffff"/>
<circle cx="332.30" cy="169.70" r="1.75" fill="#00ffff"/>
<circle cx="330.50" cy="173.80" r="1.75" fill="#00ffff"/>
<circle cx="342.60" cy="165.90" r="1.75" fill="#00ffff"/>
<circle cx="355.60" cy="171.10" r="1.75" fill="#00ffff"/>
<circle cx="409.60" cy="143.00" r="1.75" fill="#00ffff"/>
<circle cx="384.80" cy="163.60" r="1.75" fill="#00ffff"/>
<circle cx="392.80" cy="162.60" r="1.75" fill="#00ffff"/>
<circle cx="401.30" cy="183.10" r="1.75" fill="#00ffff"/>
<circle cx="379.00" cy="188.60" r="1.75" fill="#00ffff"/>
<circle cx="365.50" cy="188.00" r="1.75" fill="#00ffff"/>
<circle cx="363.60" cy="192.80" r="1.75" fill="#00ffff"/>
<circle cx="369.50" cy="191.40" r="1.75" fill="#00ffff"/>
<circle cx="371.70" cy="195.00" r="1.75" fill="#00ffff"/>
<circle cx="374.60" cy="193.90" r="1.75" fill="#00ffff"/>
<circle cx="376.80" cy="195.80" r="1.75" fill="#00ffff"/>
<circle cx="382.60" cy="193.30" r="1.75" fill="#00ffff"/>
<circle cx="369.50" cy="199.10" r="1.75" fill="#00ffff"/>
<circle cx="373.10" cy="199.10" r="1.75" fill="#00ffff"/>
<circle cx="379.70" cy="199.10" r="1.75" fill="#00ffff"/>
<circle cx="364.40" cy="206.00" r="1.75" fill="#00ffff"/>
<circle cx="361.50" cy="210.80" r="1.75" fill="#00ffff"/>
<circle cx="386.30" cy="217.70" r="1.75" fill="#00ffff"/>
<circle cx="328.00" cy="181.70" r="1.75" fill="#00ffff"/>
<circle cx="326.00" cy="185.00" r="1.75" fill="#00ffff"/>
<circle cx="333.00" cy="188.30" r="1.75" fill="#00ffff"/>
<circle cx="324.80" cy="192.40" r="1.75" fill="#00ffff"/>
<circle cx="339.00" cy="190.80" r="1.75" fill="#00ffff"/>
<circle cx="344.00" cy="194.50" r="1.75" fill="#00ffff"/>
<circle cx="350.70" cy="189.90" r="1.75" fill="#00ffff"/>
<circle cx="354.20" cy="192.80" r="1.75" fill="#00ffff"/>
<circle cx="344.90" cy="212.30" r="1.75" fill="#00ffff"/>
<circle cx="343.70" cy="213.80" r="1.75" fill="#00ffff"/>
<circle cx="355.20" cy="210.90" r="1.75" fill="#00ffff"/>
<circle cx="357.70" cy="209.10" r="1.75" fill="#00ffff"/>
<circle cx="354.50" cy="213.80" r="1.75" fill="#00ffff"/>
<circle cx="352.50" cy="217.30" r="1.75" fill="#00ffff"/>
<circle cx="358.70" cy="217.00" r="1.75" fill="#00ffff"/>
<circle cx="367.10" cy="223.10" r="1.75" fill="#00ffff"/>
<circle cx="367.30" cy="229.00" r="1.75" fill="#00ffff"/>
<circle cx="374.50" cy="225.10" r="1.75" fill="#00ffff"/>
<circle cx="376.20" cy="225.10" r="1.75" fill="#00ffff"/>
<circle cx="374.10" cy="229.60" r="1.75" fill="#00ffff"/>
<circle cx="354.00" cy="213.70" r="1.75" fill="#00ffff"/>
<circle cx="382.50" cy="193.50" r="1.75" fill="#00ffff"/>
<circle cx="365.60" cy="188.30" r="1.75" fill="#00ffff"/>
<circle cx="363.50" cy="192.80" r="1.75" fill="#00ffff"/>
<circle cx="331.50" cy="150.10" r="1.75" fill="#ff00ff"/>
<circle cx="334.10" cy="154.50" r="1.75" fill="#ff00ff"/>
<circle cx="332.60" cy="158.00" r="1.75" fill="#ff00ff"/>
<circle cx="341.20" cy="150.80" r="1.75" fill="#ff00ff"/>
<circle cx="341.40" cy="152.40" r="1.75" fill="#ff00ff"/>
<circle cx="347.00" cy="154.80" r="1.75" fill="#ff00ff"/>
<circle cx="350.50" cy="156.60" r="1.75" fill="#ff00ff"/>
<circle cx="350.10" cy="160.60" r="1.75" fill="#ff00ff"/>
<circle cx="354.80" cy="153.40" r="1.75" fill="#ff00ff"/>
<circle cx="358.70" cy="153.90" r="1.75" fill="#ff00ff"/>
<circle cx="359.50" cy="156.90" r="1.75" fill="#ff00ff"/>
<circle cx="356.00" cy="158.00" r="1.75" fill="#ff00ff"/>
<circle cx="358.30" cy="159.80" r="1.75" fill="#ff00ff"/>
<circle cx="357.50" cy="164.50" r="1.75" fill="#ff00ff"/>
<circle cx="356.80" cy="166.80" r="1.75" fill="#ff00ff"/>
<circle cx="358.00" cy="171.80" r="1.75" fill="#ff00ff"/>
<circle cx="367.70" cy="148.70" r="1.75" fill="#ff00ff"/>
<circle cx="367.30" cy="155.10" r="1.75" fill="#ff00ff"/>
<circle cx="365.90" cy="160.10" r="1.75" fill="#ff00ff"/>
<circle cx="368.80" cy="161.00" r="1.75" fill="#ff00ff"/>
<circle cx="383.10" cy="141.00" r="1.75" fill="#ff00ff"/>
<circle cx="387.30" cy="142.70" r="1.75" fill="#ff00ff"/>
<circle cx="367.60" cy="148.90" r="1.75" fill="#ff00ff"/>
<circle cx="373.90" cy="148.90" r="1.75" fill="#ff00ff"/>
<circle cx="377.20" cy="152.20" r="1.75" fill="#ff00ff"/>
<circle cx="367.30" cy="155.10" r="1.75" fill="#ff00ff"/>
<circle cx="374.90" cy="156.20" r="1.75" fill="#ff00ff"/>
<circle cx="376.80" cy="158.10" r="1.75" fill="#ff00ff"/>
<circle cx="379.00" cy="159.50" r="1.75" fill="#ff00ff"/>
<circle cx="365.80" cy="159.50" r="1.75" fill="#ff00ff"/>
<circle cx="368.50" cy="161.00" r="1.75" fill="#ff00ff"/>
<circle cx="385.80" cy="149.60" r="1.75" fill="#ff00ff"/>
<circle cx="389.20" cy="150.80" r="1.75" fill="#ff00ff"/>
<circle cx="388.80" cy="156.20" r="1.75" fill="#ff00ff"/>
<circle cx="386.30" cy="162.40" r="1.75" fill="#ff00ff"/>
<circle cx="395.00" cy="162.90" r="1.75" fill="#ff00ff"/>
<circle cx="404.50" cy="151.50" r="1.75" fill="#ff00ff"/>
<circle cx="411.80" cy="149.30" r="1.75" fill="#ff00ff"/>
<circle cx="406.70" cy="158.80" r="1.75" fill="#ff00ff"/>
<circle cx="402.30" cy="160.50" r="1.75" fill="#ff00ff"/>
<circle cx="404.50" cy="165.40" r="1.75" fill="#ff00ff"/>
<circle cx="400.60" cy="167.60" r="1.75" fill="#ff00ff"/>
<circle cx="416.60" cy="161.70" r="1.75" fill="#ff00ff"/>
<circle cx="383.40" cy="167.60" r="1.75" fill="#ff00ff"/>
<circle cx="381.20" cy="169.30" r="1.75" fill="#ff00ff"/>
<circle cx="386.30" cy="173.40" r="1.75" fill="#ff00ff"/>
<circle cx="383.40" cy="174.10" r="1.75" fill="#ff00ff"/>
<circle cx="431.50" cy="173.00" r="1.75" fill="#ff00ff"/>
<circle cx="382.90" cy="175.00" r="1.75" fill="#ff00ff"/>
<circle cx="386.30" cy="173.60" r="1.75" fill="#ff00ff"/>
<circle cx="363.20" cy="182.90" r="1.75" fill="#ff00ff"/>
<circle cx="381.20" cy="182.60" r="1.75" fill="#ff00ff"/>
<circle cx="387.70" cy="183.10" r="1.75" fill="#ff00ff"/>
<circle cx="361.80" cy="188.00" r="1.75" fill="#ff00ff"/>
<circle cx="368.00" cy="189.20" r="1.75" fill="#ff00ff"/>
<circle cx="371.70" cy="187.70" r="1.75" fill="#ff00ff"/>
<circle cx="374.30" cy="188.80" r="1.75" fill="#ff00ff"/>
<circle cx="389.20" cy="190.40" r="1.75" fill="#ff00ff"/>
<circle cx="386.00" cy="193.30" r="1.75" fill="#ff00ff"/>
<circle cx="410.10" cy="177.80" r="1.75" fill="#ff00ff"/>
<circle cx="412.30" cy="181.20" r="1.75" fill="#ff00ff"/>
<circle cx="431.50" cy="173.10" r="1.75" fill="#ff00ff"/>
<circle cx="432.30" cy="180.70" r="1.75" fill="#ff00ff"/>
<circle cx="425.00" cy="185.10" r="1.75" fill="#ff00ff"/>
<circle cx="416.20" cy="186.00" r="1.75" fill="#ff00ff"/>
<circle cx="409.90" cy="187.70" r="1.75" fill="#ff00ff"/>
<circle cx="404.50" cy="188.90" r="1.75" fill="#ff00ff"/>
<circle cx="420.60" cy="194.70" r="1.75" fill="#ff00ff"/>
<circle cx="407.40" cy="198.70" r="1.75" fill="#ff00ff"/>
<circle cx="411.80" cy="198.70" r="1.75" fill="#ff00ff"/>
<circle cx="412.80" cy="200.60" r="1.75" fill="#ff00ff"/>
<circle cx="419.10" cy="200.30" r="1.75" fill="#ff00ff"/>
<circle cx="401.60" cy="200.60" r="1.75" fill="#ff00ff"/>
<circle cx="399.70" cy="202.30" r="1.75" fill="#ff00ff"/>
<circle cx="409.30" cy="207.90" r="1.75" fill="#ff00ff"/>
<circle cx="353.10" cy="185.50" r="1.75" fill="#ff00ff"/>
<circle cx="363.30" cy="182.80" r="1.75" fill="#ff00ff"/>
<circle cx="361.50" cy="188.70" r="1.75" fill="#ff00ff"/>
<circle cx="368.50" cy="189.30" r="1.75" fill="#ff00ff"/>
<circle cx="353.00" cy="185.50" r="1.75" fill="#ff00ff"/>
<circle cx="362.80" cy="187.80" r="1.75" fill="#ff00ff"/>
<circle cx="357.10" cy="164.20" r="1.75" fill="#ff00ff"/>
<circle cx="356.60" cy="166.40" r="1.75" fill="#ff00ff"/>
<circle cx="350.50" cy="156.80" r="1.75" fill="#ff00ff"/>
<circle cx="355.80" cy="158.10" r="1.75" fill="#ff00ff"/>
<circle cx="359.30" cy="156.80" r="1.75" fill="#ff00ff"/>
<circle cx="375.00" cy="156.30" r="1.75" fill="#ff00ff"/>
<circle cx="377.70" cy="158.50" r="1.75" fill="#ff00ff"/>
<circle cx="379.40" cy="159.80" r="1.75" fill="#ff00ff"/>
<circle cx="388.60" cy="156.30" r="1.75" fill="#ff00ff"/>
<circle cx="356.60" cy="170.50" r="1.75" fill="#ff00ff"/>
<text x="480.80" y="114.40" font-size="14.5" fill="#000" font-weight="bold">d</text>
<text x="600.70" y="109.60" font-size="10" text-anchor="middle" textLength="66.70" lengthAdjust="spacingAndGlyphs">LC–MS (PCA)</text>
<text x="600.30" y="121.70" font-size="10" text-anchor="middle" textLength="101.80" lengthAdjust="spacingAndGlyphs">Polar tissue extracts</text>
<rect x="522.2" y="128.5" width="156.79999999999995" height="104.69999999999999" fill="none" stroke="#9a9a9a" stroke-width="0.9"/>
<line x1="522.20" y1="180.85" x2="679.00" y2="180.85" stroke="#c8c8c8" stroke-width="1.0" stroke-dasharray="3.5,2.5"/>
<line x1="600.60" y1="128.50" x2="600.60" y2="233.20" stroke="#555" stroke-width="0.7" stroke-dasharray="3,2.2"/>
<line x1="517.80" y1="128.50" x2="522.20" y2="128.50" stroke="#555" stroke-width="0.7"/>
<text x="512.90" y="131.70" font-size="9" text-anchor="end">40</text>
<line x1="517.80" y1="154.68" x2="522.20" y2="154.68" stroke="#555" stroke-width="0.7"/>
<text x="512.90" y="157.88" font-size="9" text-anchor="end">20</text>
<line x1="517.80" y1="180.85" x2="522.20" y2="180.85" stroke="#555" stroke-width="0.7"/>
<text x="512.90" y="184.05" font-size="9" text-anchor="end">0</text>
<line x1="517.80" y1="207.02" x2="522.20" y2="207.02" stroke="#555" stroke-width="0.7"/>
<text x="512.90" y="210.22" font-size="9" text-anchor="end">−20</text>
<line x1="517.80" y1="233.20" x2="522.20" y2="233.20" stroke="#555" stroke-width="0.7"/>
<text x="512.90" y="236.40" font-size="9" text-anchor="end">−40</text>
<line x1="522.20" y1="233.20" x2="522.20" y2="237.50" stroke="#555" stroke-width="0.7"/>
<text x="522.20" y="248.80" font-size="9" text-anchor="middle">−40</text>
<line x1="561.40" y1="233.20" x2="561.40" y2="237.50" stroke="#555" stroke-width="0.7"/>
<text x="561.40" y="248.80" font-size="9" text-anchor="middle">−20</text>
<line x1="600.60" y1="233.20" x2="600.60" y2="237.50" stroke="#555" stroke-width="0.7"/>
<text x="600.60" y="248.80" font-size="9" text-anchor="middle">0</text>
<line x1="639.80" y1="233.20" x2="639.80" y2="237.50" stroke="#555" stroke-width="0.7"/>
<text x="639.80" y="248.80" font-size="9" text-anchor="middle">20</text>
<line x1="679.00" y1="233.20" x2="679.00" y2="237.50" stroke="#555" stroke-width="0.7"/>
<text x="679.00" y="248.80" font-size="9" text-anchor="middle">40</text>
<text x="600.30" y="263.30" font-size="10" text-anchor="middle" textLength="57.50" lengthAdjust="spacingAndGlyphs">PC 1 (26.8%)</text>
<text x="490.90" y="180.90" font-size="10" text-anchor="middle" textLength="56.20" lengthAdjust="spacingAndGlyphs" transform="rotate(-90.00 490.90 180.90)">PC 2 (12.9%)</text>
<circle cx="615.20" cy="146.50" r="2.10" fill="#000"/>
<circle cx="634.80" cy="195.00" r="2.10" fill="#000"/>
<circle cx="643.10" cy="204.20" r="2.10" fill="#000"/>
<circle cx="606.50" cy="156.20" r="2.10" fill="#1a8a1a"/>
<circle cx="629.50" cy="174.20" r="2.10" fill="#1a6e1a"/>
<circle cx="637.90" cy="172.10" r="2.10" fill="#1a6e1a"/>
<circle cx="579.60" cy="187.60" r="2.10" fill="#0000ff"/>
<circle cx="591.00" cy="188.10" r="2.10" fill="#0000ff"/>
<circle cx="615.20" cy="197.60" r="2.10" fill="#0000ff"/>
<circle cx="536.00" cy="182.70" r="2.10" fill="#ff0000"/>
<circle cx="544.40" cy="182.70" r="2.10" fill="#ff0000"/>
<circle cx="571.30" cy="184.40" r="2.10" fill="#ff0000"/>
<text x="533.70" y="139.70" font-size="8.6">WT</text>
<text x="533.70" y="150.50" font-size="8.6" fill="#1a8a1a"><tspan font-style="italic">Kras</tspan><tspan dy="-3.87" font-size="5.16" font-style="italic">G12D/+</tspan></text>
<text x="533.70" y="161.20" font-size="8.6" fill="#0000ff"><tspan font-style="italic">Apc</tspan><tspan dy="-3.87" font-size="5.68" font-style="italic" letter-spacing="0.3" dx="0.5">fl/fl</tspan></text>
<text x="533.70" y="172.00" font-size="8.6" fill="#ff0000"><tspan font-style="italic">Apc</tspan><tspan dy="-3.87" font-size="5.68" font-style="italic" letter-spacing="0.3" dx="0.5">fl/fl</tspan><tspan dy="3.87" font-style="italic"> Kras</tspan><tspan dy="-3.87" font-size="5.16" font-style="italic">G12D/+</tspan></text>
<text x="4.40" y="316.20" font-size="14.5" fill="#000" font-weight="bold">e</text>
<rect x="60.20" y="352.50" width="24.07" height="7.78" fill="#f7e0e0"/>
<rect x="83.97" y="352.50" width="24.07" height="7.78" fill="#de8383"/>
<rect x="107.73" y="352.50" width="24.07" height="7.78" fill="#e7a2a2"/>
<line x1="131.50" y1="356.24" x2="134.80" y2="356.24" stroke="#444" stroke-width="0.7"/>
<text x="137.60" y="358.84" font-size="7.5">Dihydroorotic acid</text>
<rect x="60.20" y="359.98" width="24.07" height="7.78" fill="#fcf3f3"/>
<rect x="83.97" y="359.98" width="24.07" height="7.78" fill="#e7a2a2"/>
<rect x="107.73" y="359.98" width="24.07" height="7.78" fill="#e9a9a9"/>
<line x1="131.50" y1="363.72" x2="134.80" y2="363.72" stroke="#444" stroke-width="0.7"/>
<text x="137.60" y="366.32" font-size="7.5">Carbamoyl aspartate</text>
<rect x="60.20" y="367.47" width="24.07" height="7.78" fill="#f7e0e0"/>
<rect x="83.97" y="367.47" width="24.07" height="7.78" fill="#edb9b9"/>
<rect x="107.73" y="367.47" width="24.07" height="7.78" fill="#e29292"/>
<line x1="131.50" y1="371.21" x2="134.80" y2="371.21" stroke="#444" stroke-width="0.7"/>
<text x="137.60" y="373.81" font-size="7.5">CMP</text>
<rect x="60.20" y="374.95" width="24.07" height="7.78" fill="#f7e0e0"/>
<rect x="83.97" y="374.95" width="24.07" height="7.78" fill="#e9a9a9"/>
<rect x="107.73" y="374.95" width="24.07" height="7.78" fill="#ebb1b1"/>
<line x1="131.50" y1="378.69" x2="134.80" y2="378.69" stroke="#444" stroke-width="0.7"/>
<text x="137.60" y="381.29" font-size="7.5">Cytidine</text>
<rect x="60.20" y="382.43" width="24.07" height="7.78" fill="#f9e8e8"/>
<rect x="83.97" y="382.43" width="24.07" height="7.78" fill="#e08a8a"/>
<rect x="107.73" y="382.43" width="24.07" height="7.78" fill="#d66363"/>
<line x1="131.50" y1="386.17" x2="134.80" y2="386.17" stroke="#444" stroke-width="0.7"/>
<text x="137.60" y="388.77" font-size="7.5">dTMP</text>
<rect x="60.20" y="389.92" width="24.07" height="7.78" fill="#f3d0d0"/>
<rect x="83.97" y="389.92" width="24.07" height="7.78" fill="#e59a9a"/>
<rect x="107.73" y="389.92" width="24.07" height="7.78" fill="#f5d8d8"/>
<line x1="131.50" y1="393.66" x2="134.80" y2="393.66" stroke="#444" stroke-width="0.7"/>
<text x="137.60" y="396.26" font-size="7.5">Orotic acid</text>
<rect x="60.20" y="397.40" width="24.07" height="7.78" fill="#f6dcdc"/>
<rect x="83.97" y="397.40" width="24.07" height="7.78" fill="#da7373"/>
<rect x="107.73" y="397.40" width="24.07" height="7.78" fill="#c82d2d"/>
<line x1="131.50" y1="401.14" x2="134.80" y2="401.14" stroke="#444" stroke-width="0.7"/>
<text x="137.60" y="403.74" font-size="7.5">Thymidine</text>
<rect x="60.20" y="404.88" width="24.07" height="7.78" fill="#fcf3f3"/>
<rect x="83.97" y="404.88" width="24.07" height="7.78" fill="#efc1c1"/>
<rect x="107.73" y="404.88" width="24.07" height="7.78" fill="#e9a9a9"/>
<line x1="131.50" y1="408.62" x2="134.80" y2="408.62" stroke="#444" stroke-width="0.7"/>
<text x="137.60" y="411.22" font-size="7.5">UDP</text>
<rect x="60.20" y="412.36" width="24.07" height="7.78" fill="#fbefef"/>
<rect x="83.97" y="412.36" width="24.07" height="7.78" fill="#f7e0e0"/>
<rect x="107.73" y="412.36" width="24.07" height="7.78" fill="#e9a9a9"/>
<line x1="131.50" y1="416.11" x2="134.80" y2="416.11" stroke="#444" stroke-width="0.7"/>
<text x="137.60" y="418.71" font-size="7.5">UMP</text>
<rect x="60.20" y="419.85" width="24.07" height="7.78" fill="#f3d0d0"/>
<rect x="83.97" y="419.85" width="24.07" height="7.78" fill="#fcf3f3"/>
<rect x="107.73" y="419.85" width="24.07" height="7.78" fill="#f8e4e4"/>
<line x1="131.50" y1="423.59" x2="134.80" y2="423.59" stroke="#444" stroke-width="0.7"/>
<text x="137.60" y="426.19" font-size="7.5">Uracil</text>
<rect x="60.20" y="427.33" width="24.07" height="7.78" fill="#fdf7f7"/>
<rect x="83.97" y="427.33" width="24.07" height="7.78" fill="#f1c9c9"/>
<rect x="107.73" y="427.33" width="24.07" height="7.78" fill="#f1c9c9"/>
<line x1="131.50" y1="431.07" x2="134.80" y2="431.07" stroke="#444" stroke-width="0.7"/>
<text x="137.60" y="433.67" font-size="7.5">Uridine</text>
<rect x="60.20" y="434.81" width="24.07" height="7.78" fill="#c6c6ff"/>
<rect x="83.97" y="434.81" width="24.07" height="7.78" fill="#ffffff"/>
<rect x="107.73" y="434.81" width="24.07" height="7.78" fill="#e3e3ff"/>
<line x1="131.50" y1="438.56" x2="134.80" y2="438.56" stroke="#444" stroke-width="0.7"/>
<text x="137.60" y="441.16" font-size="7.5">Adenine</text>
<rect x="60.20" y="442.30" width="24.07" height="7.78" fill="#c6c6ff"/>
<rect x="83.97" y="442.30" width="24.07" height="7.78" fill="#fdf9f9"/>
<rect x="107.73" y="442.30" width="24.07" height="7.78" fill="#ffffff"/>
<line x1="131.50" y1="446.04" x2="134.80" y2="446.04" stroke="#444" stroke-width="0.7"/>
<text x="137.60" y="448.64" font-size="7.5">Adenosine</text>
<rect x="60.20" y="449.78" width="24.07" height="7.78" fill="#faecec"/>
<rect x="83.97" y="449.78" width="24.07" height="7.78" fill="#faecec"/>
<rect x="107.73" y="449.78" width="24.07" height="7.78" fill="#f3d0d0"/>
<line x1="131.50" y1="453.52" x2="134.80" y2="453.52" stroke="#444" stroke-width="0.7"/>
<text x="137.60" y="456.12" font-size="7.5">ADP</text>
<rect x="60.20" y="457.26" width="24.07" height="7.78" fill="#fdf7f7"/>
<rect x="83.97" y="457.26" width="24.07" height="7.78" fill="#fdf7f7"/>
<rect x="107.73" y="457.26" width="24.07" height="7.78" fill="#f8e4e4"/>
<line x1="131.50" y1="461.00" x2="134.80" y2="461.00" stroke="#444" stroke-width="0.7"/>
<text x="137.60" y="463.60" font-size="7.5">AMP</text>
<rect x="60.20" y="464.75" width="24.07" height="7.78" fill="#ffffff"/>
<rect x="83.97" y="464.75" width="24.07" height="7.78" fill="#f7e0e0"/>
<rect x="107.73" y="464.75" width="24.07" height="7.78" fill="#f4d4d4"/>
<line x1="131.50" y1="468.49" x2="134.80" y2="468.49" stroke="#444" stroke-width="0.7"/>
<text x="137.60" y="471.09" font-size="7.5">GDP</text>
<rect x="60.20" y="472.23" width="24.07" height="7.78" fill="#fbefef"/>
<rect x="83.97" y="472.23" width="24.07" height="7.78" fill="#fafaff"/>
<rect x="107.73" y="472.23" width="24.07" height="7.78" fill="#f8e4e4"/>
<line x1="131.50" y1="475.97" x2="134.80" y2="475.97" stroke="#444" stroke-width="0.7"/>
<text x="137.60" y="478.57" font-size="7.5">GMP</text>
<rect x="60.20" y="479.71" width="24.07" height="7.78" fill="#dedeff"/>
<rect x="83.97" y="479.71" width="24.07" height="7.78" fill="#fefbfb"/>
<rect x="107.73" y="479.71" width="24.07" height="7.78" fill="#f7f7ff"/>
<line x1="131.50" y1="483.45" x2="134.80" y2="483.45" stroke="#444" stroke-width="0.7"/>
<text x="137.60" y="486.05" font-size="7.5">Guanosine</text>
<rect x="60.20" y="487.19" width="24.07" height="7.78" fill="#fdf7f7"/>
<rect x="83.97" y="487.19" width="24.07" height="7.78" fill="#fefdfd"/>
<rect x="107.73" y="487.19" width="24.07" height="7.78" fill="#d4d4ff"/>
<line x1="131.50" y1="490.94" x2="134.80" y2="490.94" stroke="#444" stroke-width="0.7"/>
<text x="137.60" y="493.54" font-size="7.5">hypoxanthine</text>
<rect x="60.20" y="494.68" width="24.07" height="7.78" fill="#d4d4ff"/>
<rect x="83.97" y="494.68" width="24.07" height="7.78" fill="#fcf3f3"/>
<rect x="107.73" y="494.68" width="24.07" height="7.78" fill="#f4d4d4"/>
<line x1="131.50" y1="498.42" x2="134.80" y2="498.42" stroke="#444" stroke-width="0.7"/>
<text x="137.60" y="501.02" font-size="7.5">IMP</text>
<rect x="60.20" y="502.16" width="24.07" height="7.78" fill="#d0d0ff"/>
<rect x="83.97" y="502.16" width="24.07" height="7.78" fill="#bfbfff"/>
<rect x="107.73" y="502.16" width="24.07" height="7.78" fill="#a1a1ff"/>
<line x1="131.50" y1="505.90" x2="134.80" y2="505.90" stroke="#444" stroke-width="0.7"/>
<text x="137.60" y="508.50" font-size="7.5">Inosine</text>
<rect x="60.20" y="509.64" width="24.07" height="7.78" fill="#f1c9c9"/>
<rect x="83.97" y="509.64" width="24.07" height="7.78" fill="#d04c4c"/>
<rect x="107.73" y="509.64" width="24.07" height="7.78" fill="#f7e0e0"/>
<line x1="131.50" y1="513.39" x2="134.80" y2="513.39" stroke="#444" stroke-width="0.7"/>
<text x="137.60" y="515.99" font-size="7.5">Cystathionine</text>
<rect x="60.20" y="517.13" width="24.07" height="7.78" fill="#efc1c1"/>
<rect x="83.97" y="517.13" width="24.07" height="7.78" fill="#e08a8a"/>
<rect x="107.73" y="517.13" width="24.07" height="7.78" fill="#db7777"/>
<line x1="131.50" y1="520.87" x2="134.80" y2="520.87" stroke="#444" stroke-width="0.7"/>
<text x="137.60" y="523.47" font-size="7.5">Methylthioadenosine</text>
<rect x="60.20" y="524.61" width="24.07" height="7.78" fill="#faecec"/>
<rect x="83.97" y="524.61" width="24.07" height="7.78" fill="#edb9b9"/>
<rect x="107.73" y="524.61" width="24.07" height="7.78" fill="#e9a9a9"/>
<line x1="131.50" y1="528.35" x2="134.80" y2="528.35" stroke="#444" stroke-width="0.7"/>
<text x="137.60" y="530.95" font-size="7.5">S-Adenosyl-Homocysteine</text>
<rect x="60.20" y="532.09" width="24.07" height="7.78" fill="#faecec"/>
<rect x="83.97" y="532.09" width="24.07" height="7.78" fill="#edb9b9"/>
<rect x="107.73" y="532.09" width="24.07" height="7.78" fill="#ebb1b1"/>
<line x1="131.50" y1="535.83" x2="134.80" y2="535.83" stroke="#444" stroke-width="0.7"/>
<text x="137.60" y="538.43" font-size="7.5">S-Adenosyl-Methionine</text>
<rect x="60.20" y="539.58" width="24.07" height="7.78" fill="#fdf9f9"/>
<rect x="83.97" y="539.58" width="24.07" height="7.78" fill="#d4d4ff"/>
<rect x="107.73" y="539.58" width="24.07" height="7.78" fill="#ceceff"/>
<line x1="131.50" y1="543.32" x2="134.80" y2="543.32" stroke="#444" stroke-width="0.7"/>
<text x="137.60" y="545.92" font-size="7.5">Lactate</text>
<rect x="60.20" y="547.06" width="24.07" height="7.78" fill="#dedeff"/>
<rect x="83.97" y="547.06" width="24.07" height="7.78" fill="#f1f1ff"/>
<rect x="107.73" y="547.06" width="24.07" height="7.78" fill="#aaaaff"/>
<line x1="131.50" y1="550.80" x2="134.80" y2="550.80" stroke="#444" stroke-width="0.7"/>
<text x="137.60" y="553.40" font-size="7.5">Phosphoenolpyruvate</text>
<rect x="60.20" y="554.54" width="24.07" height="7.78" fill="#c2c2ff"/>
<rect x="83.97" y="554.54" width="24.07" height="7.78" fill="#f1f1ff"/>
<rect x="107.73" y="554.54" width="24.07" height="7.78" fill="#bdbdff"/>
<line x1="131.50" y1="558.28" x2="134.80" y2="558.28" stroke="#444" stroke-width="0.7"/>
<text x="137.60" y="560.88" font-size="7.5">Pyruvate</text>
<rect x="60.20" y="562.03" width="24.07" height="7.78" fill="#a1a1ff"/>
<rect x="83.97" y="562.03" width="24.07" height="7.78" fill="#f4f4ff"/>
<rect x="107.73" y="562.03" width="24.07" height="7.78" fill="#f1f1ff"/>
<line x1="131.50" y1="565.77" x2="134.80" y2="565.77" stroke="#444" stroke-width="0.7"/>
<text x="137.60" y="568.37" font-size="7.5">aKG</text>
<rect x="60.20" y="569.51" width="24.07" height="7.78" fill="#f9e8e8"/>
<rect x="83.97" y="569.51" width="24.07" height="7.78" fill="#f6dcdc"/>
<rect x="107.73" y="569.51" width="24.07" height="7.78" fill="#eebdbd"/>
<line x1="131.50" y1="573.25" x2="134.80" y2="573.25" stroke="#444" stroke-width="0.7"/>
<text x="137.60" y="575.85" font-size="7.5">Citrate</text>
<rect x="60.20" y="576.99" width="24.07" height="7.78" fill="#e7e7ff"/>
<rect x="83.97" y="576.99" width="24.07" height="7.78" fill="#d0d0ff"/>
<rect x="107.73" y="576.99" width="24.07" height="7.78" fill="#a1a1ff"/>
<line x1="131.50" y1="580.73" x2="134.80" y2="580.73" stroke="#444" stroke-width="0.7"/>
<text x="137.60" y="583.33" font-size="7.5">Malate</text>
<rect x="60.20" y="584.47" width="24.07" height="7.78" fill="#ececff"/>
<rect x="83.97" y="584.47" width="24.07" height="7.78" fill="#fcfcff"/>
<rect x="107.73" y="584.47" width="24.07" height="7.78" fill="#e3e3ff"/>
<line x1="131.50" y1="588.22" x2="134.80" y2="588.22" stroke="#444" stroke-width="0.7"/>
<text x="137.60" y="590.82" font-size="7.5">Succinic acid</text>
<rect x="60.20" y="591.96" width="24.07" height="7.78" fill="#fafaff"/>
<rect x="83.97" y="591.96" width="24.07" height="7.78" fill="#f7f7ff"/>
<rect x="107.73" y="591.96" width="24.07" height="7.78" fill="#d4d4ff"/>
<line x1="131.50" y1="595.70" x2="134.80" y2="595.70" stroke="#444" stroke-width="0.7"/>
<text x="137.60" y="598.30" font-size="7.5">Alanine</text>
<rect x="60.20" y="599.44" width="24.07" height="7.78" fill="#f9e8e8"/>
<rect x="83.97" y="599.44" width="24.07" height="7.78" fill="#f6dcdc"/>
<rect x="107.73" y="599.44" width="24.07" height="7.78" fill="#d9d9ff"/>
<line x1="131.50" y1="603.18" x2="134.80" y2="603.18" stroke="#444" stroke-width="0.7"/>
<text x="137.60" y="605.78" font-size="7.5">Arginine</text>
<rect x="60.20" y="606.92" width="24.07" height="7.78" fill="#ffffff"/>
<rect x="83.97" y="606.92" width="24.07" height="7.78" fill="#fefafa"/>
<rect x="107.73" y="606.92" width="24.07" height="7.78" fill="#d4d4ff"/>
<line x1="131.50" y1="610.67" x2="134.80" y2="610.67" stroke="#444" stroke-width="0.7"/>
<text x="137.60" y="613.27" font-size="7.5">Asparagine</text>
<rect x="60.20" y="614.41" width="24.07" height="7.78" fill="#f7e0e0"/>
<rect x="83.97" y="614.41" width="24.07" height="7.78" fill="#f9e8e8"/>
<rect x="107.73" y="614.41" width="24.07" height="7.78" fill="#ececff"/>
<line x1="131.50" y1="618.15" x2="134.80" y2="618.15" stroke="#444" stroke-width="0.7"/>
<text x="137.60" y="620.75" font-size="7.5">Aspartate</text>
<rect x="60.20" y="621.89" width="24.07" height="7.78" fill="#d0d0ff"/>
<rect x="83.97" y="621.89" width="24.07" height="7.78" fill="#e7e7ff"/>
<rect x="107.73" y="621.89" width="24.07" height="7.78" fill="#d4d4ff"/>
<line x1="131.50" y1="625.63" x2="134.80" y2="625.63" stroke="#444" stroke-width="0.7"/>
<text x="137.60" y="628.23" font-size="7.5">Glutamine</text>
<rect x="60.20" y="629.37" width="24.07" height="7.78" fill="#fafaff"/>
<rect x="83.97" y="629.37" width="24.07" height="7.78" fill="#f9e8e8"/>
<rect x="107.73" y="629.37" width="24.07" height="7.78" fill="#f6f6ff"/>
<line x1="131.50" y1="633.11" x2="134.80" y2="633.11" stroke="#444" stroke-width="0.7"/>
<text x="137.60" y="635.71" font-size="7.5">Glutamate</text>
<rect x="60.20" y="636.86" width="24.07" height="7.78" fill="#f1f1ff"/>
<rect x="83.97" y="636.86" width="24.07" height="7.78" fill="#f1f1ff"/>
<rect x="107.73" y="636.86" width="24.07" height="7.78" fill="#c2c2ff"/>
<line x1="131.50" y1="640.60" x2="134.80" y2="640.60" stroke="#444" stroke-width="0.7"/>
<text x="137.60" y="643.20" font-size="7.5">Glycine</text>
<rect x="60.20" y="644.34" width="24.07" height="7.78" fill="#fefcfc"/>
<rect x="83.97" y="644.34" width="24.07" height="7.78" fill="#c6c6ff"/>
<rect x="107.73" y="644.34" width="24.07" height="7.78" fill="#cbcbff"/>
<line x1="131.50" y1="648.08" x2="134.80" y2="648.08" stroke="#444" stroke-width="0.7"/>
<text x="137.60" y="650.68" font-size="7.5">Isoleucine</text>
<rect x="60.20" y="651.82" width="24.07" height="7.78" fill="#fefdfd"/>
<rect x="83.97" y="651.82" width="24.07" height="7.78" fill="#dedeff"/>
<rect x="107.73" y="651.82" width="24.07" height="7.78" fill="#cbcbff"/>
<line x1="131.50" y1="655.56" x2="134.80" y2="655.56" stroke="#444" stroke-width="0.7"/>
<text x="137.60" y="658.16" font-size="7.5">Leucine</text>
<rect x="60.20" y="659.31" width="24.07" height="7.78" fill="#faecec"/>
<rect x="83.97" y="659.31" width="24.07" height="7.78" fill="#ffffff"/>
<rect x="107.73" y="659.31" width="24.07" height="7.78" fill="#afafff"/>
<line x1="131.50" y1="663.05" x2="134.80" y2="663.05" stroke="#444" stroke-width="0.7"/>
<text x="137.60" y="665.65" font-size="7.5">Lysine</text>
<rect x="60.20" y="666.79" width="24.07" height="7.78" fill="#fbefef"/>
<rect x="83.97" y="666.79" width="24.07" height="7.78" fill="#f7f7ff"/>
<rect x="107.73" y="666.79" width="24.07" height="7.78" fill="#bdbdff"/>
<line x1="131.50" y1="670.53" x2="134.80" y2="670.53" stroke="#444" stroke-width="0.7"/>
<text x="137.60" y="673.13" font-size="7.5">Methionine</text>
<rect x="60.20" y="674.27" width="24.07" height="7.78" fill="#fefdfd"/>
<rect x="83.97" y="674.27" width="24.07" height="7.78" fill="#eeeeff"/>
<rect x="107.73" y="674.27" width="24.07" height="7.78" fill="#c2c2ff"/>
<line x1="131.50" y1="678.01" x2="134.80" y2="678.01" stroke="#444" stroke-width="0.7"/>
<text x="137.60" y="680.61" font-size="7.5">Phenylalanine</text>
<rect x="60.20" y="681.75" width="24.07" height="7.78" fill="#f6f6ff"/>
<rect x="83.97" y="681.75" width="24.07" height="7.78" fill="#d4d4ff"/>
<rect x="107.73" y="681.75" width="24.07" height="7.78" fill="#c2c2ff"/>
<line x1="131.50" y1="685.50" x2="134.80" y2="685.50" stroke="#444" stroke-width="0.7"/>
<text x="137.60" y="688.10" font-size="7.5">Proline</text>
<rect x="60.20" y="689.24" width="24.07" height="7.78" fill="#fdfdff"/>
<rect x="83.97" y="689.24" width="24.07" height="7.78" fill="#f2f2ff"/>
<rect x="107.73" y="689.24" width="24.07" height="7.78" fill="#8e8eff"/>
<line x1="131.50" y1="692.98" x2="134.80" y2="692.98" stroke="#444" stroke-width="0.7"/>
<text x="137.60" y="695.58" font-size="7.5">Serine</text>
<rect x="60.20" y="696.72" width="24.07" height="7.78" fill="#fffefe"/>
<rect x="83.97" y="696.72" width="24.07" height="7.78" fill="#ffffff"/>
<rect x="107.73" y="696.72" width="24.07" height="7.78" fill="#c6c6ff"/>
<line x1="131.50" y1="700.46" x2="134.80" y2="700.46" stroke="#444" stroke-width="0.7"/>
<text x="137.60" y="703.06" font-size="7.5">Threonine</text>
<rect x="60.20" y="704.20" width="24.07" height="7.78" fill="#fcf3f3"/>
<rect x="83.97" y="704.20" width="24.07" height="7.78" fill="#d9d9ff"/>
<rect x="107.73" y="704.20" width="24.07" height="7.78" fill="#8e8eff"/>
<line x1="131.50" y1="707.94" x2="134.80" y2="707.94" stroke="#444" stroke-width="0.7"/>
<text x="137.60" y="710.54" font-size="7.5">Tryptophan</text>
<rect x="60.20" y="711.69" width="24.07" height="7.78" fill="#fdf9f9"/>
<rect x="83.97" y="711.69" width="24.07" height="7.78" fill="#ececff"/>
<rect x="107.73" y="711.69" width="24.07" height="7.78" fill="#aaaaff"/>
<line x1="131.50" y1="715.43" x2="134.80" y2="715.43" stroke="#444" stroke-width="0.7"/>
<text x="137.60" y="718.03" font-size="7.5">Tyrosine</text>
<rect x="60.20" y="719.17" width="24.07" height="7.78" fill="#fcf3f3"/>
<rect x="83.97" y="719.17" width="24.07" height="7.78" fill="#e7e7ff"/>
<rect x="107.73" y="719.17" width="24.07" height="7.78" fill="#d4d4ff"/>
<line x1="131.50" y1="722.91" x2="134.80" y2="722.91" stroke="#444" stroke-width="0.7"/>
<text x="137.60" y="725.51" font-size="7.5">Valine</text>
<rect x="60.20" y="726.65" width="24.07" height="7.78" fill="#f9e8e8"/>
<rect x="83.97" y="726.65" width="24.07" height="7.78" fill="#fefbfb"/>
<rect x="107.73" y="726.65" width="24.07" height="7.78" fill="#8080ff"/>
<line x1="131.50" y1="730.39" x2="134.80" y2="730.39" stroke="#444" stroke-width="0.7"/>
<text x="137.60" y="732.99" font-size="7.5">Cystine</text>
<rect x="60.20" y="734.14" width="24.07" height="7.78" fill="#fffdfd"/>
<rect x="83.97" y="734.14" width="24.07" height="7.78" fill="#f6dcdc"/>
<rect x="107.73" y="734.14" width="24.07" height="7.78" fill="#d0d0ff"/>
<line x1="131.50" y1="737.88" x2="134.80" y2="737.88" stroke="#444" stroke-width="0.7"/>
<text x="137.60" y="740.48" font-size="7.5">Argininosuccinate</text>
<rect x="60.20" y="741.62" width="24.07" height="7.78" fill="#afafff"/>
<rect x="83.97" y="741.62" width="24.07" height="7.78" fill="#edb9b9"/>
<rect x="107.73" y="741.62" width="24.07" height="7.78" fill="#f7e0e0"/>
<line x1="131.50" y1="745.36" x2="134.80" y2="745.36" stroke="#444" stroke-width="0.7"/>
<text x="137.60" y="747.96" font-size="7.5">Citrulline</text>
<rect x="60.20" y="749.10" width="24.07" height="7.78" fill="#fdf9f9"/>
<rect x="83.97" y="749.10" width="24.07" height="7.78" fill="#cbcbff"/>
<rect x="107.73" y="749.10" width="24.07" height="7.78" fill="#7171ff"/>
<line x1="131.50" y1="752.84" x2="134.80" y2="752.84" stroke="#444" stroke-width="0.7"/>
<text x="137.60" y="755.44" font-size="7.5">Ornithine</text>
<rect x="60.20" y="756.58" width="24.07" height="7.78" fill="#fcf3f3"/>
<rect x="83.97" y="756.58" width="24.07" height="7.78" fill="#fafaff"/>
<rect x="107.73" y="756.58" width="24.07" height="7.78" fill="#fafaff"/>
<line x1="131.50" y1="760.33" x2="134.80" y2="760.33" stroke="#444" stroke-width="0.7"/>
<text x="137.60" y="762.93" font-size="7.5">GSH</text>
<rect x="60.20" y="764.07" width="24.07" height="7.78" fill="#e9a9a9"/>
<rect x="83.97" y="764.07" width="24.07" height="7.78" fill="#f5d8d8"/>
<rect x="107.73" y="764.07" width="24.07" height="7.78" fill="#fefdfd"/>
<line x1="131.50" y1="767.81" x2="134.80" y2="767.81" stroke="#444" stroke-width="0.7"/>
<text x="137.60" y="770.41" font-size="7.5">GSSG</text>
<rect x="60.20" y="771.55" width="24.07" height="7.78" fill="#fcfcff"/>
<rect x="83.97" y="771.55" width="24.07" height="7.78" fill="#fffefe"/>
<rect x="107.73" y="771.55" width="24.07" height="7.78" fill="#fefbfb"/>
<line x1="131.50" y1="775.29" x2="134.80" y2="775.29" stroke="#444" stroke-width="0.7"/>
<text x="137.60" y="777.89" font-size="7.5">NAD+</text>
<rect x="60.20" y="779.03" width="24.07" height="7.78" fill="#f8e4e4"/>
<rect x="83.97" y="779.03" width="24.07" height="7.78" fill="#f8f8ff"/>
<rect x="107.73" y="779.03" width="24.07" height="7.78" fill="#e7e7ff"/>
<line x1="131.50" y1="782.78" x2="134.80" y2="782.78" stroke="#444" stroke-width="0.7"/>
<text x="137.60" y="785.38" font-size="7.5">NADH</text>
<rect x="60.20" y="786.52" width="24.07" height="7.78" fill="#f7e0e0"/>
<rect x="83.97" y="786.52" width="24.07" height="7.78" fill="#fffdfd"/>
<rect x="107.73" y="786.52" width="24.07" height="7.78" fill="#f9e8e8"/>
<line x1="131.50" y1="790.26" x2="134.80" y2="790.26" stroke="#444" stroke-width="0.7"/>
<text x="137.60" y="792.86" font-size="7.5">NADP+</text>
<rect x="60.2" y="352.5" width="71.3" height="441.5" fill="none" stroke="#666" stroke-width="0.9"/>
<line x1="72.08" y1="352.50" x2="72.08" y2="348.30" stroke="#444" stroke-width="0.7"/>
<text x="72.68" y="345.30" font-size="10" transform="rotate(-45.00 72.68 345.30)"><tspan>Kras</tspan><tspan dy="-4.50" font-size="6.40" font-style="italic">G12D/+</tspan></text>
<line x1="95.85" y1="352.50" x2="95.85" y2="348.30" stroke="#444" stroke-width="0.7"/>
<text x="96.45" y="345.30" font-size="10" transform="rotate(-45.00 96.45 345.30)"><tspan>Apc</tspan><tspan dy="-4.50" font-size="7.20" font-style="italic" letter-spacing="0.35">fl/fl</tspan></text>
<line x1="119.62" y1="352.50" x2="119.62" y2="348.30" stroke="#444" stroke-width="0.7"/>
<text x="120.22" y="345.30" font-size="10" transform="rotate(-45.00 120.22 345.30)"><tspan>Apc</tspan><tspan dy="-4.50" font-size="7.20" font-style="italic" letter-spacing="0.35">fl/fl</tspan><tspan dy="4.50"> Kras</tspan><tspan dy="-4.50" font-size="6.40" font-style="italic">G12D/+</tspan></text>
<defs><linearGradient id="cb" x1="0" y1="0" x2="0" y2="1"><stop offset="0" stop-color="#c82d2d"/><stop offset="0.25" stop-color="#e49696"/><stop offset="0.5" stop-color="#ffffff"/><stop offset="0.75" stop-color="#8080ff"/><stop offset="1" stop-color="#0000ff"/></linearGradient></defs>
<rect x="44.8" y="488.0" width="8.900000000000006" height="109.89999999999998" fill="url(#cb)" stroke="#777" stroke-width="0.7"/>
<line x1="44.80" y1="502.70" x2="46.80" y2="502.70" stroke="#555" stroke-width="0.7"/>
<line x1="51.70" y1="502.70" x2="53.70" y2="502.70" stroke="#555" stroke-width="0.7"/>
<text x="40.60" y="505.90" font-size="9" text-anchor="end">2</text>
<line x1="44.80" y1="543.20" x2="46.80" y2="543.20" stroke="#555" stroke-width="0.7"/>
<line x1="51.70" y1="543.20" x2="53.70" y2="543.20" stroke="#555" stroke-width="0.7"/>
<text x="40.60" y="546.40" font-size="9" text-anchor="end">0</text>
<line x1="44.80" y1="584.10" x2="46.80" y2="584.10" stroke="#555" stroke-width="0.7"/>
<line x1="51.70" y1="584.10" x2="53.70" y2="584.10" stroke="#555" stroke-width="0.7"/>
<text x="40.60" y="587.30" font-size="9" text-anchor="end">−2</text>
<text x="22.40" y="544.30" font-size="10" text-anchor="middle" textLength="88.90" lengthAdjust="spacingAndGlyphs" transform="rotate(-90.00 22.40 544.30)"><tspan>log</tspan><tspan dy="2.00" font-size="6.20">2</tspan><tspan dy="-2.00">(FC versus WT)</tspan></text>
<polyline points="201.2,353.1 216.0,353.1 216.0,431.8 201.2,431.8" fill="none" stroke="#555" stroke-width="0.8"/>
<text x="223.70" y="395.00" font-size="9">Pyrimidines</text>
<polyline points="201.2,435.5 216.0,435.5 216.0,505.4 201.2,505.4" fill="none" stroke="#555" stroke-width="0.8"/>
<text x="220.00" y="473.60" font-size="9">Purines</text>
<polyline points="223.0,508.7 242.4,508.7 242.4,536.0 223.0,536.0" fill="none" stroke="#555" stroke-width="0.8"/>
<text x="247.60" y="520.10" font-size="9">Methionine cycle/</text>
<text x="247.60" y="531.60" font-size="9">transsulferation</text>
<polyline points="211.4,539.4 232.3,539.4 232.3,560.0 211.4,560.0" fill="none" stroke="#555" stroke-width="0.8"/>
<text x="235.00" y="552.30" font-size="9">Glycolysis</text>
<polyline points="185.9,562.7 200.6,562.7 200.6,589.1 185.9,589.1" fill="none" stroke="#555" stroke-width="0.8"/>
<text x="205.50" y="578.30" font-size="9">TCA cycle</text>
<polyline points="180.2,593.7 200.7,593.7 200.7,731.1 180.2,731.1" fill="none" stroke="#555" stroke-width="0.8"/>
<text x="205.50" y="664.60" font-size="9">Amino acids</text>
<polyline points="196.8,736.4 210.8,736.4 210.8,753.9 196.8,753.9" fill="none" stroke="#555" stroke-width="0.8"/>
<text x="215.40" y="748.40" font-size="9">Urea cycle</text>
<polyline points="167.0,760.0 181.1,760.0 181.1,790.2 167.0,790.2" fill="none" stroke="#555" stroke-width="0.8"/>
<text x="186.00" y="777.90" font-size="9">Redox homeostasis</text>
<text x="337.20" y="296.00" font-size="14.5" fill="#000" font-weight="bold">f</text>
<line x1="386.60" y1="315.30" x2="386.60" y2="401.20" stroke="#a8a8a8" stroke-width="0.8"/>
<line x1="382.30" y1="315.30" x2="386.60" y2="315.30" stroke="#a0a0a0" stroke-width="0.8"/>
<text x="378.20" y="318.40" font-size="8.6" text-anchor="end"><tspan>6 </tspan><tspan font-size="7.8">×</tspan><tspan> 10</tspan><tspan dy="-4.30" font-size="5.68">6</tspan></text>
<line x1="382.30" y1="344.20" x2="386.60" y2="344.20" stroke="#a0a0a0" stroke-width="0.8"/>
<text x="378.20" y="347.30" font-size="8.6" text-anchor="end"><tspan>4 </tspan><tspan font-size="7.8">×</tspan><tspan> 10</tspan><tspan dy="-4.30" font-size="5.68">6</tspan></text>
<line x1="382.30" y1="372.80" x2="386.60" y2="372.80" stroke="#a0a0a0" stroke-width="0.8"/>
<text x="378.20" y="375.90" font-size="8.6" text-anchor="end"><tspan>2 </tspan><tspan font-size="7.8">×</tspan><tspan> 10</tspan><tspan dy="-4.30" font-size="5.68">6</tspan></text>
<line x1="382.30" y1="401.20" x2="386.60" y2="401.20" stroke="#a0a0a0" stroke-width="0.8"/>
<text x="378.20" y="404.30" font-size="8.6" text-anchor="end">0</text>
<line x1="399.35" y1="360.50" x2="399.35" y2="389.50" stroke="#555555" stroke-width="0.9"/>
<line x1="396.15" y1="360.50" x2="402.55" y2="360.50" stroke="#555555" stroke-width="0.9"/>
<line x1="396.15" y1="389.50" x2="402.55" y2="389.50" stroke="#555555" stroke-width="0.9"/>
<path d="M393.75,401.20 V374.75 H404.95 V401.20" fill="none" stroke="#111111" stroke-width="1.3"/>
<circle cx="399.35" cy="363.40" r="0.95" fill="#111111"/>
<circle cx="399.35" cy="368.50" r="0.95" fill="#111111"/>
<circle cx="399.35" cy="389.30" r="0.95" fill="#111111"/>
<line x1="399.35" y1="401.20" x2="399.35" y2="404.80" stroke="#999" stroke-width="0.8"/>
<line x1="419.10" y1="362.10" x2="419.10" y2="374.80" stroke="#6cb86c" stroke-width="0.9"/>
<line x1="415.90" y1="362.10" x2="422.30" y2="362.10" stroke="#6cb86c" stroke-width="0.9"/>
<line x1="415.90" y1="374.80" x2="422.30" y2="374.80" stroke="#6cb86c" stroke-width="0.9"/>
<path d="M413.25,401.20 V369.25 H424.95 V401.20" fill="none" stroke="#1f8f1f" stroke-width="1.3"/>
<circle cx="419.10" cy="362.50" r="0.95" fill="#1f8f1f"/>
<circle cx="419.10" cy="368.00" r="0.95" fill="#1f8f1f"/>
<circle cx="419.10" cy="374.50" r="0.95" fill="#1f8f1f"/>
<line x1="419.10" y1="401.20" x2="419.10" y2="404.80" stroke="#999" stroke-width="0.8"/>
<line x1="439.20" y1="329.90" x2="439.20" y2="350.70" stroke="#8888ff" stroke-width="0.9"/>
<line x1="436.00" y1="329.90" x2="442.40" y2="329.90" stroke="#8888ff" stroke-width="0.9"/>
<line x1="436.00" y1="350.70" x2="442.40" y2="350.70" stroke="#8888ff" stroke-width="0.9"/>
<path d="M433.55,401.20 V341.45 H444.85 V401.20" fill="none" stroke="#0000ff" stroke-width="1.3"/>
<circle cx="439.20" cy="329.50" r="0.95" fill="#0000ff"/>
<circle cx="439.20" cy="340.80" r="0.95" fill="#0000ff"/>
<circle cx="439.20" cy="350.50" r="0.95" fill="#0000ff"/>
<line x1="439.20" y1="401.20" x2="439.20" y2="404.80" stroke="#999" stroke-width="0.8"/>
<line x1="459.05" y1="328.40" x2="459.05" y2="360.10" stroke="#ff8888" stroke-width="0.9"/>
<line x1="455.85" y1="328.40" x2="462.25" y2="328.40" stroke="#ff8888" stroke-width="0.9"/>
<line x1="455.85" y1="360.10" x2="462.25" y2="360.10" stroke="#ff8888" stroke-width="0.9"/>
<path d="M452.95,401.20 V345.65 H465.15 V401.20" fill="none" stroke="#ff0000" stroke-width="1.3"/>
<circle cx="459.05" cy="328.40" r="0.95" fill="#ff0000"/>
<circle cx="459.05" cy="345.00" r="0.95" fill="#ff0000"/>
<circle cx="459.05" cy="360.00" r="0.95" fill="#ff0000"/>
<line x1="459.05" y1="401.20" x2="459.05" y2="404.80" stroke="#999" stroke-width="0.8"/>
<line x1="382.30" y1="401.20" x2="472.30" y2="401.20" stroke="#777" stroke-width="0.9"/>
<text x="401.25" y="412.10" font-size="10.6" text-anchor="end" transform="rotate(-45.00 401.25 412.10)"><tspan>Wild type</tspan></text>
<text x="423.10" y="414.60" font-size="10.6" text-anchor="end" transform="rotate(-45.00 423.10 414.60)"><tspan>Kras</tspan><tspan dy="-4.45" font-size="6.36" font-style="italic">G12D/+</tspan></text>
<text x="443.20" y="414.60" font-size="10.6" text-anchor="end" transform="rotate(-45.00 443.20 414.60)"><tspan>Apc</tspan><tspan dy="-4.45" font-size="7.42" font-style="italic" letter-spacing="0.3">fl/fl</tspan></text>
<text x="463.05" y="414.60" font-size="10.6" text-anchor="end" transform="rotate(-45.00 463.05 414.60)"><tspan>Apc</tspan><tspan dy="-4.45" font-size="7.42" font-style="italic" letter-spacing="0.3">fl/fl</tspan><tspan dy="4.45"> Kras</tspan><tspan dy="-4.45" font-size="6.36" font-style="italic">G12D/+</tspan></text>
<text x="345.50" y="358.25" font-size="10" text-anchor="middle" textLength="105.40" lengthAdjust="spacingAndGlyphs" transform="rotate(-90.00 345.50 358.25)">Peak area (normalized)</text>
<text x="428.00" y="305.10" font-size="10" text-anchor="middle" textLength="95.20" lengthAdjust="spacingAndGlyphs">Carbamoyl-aspartate</text>
<text x="516.00" y="294.80" font-size="14.5" fill="#000" font-weight="bold">g</text>
<line x1="565.40" y1="315.10" x2="565.40" y2="401.50" stroke="#a8a8a8" stroke-width="0.8"/>
<line x1="561.10" y1="315.10" x2="565.40" y2="315.10" stroke="#a0a0a0" stroke-width="0.8"/>
<text x="557.00" y="318.20" font-size="8.6" text-anchor="end"><tspan>1 </tspan><tspan font-size="7.8">×</tspan><tspan> 10</tspan><tspan dy="-4.30" font-size="5.68">7</tspan></text>
<line x1="561.10" y1="332.70" x2="565.40" y2="332.70" stroke="#a0a0a0" stroke-width="0.8"/>
<text x="557.00" y="335.80" font-size="8.6" text-anchor="end"><tspan>8 </tspan><tspan font-size="7.8">×</tspan><tspan> 10</tspan><tspan dy="-4.30" font-size="5.68">6</tspan></text>
<line x1="561.10" y1="350.20" x2="565.40" y2="350.20" stroke="#a0a0a0" stroke-width="0.8"/>
<text x="557.00" y="353.30" font-size="8.6" text-anchor="end"><tspan>6 </tspan><tspan font-size="7.8">×</tspan><tspan> 10</tspan><tspan dy="-4.30" font-size="5.68">6</tspan></text>
<line x1="561.10" y1="367.20" x2="565.40" y2="367.20" stroke="#a0a0a0" stroke-width="0.8"/>
<text x="557.00" y="370.30" font-size="8.6" text-anchor="end"><tspan>4 </tspan><tspan font-size="7.8">×</tspan><tspan> 10</tspan><tspan dy="-4.30" font-size="5.68">6</tspan></text>
<line x1="561.10" y1="384.50" x2="565.40" y2="384.50" stroke="#a0a0a0" stroke-width="0.8"/>
<text x="557.00" y="387.60" font-size="8.6" text-anchor="end"><tspan>2 </tspan><tspan font-size="7.8">×</tspan><tspan> 10</tspan><tspan dy="-4.30" font-size="5.68">6</tspan></text>
<line x1="561.10" y1="401.50" x2="565.40" y2="401.50" stroke="#a0a0a0" stroke-width="0.8"/>
<text x="557.00" y="404.60" font-size="8.6" text-anchor="end">0</text>
<line x1="578.75" y1="372.60" x2="578.75" y2="394.00" stroke="#555555" stroke-width="0.9"/>
<line x1="575.55" y1="372.60" x2="581.95" y2="372.60" stroke="#555555" stroke-width="0.9"/>
<line x1="575.55" y1="394.00" x2="581.95" y2="394.00" stroke="#555555" stroke-width="0.9"/>
<path d="M573.05,401.50 V383.85 H584.45 V401.50" fill="none" stroke="#111111" stroke-width="1.3"/>
<circle cx="578.75" cy="378.50" r="0.95" fill="#111111"/>
<circle cx="578.75" cy="383.00" r="0.95" fill="#111111"/>
<circle cx="578.75" cy="394.00" r="0.95" fill="#111111"/>
<line x1="578.75" y1="401.50" x2="578.75" y2="405.10" stroke="#999" stroke-width="0.8"/>
<line x1="598.60" y1="366.40" x2="598.60" y2="384.80" stroke="#6cb86c" stroke-width="0.9"/>
<line x1="595.40" y1="366.40" x2="601.80" y2="366.40" stroke="#6cb86c" stroke-width="0.9"/>
<line x1="595.40" y1="384.80" x2="601.80" y2="384.80" stroke="#6cb86c" stroke-width="0.9"/>
<path d="M593.05,401.50 V375.95 H604.15 V401.50" fill="none" stroke="#1f8f1f" stroke-width="1.3"/>
<circle cx="598.60" cy="368.00" r="0.95" fill="#1f8f1f"/>
<circle cx="598.60" cy="373.50" r="0.95" fill="#1f8f1f"/>
<circle cx="598.60" cy="384.50" r="0.95" fill="#1f8f1f"/>
<line x1="598.60" y1="401.50" x2="598.60" y2="405.10" stroke="#999" stroke-width="0.8"/>
<line x1="618.45" y1="331.30" x2="618.45" y2="358.90" stroke="#8888ff" stroke-width="0.9"/>
<line x1="615.25" y1="331.30" x2="621.65" y2="331.30" stroke="#8888ff" stroke-width="0.9"/>
<line x1="615.25" y1="358.90" x2="621.65" y2="358.90" stroke="#8888ff" stroke-width="0.9"/>
<path d="M612.75,401.50 V346.05 H624.15 V401.50" fill="none" stroke="#0000ff" stroke-width="1.3"/>
<circle cx="618.45" cy="329.50" r="0.95" fill="#0000ff"/>
<circle cx="618.45" cy="349.50" r="0.95" fill="#0000ff"/>
<circle cx="618.45" cy="353.00" r="0.95" fill="#0000ff"/>
<line x1="618.45" y1="401.50" x2="618.45" y2="405.10" stroke="#999" stroke-width="0.8"/>
<line x1="638.15" y1="341.60" x2="638.15" y2="371.00" stroke="#ff8888" stroke-width="0.9"/>
<line x1="634.95" y1="341.60" x2="641.35" y2="341.60" stroke="#ff8888" stroke-width="0.9"/>
<line x1="634.95" y1="371.00" x2="641.35" y2="371.00" stroke="#ff8888" stroke-width="0.9"/>
<path d="M632.45,401.50 V357.65 H643.85 V401.50" fill="none" stroke="#ff0000" stroke-width="1.3"/>
<circle cx="638.15" cy="339.40" r="0.95" fill="#ff0000"/>
<circle cx="638.15" cy="365.00" r="0.95" fill="#ff0000"/>
<circle cx="638.15" cy="366.50" r="0.95" fill="#ff0000"/>
<line x1="638.15" y1="401.50" x2="638.15" y2="405.10" stroke="#999" stroke-width="0.8"/>
<line x1="561.10" y1="401.50" x2="651.20" y2="401.50" stroke="#777" stroke-width="0.9"/>
<text x="580.65" y="412.40" font-size="10.6" text-anchor="end" transform="rotate(-45.00 580.65 412.40)"><tspan>Wild type</tspan></text>
<text x="602.60" y="414.90" font-size="10.6" text-anchor="end" transform="rotate(-45.00 602.60 414.90)"><tspan>Kras</tspan><tspan dy="-4.45" font-size="6.36" font-style="italic">G12D/+</tspan></text>
<text x="622.45" y="414.90" font-size="10.6" text-anchor="end" transform="rotate(-45.00 622.45 414.90)"><tspan>Apc</tspan><tspan dy="-4.45" font-size="7.42" font-style="italic" letter-spacing="0.3">fl/fl</tspan></text>
<text x="642.15" y="414.90" font-size="10.6" text-anchor="end" transform="rotate(-45.00 642.15 414.90)"><tspan>Apc</tspan><tspan dy="-4.45" font-size="7.42" font-style="italic" letter-spacing="0.3">fl/fl</tspan><tspan dy="4.45"> Kras</tspan><tspan dy="-4.45" font-size="6.36" font-style="italic">G12D/+</tspan></text>
<text x="524.60" y="358.30" font-size="10" text-anchor="middle" textLength="105.40" lengthAdjust="spacingAndGlyphs" transform="rotate(-90.00 524.60 358.30)">Peak area (normalized)</text>
<text x="608.50" y="305.00" font-size="10" text-anchor="middle" textLength="89.90" lengthAdjust="spacingAndGlyphs">Dihydro-orotic acid</text>
<text x="336.70" y="466.20" font-size="14.5" fill="#000" font-weight="bold">h</text>
<line x1="385.60" y1="481.90" x2="385.60" y2="567.50" stroke="#a8a8a8" stroke-width="0.8"/>
<line x1="381.30" y1="481.90" x2="385.60" y2="481.90" stroke="#a0a0a0" stroke-width="0.8"/>
<text x="377.20" y="485.00" font-size="8.6" text-anchor="end"><tspan>5 </tspan><tspan font-size="7.8">×</tspan><tspan> 10</tspan><tspan dy="-4.30" font-size="5.68">7</tspan></text>
<line x1="381.30" y1="499.10" x2="385.60" y2="499.10" stroke="#a0a0a0" stroke-width="0.8"/>
<text x="377.20" y="502.20" font-size="8.6" text-anchor="end"><tspan>4 </tspan><tspan font-size="7.8">×</tspan><tspan> 10</tspan><tspan dy="-4.30" font-size="5.68">7</tspan></text>
<line x1="381.30" y1="516.20" x2="385.60" y2="516.20" stroke="#a0a0a0" stroke-width="0.8"/>
<text x="377.20" y="519.30" font-size="8.6" text-anchor="end"><tspan>3 </tspan><tspan font-size="7.8">×</tspan><tspan> 10</tspan><tspan dy="-4.30" font-size="5.68">7</tspan></text>
<line x1="381.30" y1="533.20" x2="385.60" y2="533.20" stroke="#a0a0a0" stroke-width="0.8"/>
<text x="377.20" y="536.30" font-size="8.6" text-anchor="end"><tspan>2 </tspan><tspan font-size="7.8">×</tspan><tspan> 10</tspan><tspan dy="-4.30" font-size="5.68">7</tspan></text>
<line x1="381.30" y1="550.50" x2="385.60" y2="550.50" stroke="#a0a0a0" stroke-width="0.8"/>
<text x="377.20" y="553.60" font-size="8.6" text-anchor="end"><tspan>1 </tspan><tspan font-size="7.8">×</tspan><tspan> 10</tspan><tspan dy="-4.30" font-size="5.68">7</tspan></text>
<line x1="381.30" y1="567.50" x2="385.60" y2="567.50" stroke="#a0a0a0" stroke-width="0.8"/>
<text x="377.20" y="570.60" font-size="8.6" text-anchor="end">0</text>
<line x1="399.15" y1="536.40" x2="399.15" y2="554.00" stroke="#555555" stroke-width="0.9"/>
<line x1="395.95" y1="536.40" x2="402.35" y2="536.40" stroke="#555555" stroke-width="0.9"/>
<line x1="395.95" y1="554.00" x2="402.35" y2="554.00" stroke="#555555" stroke-width="0.9"/>
<path d="M393.05,567.50 V545.75 H405.25 V567.50" fill="none" stroke="#111111" stroke-width="1.3"/>
<circle cx="399.15" cy="538.00" r="0.95" fill="#111111"/>
<circle cx="399.15" cy="541.50" r="0.95" fill="#111111"/>
<circle cx="399.15" cy="554.00" r="0.95" fill="#111111"/>
<line x1="399.15" y1="567.50" x2="399.15" y2="571.10" stroke="#999" stroke-width="0.8"/>
<line x1="418.85" y1="516.70" x2="418.85" y2="541.80" stroke="#6cb86c" stroke-width="0.9"/>
<line x1="415.65" y1="516.70" x2="422.05" y2="516.70" stroke="#6cb86c" stroke-width="0.9"/>
<line x1="415.65" y1="541.80" x2="422.05" y2="541.80" stroke="#6cb86c" stroke-width="0.9"/>
<path d="M413.05,567.50 V529.55 H424.65 V567.50" fill="none" stroke="#1f8f1f" stroke-width="1.3"/>
<circle cx="418.85" cy="519.00" r="0.95" fill="#1f8f1f"/>
<circle cx="418.85" cy="526.50" r="0.95" fill="#1f8f1f"/>
<circle cx="418.85" cy="541.00" r="0.95" fill="#1f8f1f"/>
<line x1="418.85" y1="567.50" x2="418.85" y2="571.10" stroke="#999" stroke-width="0.8"/>
<line x1="438.85" y1="499.10" x2="438.85" y2="529.70" stroke="#8888ff" stroke-width="0.9"/>
<line x1="435.65" y1="499.10" x2="442.05" y2="499.10" stroke="#8888ff" stroke-width="0.9"/>
<line x1="435.65" y1="529.70" x2="442.05" y2="529.70" stroke="#8888ff" stroke-width="0.9"/>
<path d="M432.75,567.50 V515.45 H444.95 V567.50" fill="none" stroke="#0000ff" stroke-width="1.3"/>
<circle cx="438.85" cy="497.50" r="0.95" fill="#0000ff"/>
<circle cx="438.85" cy="518.00" r="0.95" fill="#0000ff"/>
<circle cx="438.85" cy="525.50" r="0.95" fill="#0000ff"/>
<line x1="438.85" y1="567.50" x2="438.85" y2="571.10" stroke="#999" stroke-width="0.8"/>
<line x1="458.55" y1="527.00" x2="458.55" y2="534.30" stroke="#ff8888" stroke-width="0.9"/>
<line x1="455.35" y1="527.00" x2="461.75" y2="527.00" stroke="#ff8888" stroke-width="0.9"/>
<line x1="455.35" y1="534.30" x2="461.75" y2="534.30" stroke="#ff8888" stroke-width="0.9"/>
<path d="M452.45,567.50 V531.65 H464.65 V567.50" fill="none" stroke="#ff0000" stroke-width="1.3"/>
<circle cx="458.55" cy="527.50" r="0.95" fill="#ff0000"/>
<circle cx="458.55" cy="531.00" r="0.95" fill="#ff0000"/>
<circle cx="458.55" cy="533.50" r="0.95" fill="#ff0000"/>
<line x1="458.55" y1="567.50" x2="458.55" y2="571.10" stroke="#999" stroke-width="0.8"/>
<line x1="381.30" y1="567.50" x2="472.60" y2="567.50" stroke="#777" stroke-width="0.9"/>
<text x="401.05" y="578.40" font-size="10.6" text-anchor="end" transform="rotate(-45.00 401.05 578.40)"><tspan>Wild type</tspan></text>
<text x="422.85" y="580.90" font-size="10.6" text-anchor="end" transform="rotate(-45.00 422.85 580.90)"><tspan>Kras</tspan><tspan dy="-4.45" font-size="6.36" font-style="italic">G12D/+</tspan></text>
<text x="442.85" y="580.90" font-size="10.6" text-anchor="end" transform="rotate(-45.00 442.85 580.90)"><tspan>Apc</tspan><tspan dy="-4.45" font-size="7.42" font-style="italic" letter-spacing="0.3">fl/fl</tspan></text>
<text x="462.55" y="580.90" font-size="10.6" text-anchor="end" transform="rotate(-45.00 462.55 580.90)"><tspan>Apc</tspan><tspan dy="-4.45" font-size="7.42" font-style="italic" letter-spacing="0.3">fl/fl</tspan><tspan dy="4.45"> Kras</tspan><tspan dy="-4.45" font-size="6.36" font-style="italic">G12D/+</tspan></text>
<text x="344.60" y="524.70" font-size="10" text-anchor="middle" textLength="105.40" lengthAdjust="spacingAndGlyphs" transform="rotate(-90.00 344.60 524.70)">Peak area (normalized)</text>
<text x="429.40" y="483.30" font-size="10" text-anchor="middle" textLength="51.30" lengthAdjust="spacingAndGlyphs">Orotic acid</text>
<text x="516.00" y="466.20" font-size="14.5" fill="#000" font-weight="bold">i</text>
<line x1="564.80" y1="481.90" x2="564.80" y2="567.50" stroke="#a8a8a8" stroke-width="0.8"/>
<line x1="560.50" y1="481.90" x2="564.80" y2="481.90" stroke="#a0a0a0" stroke-width="0.8"/>
<text x="556.40" y="485.00" font-size="8.6" text-anchor="end"><tspan>3 </tspan><tspan font-size="7.8">×</tspan><tspan> 10</tspan><tspan dy="-4.30" font-size="5.68">8</tspan></text>
<line x1="560.50" y1="510.50" x2="564.80" y2="510.50" stroke="#a0a0a0" stroke-width="0.8"/>
<text x="556.40" y="513.60" font-size="8.6" text-anchor="end"><tspan>2 </tspan><tspan font-size="7.8">×</tspan><tspan> 10</tspan><tspan dy="-4.30" font-size="5.68">8</tspan></text>
<line x1="560.50" y1="539.10" x2="564.80" y2="539.10" stroke="#a0a0a0" stroke-width="0.8"/>
<text x="556.40" y="542.20" font-size="8.6" text-anchor="end"><tspan>1 </tspan><tspan font-size="7.8">×</tspan><tspan> 10</tspan><tspan dy="-4.30" font-size="5.68">8</tspan></text>
<line x1="560.50" y1="567.50" x2="564.80" y2="567.50" stroke="#a0a0a0" stroke-width="0.8"/>
<text x="556.40" y="570.60" font-size="8.6" text-anchor="end">0</text>
<line x1="578.75" y1="529.10" x2="578.75" y2="542.40" stroke="#555555" stroke-width="0.9"/>
<line x1="575.55" y1="529.10" x2="581.95" y2="529.10" stroke="#555555" stroke-width="0.9"/>
<line x1="575.55" y1="542.40" x2="581.95" y2="542.40" stroke="#555555" stroke-width="0.9"/>
<path d="M573.05,567.50 V537.05 H584.45 V567.50" fill="none" stroke="#111111" stroke-width="1.3"/>
<circle cx="578.75" cy="530.00" r="0.95" fill="#111111"/>
<circle cx="578.75" cy="536.00" r="0.95" fill="#111111"/>
<circle cx="578.75" cy="542.00" r="0.95" fill="#111111"/>
<line x1="578.75" y1="567.50" x2="578.75" y2="571.10" stroke="#999" stroke-width="0.8"/>
<line x1="598.30" y1="523.50" x2="598.30" y2="534.50" stroke="#6cb86c" stroke-width="0.9"/>
<line x1="595.10" y1="523.50" x2="601.50" y2="523.50" stroke="#6cb86c" stroke-width="0.9"/>
<line x1="595.10" y1="534.50" x2="601.50" y2="534.50" stroke="#6cb86c" stroke-width="0.9"/>
<path d="M592.45,567.50 V529.75 H604.15 V567.50" fill="none" stroke="#1f8f1f" stroke-width="1.3"/>
<circle cx="598.30" cy="524.00" r="0.95" fill="#1f8f1f"/>
<circle cx="598.30" cy="529.00" r="0.95" fill="#1f8f1f"/>
<circle cx="598.30" cy="534.00" r="0.95" fill="#1f8f1f"/>
<line x1="598.30" y1="567.50" x2="598.30" y2="571.10" stroke="#999" stroke-width="0.8"/>
<line x1="618.15" y1="518.00" x2="618.15" y2="527.50" stroke="#8888ff" stroke-width="0.9"/>
<line x1="614.95" y1="518.00" x2="621.35" y2="518.00" stroke="#8888ff" stroke-width="0.9"/>
<line x1="614.95" y1="527.50" x2="621.35" y2="527.50" stroke="#8888ff" stroke-width="0.9"/>
<path d="M612.15,567.50 V523.55 H624.15 V567.50" fill="none" stroke="#0000ff" stroke-width="1.3"/>
<circle cx="618.15" cy="518.50" r="0.95" fill="#0000ff"/>
<circle cx="618.15" cy="523.00" r="0.95" fill="#0000ff"/>
<circle cx="618.15" cy="527.00" r="0.95" fill="#0000ff"/>
<line x1="618.15" y1="567.50" x2="618.15" y2="571.10" stroke="#999" stroke-width="0.8"/>
<line x1="638.00" y1="494.60" x2="638.00" y2="512.70" stroke="#ff8888" stroke-width="0.9"/>
<line x1="634.80" y1="494.60" x2="641.20" y2="494.60" stroke="#ff8888" stroke-width="0.9"/>
<line x1="634.80" y1="512.70" x2="641.20" y2="512.70" stroke="#ff8888" stroke-width="0.9"/>
<path d="M632.15,567.50 V504.65 H643.85 V567.50" fill="none" stroke="#ff0000" stroke-width="1.3"/>
<circle cx="638.00" cy="494.60" r="0.95" fill="#ff0000"/>
<circle cx="638.00" cy="504.00" r="0.95" fill="#ff0000"/>
<circle cx="638.00" cy="512.00" r="0.95" fill="#ff0000"/>
<line x1="638.00" y1="567.50" x2="638.00" y2="571.10" stroke="#999" stroke-width="0.8"/>
<line x1="560.50" y1="567.50" x2="651.20" y2="567.50" stroke="#777" stroke-width="0.9"/>
<text x="580.65" y="578.40" font-size="10.6" text-anchor="end" transform="rotate(-45.00 580.65 578.40)"><tspan>Wild type</tspan></text>
<text x="602.30" y="580.90" font-size="10.6" text-anchor="end" transform="rotate(-45.00 602.30 580.90)"><tspan>Kras</tspan><tspan dy="-4.45" font-size="6.36" font-style="italic">G12D/+</tspan></text>
<text x="622.15" y="580.90" font-size="10.6" text-anchor="end" transform="rotate(-45.00 622.15 580.90)"><tspan>Apc</tspan><tspan dy="-4.45" font-size="7.42" font-style="italic" letter-spacing="0.3">fl/fl</tspan></text>
<text x="642.00" y="580.90" font-size="10.6" text-anchor="end" transform="rotate(-45.00 642.00 580.90)"><tspan>Apc</tspan><tspan dy="-4.45" font-size="7.42" font-style="italic" letter-spacing="0.3">fl/fl</tspan><tspan dy="4.45"> Kras</tspan><tspan dy="-4.45" font-size="6.36" font-style="italic">G12D/+</tspan></text>
<text x="524.60" y="524.70" font-size="10" text-anchor="middle" textLength="105.40" lengthAdjust="spacingAndGlyphs" transform="rotate(-90.00 524.60 524.70)">Peak area (normalized)</text>
<text x="608.70" y="483.50" font-size="10" text-anchor="middle" textLength="20.20" lengthAdjust="spacingAndGlyphs">UMP</text>
<text x="329.30" y="642.60" font-size="14.5" fill="#000" font-weight="bold">j</text>
<line x1="386.20" y1="660.00" x2="386.20" y2="746.40" stroke="#a8a8a8" stroke-width="0.8"/>
<line x1="381.90" y1="660.00" x2="386.20" y2="660.00" stroke="#a0a0a0" stroke-width="0.8"/>
<text x="377.80" y="663.10" font-size="8.6" text-anchor="end"><tspan>2.5 </tspan><tspan font-size="7.8">×</tspan><tspan> 10</tspan><tspan dy="-4.30" font-size="5.68">8</tspan></text>
<line x1="381.90" y1="677.50" x2="386.20" y2="677.50" stroke="#a0a0a0" stroke-width="0.8"/>
<text x="377.80" y="680.60" font-size="8.6" text-anchor="end"><tspan>2 </tspan><tspan font-size="7.8">×</tspan><tspan> 10</tspan><tspan dy="-4.30" font-size="5.68">8</tspan></text>
<line x1="381.90" y1="694.50" x2="386.20" y2="694.50" stroke="#a0a0a0" stroke-width="0.8"/>
<text x="377.80" y="697.60" font-size="8.6" text-anchor="end"><tspan>1.5 </tspan><tspan font-size="7.8">×</tspan><tspan> 10</tspan><tspan dy="-4.30" font-size="5.68">8</tspan></text>
<line x1="381.90" y1="711.80" x2="386.20" y2="711.80" stroke="#a0a0a0" stroke-width="0.8"/>
<text x="377.80" y="714.90" font-size="8.6" text-anchor="end"><tspan>1 </tspan><tspan font-size="7.8">×</tspan><tspan> 10</tspan><tspan dy="-4.30" font-size="5.68">8</tspan></text>
<line x1="381.90" y1="729.10" x2="386.20" y2="729.10" stroke="#a0a0a0" stroke-width="0.8"/>
<text x="377.80" y="732.20" font-size="8.6" text-anchor="end"><tspan>5 </tspan><tspan font-size="7.8">×</tspan><tspan> 10</tspan><tspan dy="-4.30" font-size="5.68">7</tspan></text>
<line x1="381.90" y1="746.40" x2="386.20" y2="746.40" stroke="#a0a0a0" stroke-width="0.8"/>
<text x="377.80" y="749.50" font-size="8.6" text-anchor="end">0</text>
<line x1="399.15" y1="709.90" x2="399.15" y2="712.60" stroke="#555555" stroke-width="0.9"/>
<line x1="395.95" y1="709.90" x2="402.35" y2="709.90" stroke="#555555" stroke-width="0.9"/>
<line x1="395.95" y1="712.60" x2="402.35" y2="712.60" stroke="#555555" stroke-width="0.9"/>
<path d="M393.05,746.40 V712.15 H405.25 V746.40" fill="none" stroke="#111111" stroke-width="1.3"/>
<circle cx="399.15" cy="710.50" r="0.95" fill="#111111"/>
<circle cx="399.15" cy="711.50" r="0.95" fill="#111111"/>
<circle cx="399.15" cy="712.30" r="0.95" fill="#111111"/>
<line x1="399.15" y1="746.40" x2="399.15" y2="750.00" stroke="#999" stroke-width="0.8"/>
<line x1="418.85" y1="689.70" x2="418.85" y2="722.00" stroke="#6cb86c" stroke-width="0.9"/>
<line x1="415.65" y1="689.70" x2="422.05" y2="689.70" stroke="#6cb86c" stroke-width="0.9"/>
<line x1="415.65" y1="722.00" x2="422.05" y2="722.00" stroke="#6cb86c" stroke-width="0.9"/>
<path d="M413.05,746.40 V707.35 H424.65 V746.40" fill="none" stroke="#1f8f1f" stroke-width="1.3"/>
<circle cx="418.85" cy="689.70" r="0.95" fill="#1f8f1f"/>
<circle cx="418.85" cy="712.00" r="0.95" fill="#1f8f1f"/>
<circle cx="418.85" cy="718.50" r="0.95" fill="#1f8f1f"/>
<line x1="418.85" y1="746.40" x2="418.85" y2="750.00" stroke="#999" stroke-width="0.8"/>
<line x1="438.85" y1="673.50" x2="438.85" y2="696.40" stroke="#8888ff" stroke-width="0.9"/>
<line x1="435.65" y1="673.50" x2="442.05" y2="673.50" stroke="#8888ff" stroke-width="0.9"/>
<line x1="435.65" y1="696.40" x2="442.05" y2="696.40" stroke="#8888ff" stroke-width="0.9"/>
<path d="M432.75,746.40 V686.25 H444.95 V746.40" fill="none" stroke="#0000ff" stroke-width="1.3"/>
<circle cx="438.85" cy="672.00" r="0.95" fill="#0000ff"/>
<circle cx="438.85" cy="689.00" r="0.95" fill="#0000ff"/>
<circle cx="438.85" cy="690.00" r="0.95" fill="#0000ff"/>
<line x1="438.85" y1="746.40" x2="438.85" y2="750.00" stroke="#999" stroke-width="0.8"/>
<line x1="458.55" y1="686.40" x2="458.55" y2="689.10" stroke="#ff8888" stroke-width="0.9"/>
<line x1="455.35" y1="686.40" x2="461.75" y2="686.40" stroke="#ff8888" stroke-width="0.9"/>
<line x1="455.35" y1="689.10" x2="461.75" y2="689.10" stroke="#ff8888" stroke-width="0.9"/>
<path d="M452.45,746.40 V689.25 H464.65 V746.40" fill="none" stroke="#ff0000" stroke-width="1.3"/>
<circle cx="458.55" cy="687.00" r="0.95" fill="#ff0000"/>
<circle cx="458.55" cy="688.50" r="0.95" fill="#ff0000"/>
<circle cx="458.55" cy="689.00" r="0.95" fill="#ff0000"/>
<line x1="458.55" y1="746.40" x2="458.55" y2="750.00" stroke="#999" stroke-width="0.8"/>
<line x1="381.90" y1="746.40" x2="472.60" y2="746.40" stroke="#777" stroke-width="0.9"/>
<text x="401.05" y="757.30" font-size="10.6" text-anchor="end" transform="rotate(-45.00 401.05 757.30)"><tspan>Wild type</tspan></text>
<text x="422.85" y="759.80" font-size="10.6" text-anchor="end" transform="rotate(-45.00 422.85 759.80)"><tspan>Kras</tspan><tspan dy="-4.45" font-size="6.36" font-style="italic">G12D/+</tspan></text>
<text x="442.85" y="759.80" font-size="10.6" text-anchor="end" transform="rotate(-45.00 442.85 759.80)"><tspan>Apc</tspan><tspan dy="-4.45" font-size="7.42" font-style="italic" letter-spacing="0.3">fl/fl</tspan></text>
<text x="462.55" y="759.80" font-size="10.6" text-anchor="end" transform="rotate(-45.00 462.55 759.80)"><tspan>Apc</tspan><tspan dy="-4.45" font-size="7.42" font-style="italic" letter-spacing="0.3">fl/fl</tspan><tspan dy="4.45"> Kras</tspan><tspan dy="-4.45" font-size="6.36" font-style="italic">G12D/+</tspan></text>
<text x="337.70" y="703.20" font-size="10" text-anchor="middle" textLength="105.40" lengthAdjust="spacingAndGlyphs" transform="rotate(-90.00 337.70 703.20)">Peak area (normalized)</text>
<text x="429.10" y="650.30" font-size="10" text-anchor="middle" textLength="33.00" lengthAdjust="spacingAndGlyphs">Uridine</text>
<text x="512.00" y="643.80" font-size="14.5" fill="#000" font-weight="bold">k</text>
<line x1="564.80" y1="660.00" x2="564.80" y2="746.40" stroke="#a8a8a8" stroke-width="0.8"/>
<line x1="560.50" y1="660.00" x2="564.80" y2="660.00" stroke="#a0a0a0" stroke-width="0.8"/>
<text x="556.40" y="663.10" font-size="8.6" text-anchor="end"><tspan>1.5 </tspan><tspan font-size="7.8">×</tspan><tspan> 10</tspan><tspan dy="-4.30" font-size="5.68">7</tspan></text>
<line x1="560.50" y1="689.10" x2="564.80" y2="689.10" stroke="#a0a0a0" stroke-width="0.8"/>
<text x="556.40" y="692.20" font-size="8.6" text-anchor="end"><tspan>1 </tspan><tspan font-size="7.8">×</tspan><tspan> 10</tspan><tspan dy="-4.30" font-size="5.68">7</tspan></text>
<line x1="560.50" y1="717.50" x2="564.80" y2="717.50" stroke="#a0a0a0" stroke-width="0.8"/>
<text x="556.40" y="720.60" font-size="8.6" text-anchor="end"><tspan>5 </tspan><tspan font-size="7.8">×</tspan><tspan> 10</tspan><tspan dy="-4.30" font-size="5.68">6</tspan></text>
<line x1="560.50" y1="746.40" x2="564.80" y2="746.40" stroke="#a0a0a0" stroke-width="0.8"/>
<text x="556.40" y="749.50" font-size="8.6" text-anchor="end">0</text>
<line x1="578.75" y1="736.40" x2="578.75" y2="739.10" stroke="#555555" stroke-width="0.9"/>
<line x1="575.55" y1="736.40" x2="581.95" y2="736.40" stroke="#555555" stroke-width="0.9"/>
<line x1="575.55" y1="739.10" x2="581.95" y2="739.10" stroke="#555555" stroke-width="0.9"/>
<path d="M573.05,746.40 V739.15 H584.45 V746.40" fill="none" stroke="#111111" stroke-width="1.3"/>
<circle cx="578.75" cy="737.00" r="0.95" fill="#111111"/>
<circle cx="578.75" cy="738.50" r="0.95" fill="#111111"/>
<circle cx="578.75" cy="739.00" r="0.95" fill="#111111"/>
<line x1="578.75" y1="746.40" x2="578.75" y2="750.00" stroke="#999" stroke-width="0.8"/>
<line x1="598.30" y1="726.10" x2="598.30" y2="743.70" stroke="#6cb86c" stroke-width="0.9"/>
<line x1="595.10" y1="726.10" x2="601.50" y2="726.10" stroke="#6cb86c" stroke-width="0.9"/>
<line x1="595.10" y1="743.70" x2="601.50" y2="743.70" stroke="#6cb86c" stroke-width="0.9"/>
<path d="M592.45,746.40 V735.45 H604.15 V746.40" fill="none" stroke="#1f8f1f" stroke-width="1.3"/>
<circle cx="598.30" cy="726.50" r="0.95" fill="#1f8f1f"/>
<circle cx="598.30" cy="735.00" r="0.95" fill="#1f8f1f"/>
<circle cx="598.30" cy="743.50" r="0.95" fill="#1f8f1f"/>
<line x1="598.30" y1="746.40" x2="598.30" y2="750.00" stroke="#999" stroke-width="0.8"/>
<line x1="618.15" y1="715.30" x2="618.15" y2="723.40" stroke="#8888ff" stroke-width="0.9"/>
<line x1="614.95" y1="715.30" x2="621.35" y2="715.30" stroke="#8888ff" stroke-width="0.9"/>
<line x1="614.95" y1="723.40" x2="621.35" y2="723.40" stroke="#8888ff" stroke-width="0.9"/>
<path d="M612.15,746.40 V720.85 H624.15 V746.40" fill="none" stroke="#0000ff" stroke-width="1.3"/>
<circle cx="618.15" cy="715.00" r="0.95" fill="#0000ff"/>
<circle cx="618.15" cy="722.00" r="0.95" fill="#0000ff"/>
<circle cx="618.15" cy="722.50" r="0.95" fill="#0000ff"/>
<line x1="618.15" y1="746.40" x2="618.15" y2="750.00" stroke="#999" stroke-width="0.8"/>
<line x1="638.00" y1="674.80" x2="638.00" y2="714.00" stroke="#ff8888" stroke-width="0.9"/>
<line x1="634.80" y1="674.80" x2="641.20" y2="674.80" stroke="#ff8888" stroke-width="0.9"/>
<line x1="634.80" y1="714.00" x2="641.20" y2="714.00" stroke="#ff8888" stroke-width="0.9"/>
<path d="M632.15,746.40 V695.15 H643.85 V746.40" fill="none" stroke="#ff0000" stroke-width="1.3"/>
<circle cx="638.00" cy="677.00" r="0.95" fill="#ff0000"/>
<circle cx="638.00" cy="690.00" r="0.95" fill="#ff0000"/>
<circle cx="638.00" cy="713.50" r="0.95" fill="#ff0000"/>
<line x1="638.00" y1="746.40" x2="638.00" y2="750.00" stroke="#999" stroke-width="0.8"/>
<line x1="560.50" y1="746.40" x2="651.20" y2="746.40" stroke="#777" stroke-width="0.9"/>
<text x="580.65" y="757.30" font-size="10.6" text-anchor="end" transform="rotate(-45.00 580.65 757.30)"><tspan>Wild type</tspan></text>
<text x="602.30" y="759.80" font-size="10.6" text-anchor="end" transform="rotate(-45.00 602.30 759.80)"><tspan>Kras</tspan><tspan dy="-4.45" font-size="6.36" font-style="italic">G12D/+</tspan></text>
<text x="622.15" y="759.80" font-size="10.6" text-anchor="end" transform="rotate(-45.00 622.15 759.80)"><tspan>Apc</tspan><tspan dy="-4.45" font-size="7.42" font-style="italic" letter-spacing="0.3">fl/fl</tspan></text>
<text x="642.00" y="759.80" font-size="10.6" text-anchor="end" transform="rotate(-45.00 642.00 759.80)"><tspan>Apc</tspan><tspan dy="-4.45" font-size="7.42" font-style="italic" letter-spacing="0.3">fl/fl</tspan><tspan dy="4.45"> Kras</tspan><tspan dy="-4.45" font-size="6.36" font-style="italic">G12D/+</tspan></text>
<text x="520.50" y="703.20" font-size="10" text-anchor="middle" textLength="105.40" lengthAdjust="spacingAndGlyphs" transform="rotate(-90.00 520.50 703.20)">Peak area (normalized)</text>
<text x="608.80" y="649.60" font-size="10" text-anchor="middle" textLength="48.60" lengthAdjust="spacingAndGlyphs">Thymidine</text>
<text x="0.60" y="828.40" font-size="14.5" fill="#000" font-weight="bold">l</text>
<line x1="52.70" y1="852.50" x2="52.70" y2="938.30" stroke="#a8a8a8" stroke-width="0.8"/>
<line x1="48.40" y1="852.50" x2="52.70" y2="852.50" stroke="#a0a0a0" stroke-width="0.8"/>
<text x="44.30" y="855.60" font-size="8.6" text-anchor="end"><tspan>1.2 </tspan><tspan font-size="7.8">×</tspan><tspan> 10</tspan><tspan dy="-4.30" font-size="5.68">7</tspan></text>
<line x1="48.40" y1="866.80" x2="52.70" y2="866.80" stroke="#a0a0a0" stroke-width="0.8"/>
<text x="44.30" y="869.90" font-size="8.6" text-anchor="end"><tspan>1 </tspan><tspan font-size="7.8">×</tspan><tspan> 10</tspan><tspan dy="-4.30" font-size="5.68">7</tspan></text>
<line x1="48.40" y1="881.10" x2="52.70" y2="881.10" stroke="#a0a0a0" stroke-width="0.8"/>
<text x="44.30" y="884.20" font-size="8.6" text-anchor="end"><tspan>8 </tspan><tspan font-size="7.8">×</tspan><tspan> 10</tspan><tspan dy="-4.30" font-size="5.68">6</tspan></text>
<line x1="48.40" y1="895.40" x2="52.70" y2="895.40" stroke="#a0a0a0" stroke-width="0.8"/>
<text x="44.30" y="898.50" font-size="8.6" text-anchor="end"><tspan>6 </tspan><tspan font-size="7.8">×</tspan><tspan> 10</tspan><tspan dy="-4.30" font-size="5.68">6</tspan></text>
<line x1="48.40" y1="909.70" x2="52.70" y2="909.70" stroke="#a0a0a0" stroke-width="0.8"/>
<text x="44.30" y="912.80" font-size="8.6" text-anchor="end"><tspan>4 </tspan><tspan font-size="7.8">×</tspan><tspan> 10</tspan><tspan dy="-4.30" font-size="5.68">6</tspan></text>
<line x1="48.40" y1="924.00" x2="52.70" y2="924.00" stroke="#a0a0a0" stroke-width="0.8"/>
<text x="44.30" y="927.10" font-size="8.6" text-anchor="end"><tspan>2 </tspan><tspan font-size="7.8">×</tspan><tspan> 10</tspan><tspan dy="-4.30" font-size="5.68">6</tspan></text>
<line x1="48.40" y1="938.30" x2="52.70" y2="938.30" stroke="#a0a0a0" stroke-width="0.8"/>
<text x="44.30" y="941.40" font-size="8.6" text-anchor="end">0</text>
<line x1="65.40" y1="918.30" x2="65.40" y2="922.40" stroke="#555555" stroke-width="0.9"/>
<line x1="62.20" y1="918.30" x2="68.60" y2="918.30" stroke="#555555" stroke-width="0.9"/>
<line x1="62.20" y1="922.40" x2="68.60" y2="922.40" stroke="#555555" stroke-width="0.9"/>
<path d="M59.95,938.30 V921.05 H70.85 V938.30" fill="none" stroke="#111111" stroke-width="1.3"/>
<circle cx="65.40" cy="919.50" r="0.95" fill="#111111"/>
<circle cx="65.40" cy="921.00" r="0.95" fill="#111111"/>
<circle cx="65.40" cy="922.00" r="0.95" fill="#111111"/>
<line x1="65.40" y1="938.30" x2="65.40" y2="941.90" stroke="#999" stroke-width="0.8"/>
<line x1="85.05" y1="913.80" x2="85.05" y2="916.30" stroke="#6cb86c" stroke-width="0.9"/>
<line x1="81.85" y1="913.80" x2="88.25" y2="913.80" stroke="#6cb86c" stroke-width="0.9"/>
<line x1="81.85" y1="916.30" x2="88.25" y2="916.30" stroke="#6cb86c" stroke-width="0.9"/>
<path d="M79.35,938.30 V915.95 H90.75 V938.30" fill="none" stroke="#1f8f1f" stroke-width="1.3"/>
<circle cx="85.05" cy="914.50" r="0.95" fill="#1f8f1f"/>
<circle cx="85.05" cy="915.50" r="0.95" fill="#1f8f1f"/>
<circle cx="85.05" cy="916.00" r="0.95" fill="#1f8f1f"/>
<line x1="85.05" y1="938.30" x2="85.05" y2="941.90" stroke="#999" stroke-width="0.8"/>
<line x1="105.05" y1="883.20" x2="105.05" y2="893.40" stroke="#8888ff" stroke-width="0.9"/>
<line x1="101.85" y1="883.20" x2="108.25" y2="883.20" stroke="#8888ff" stroke-width="0.9"/>
<line x1="101.85" y1="893.40" x2="108.25" y2="893.40" stroke="#8888ff" stroke-width="0.9"/>
<path d="M99.35,938.30 V888.95 H110.75 V938.30" fill="none" stroke="#0000ff" stroke-width="1.3"/>
<circle cx="105.05" cy="884.00" r="0.95" fill="#0000ff"/>
<circle cx="105.05" cy="888.50" r="0.95" fill="#0000ff"/>
<circle cx="105.05" cy="893.00" r="0.95" fill="#0000ff"/>
<line x1="105.05" y1="938.30" x2="105.05" y2="941.90" stroke="#999" stroke-width="0.8"/>
<line x1="124.45" y1="858.60" x2="124.45" y2="875.00" stroke="#ff8888" stroke-width="0.9"/>
<line x1="121.25" y1="858.60" x2="127.65" y2="858.60" stroke="#ff8888" stroke-width="0.9"/>
<line x1="121.25" y1="875.00" x2="127.65" y2="875.00" stroke="#ff8888" stroke-width="0.9"/>
<path d="M118.75,938.30 V868.25 H130.15 V938.30" fill="none" stroke="#ff0000" stroke-width="1.3"/>
<circle cx="124.45" cy="858.00" r="0.95" fill="#ff0000"/>
<circle cx="124.45" cy="870.00" r="0.95" fill="#ff0000"/>
<circle cx="124.45" cy="872.00" r="0.95" fill="#ff0000"/>
<line x1="124.45" y1="938.30" x2="124.45" y2="941.90" stroke="#999" stroke-width="0.8"/>
<line x1="48.40" y1="938.30" x2="136.50" y2="938.30" stroke="#777" stroke-width="0.9"/>
<text x="67.30" y="949.20" font-size="10.6" text-anchor="end" transform="rotate(-45.00 67.30 949.20)"><tspan>Wild type</tspan></text>
<text x="89.05" y="951.70" font-size="10.6" text-anchor="end" transform="rotate(-45.00 89.05 951.70)"><tspan>Kras</tspan><tspan dy="-4.45" font-size="6.36" font-style="italic">G12D/+</tspan></text>
<text x="109.05" y="951.70" font-size="10.6" text-anchor="end" transform="rotate(-45.00 109.05 951.70)"><tspan>Apc</tspan><tspan dy="-4.45" font-size="7.42" font-style="italic" letter-spacing="0.3">fl/fl</tspan></text>
<text x="128.45" y="951.70" font-size="10.6" text-anchor="end" transform="rotate(-45.00 128.45 951.70)"><tspan>Apc</tspan><tspan dy="-4.45" font-size="7.42" font-style="italic" letter-spacing="0.3">fl/fl</tspan><tspan dy="4.45"> Kras</tspan><tspan dy="-4.45" font-size="6.36" font-style="italic">G12D/+</tspan></text>
<text x="8.10" y="895.40" font-size="10" text-anchor="middle" textLength="105.40" lengthAdjust="spacingAndGlyphs" transform="rotate(-90.00 8.10 895.40)">Peak area (normalized)</text>
<text x="94.50" y="843.70" font-size="10" text-anchor="middle" textLength="25.60" lengthAdjust="spacingAndGlyphs">dTMP</text>
<text x="141.80" y="828.40" font-size="14.5" fill="#000" font-weight="bold">m</text>
<line x1="191.20" y1="852.50" x2="191.20" y2="938.30" stroke="#a8a8a8" stroke-width="0.8"/>
<line x1="186.90" y1="852.50" x2="191.20" y2="852.50" stroke="#a0a0a0" stroke-width="0.8"/>
<line x1="186.90" y1="881.10" x2="191.20" y2="881.10" stroke="#a0a0a0" stroke-width="0.8"/>
<line x1="186.90" y1="909.70" x2="191.20" y2="909.70" stroke="#a0a0a0" stroke-width="0.8"/>
<line x1="186.90" y1="938.30" x2="191.20" y2="938.30" stroke="#a0a0a0" stroke-width="0.8"/>
<line x1="204.70" y1="893.80" x2="204.70" y2="903.60" stroke="#555555" stroke-width="0.9"/>
<line x1="201.50" y1="893.80" x2="207.90" y2="893.80" stroke="#555555" stroke-width="0.9"/>
<line x1="201.50" y1="903.60" x2="207.90" y2="903.60" stroke="#555555" stroke-width="0.9"/>
<path d="M199.05,938.30 V899.95 H210.35 V938.30" fill="none" stroke="#111111" stroke-width="1.3"/>
<circle cx="204.70" cy="894.50" r="0.95" fill="#111111"/>
<circle cx="204.70" cy="899.50" r="0.95" fill="#111111"/>
<circle cx="204.70" cy="903.00" r="0.95" fill="#111111"/>
<line x1="204.70" y1="938.30" x2="204.70" y2="941.90" stroke="#999" stroke-width="0.8"/>
<line x1="224.20" y1="885.20" x2="224.20" y2="892.20" stroke="#6cb86c" stroke-width="0.9"/>
<line x1="221.00" y1="885.20" x2="227.40" y2="885.20" stroke="#6cb86c" stroke-width="0.9"/>
<line x1="221.00" y1="892.20" x2="227.40" y2="892.20" stroke="#6cb86c" stroke-width="0.9"/>
<path d="M218.45,938.30 V889.75 H229.95 V938.30" fill="none" stroke="#1f8f1f" stroke-width="1.3"/>
<circle cx="224.20" cy="885.50" r="0.95" fill="#1f8f1f"/>
<circle cx="224.20" cy="889.00" r="0.95" fill="#1f8f1f"/>
<circle cx="224.20" cy="892.00" r="0.95" fill="#1f8f1f"/>
<line x1="224.20" y1="938.30" x2="224.20" y2="941.90" stroke="#999" stroke-width="0.8"/>
<line x1="244.05" y1="862.10" x2="244.05" y2="874.40" stroke="#8888ff" stroke-width="0.9"/>
<line x1="240.85" y1="862.10" x2="247.25" y2="862.10" stroke="#8888ff" stroke-width="0.9"/>
<line x1="240.85" y1="874.40" x2="247.25" y2="874.40" stroke="#8888ff" stroke-width="0.9"/>
<path d="M238.25,938.30 V869.15 H249.85 V938.30" fill="none" stroke="#0000ff" stroke-width="1.3"/>
<circle cx="244.05" cy="862.00" r="0.95" fill="#0000ff"/>
<circle cx="244.05" cy="870.00" r="0.95" fill="#0000ff"/>
<circle cx="244.05" cy="871.00" r="0.95" fill="#0000ff"/>
<line x1="244.05" y1="938.30" x2="244.05" y2="941.90" stroke="#999" stroke-width="0.8"/>
<line x1="263.75" y1="855.40" x2="263.75" y2="870.30" stroke="#ff8888" stroke-width="0.9"/>
<line x1="260.55" y1="855.40" x2="266.95" y2="855.40" stroke="#ff8888" stroke-width="0.9"/>
<line x1="260.55" y1="870.30" x2="266.95" y2="870.30" stroke="#ff8888" stroke-width="0.9"/>
<path d="M257.85,938.30 V862.95 H269.65 V938.30" fill="none" stroke="#ff0000" stroke-width="1.3"/>
<circle cx="263.75" cy="855.00" r="0.95" fill="#ff0000"/>
<circle cx="263.75" cy="862.00" r="0.95" fill="#ff0000"/>
<circle cx="263.75" cy="870.00" r="0.95" fill="#ff0000"/>
<line x1="263.75" y1="938.30" x2="263.75" y2="941.90" stroke="#999" stroke-width="0.8"/>
<line x1="186.90" y1="938.30" x2="275.00" y2="938.30" stroke="#777" stroke-width="0.9"/>
<text x="206.60" y="949.20" font-size="10.6" text-anchor="end" transform="rotate(-45.00 206.60 949.20)"><tspan>Wild type</tspan></text>
<text x="228.20" y="951.70" font-size="10.6" text-anchor="end" transform="rotate(-45.00 228.20 951.70)"><tspan>Kras</tspan><tspan dy="-4.45" font-size="6.36" font-style="italic">G12D/+</tspan></text>
<text x="248.05" y="951.70" font-size="10.6" text-anchor="end" transform="rotate(-45.00 248.05 951.70)"><tspan>Apc</tspan><tspan dy="-4.45" font-size="7.42" font-style="italic" letter-spacing="0.3">fl/fl</tspan></text>
<text x="267.75" y="951.70" font-size="10.6" text-anchor="end" transform="rotate(-45.00 267.75 951.70)"><tspan>Apc</tspan><tspan dy="-4.45" font-size="7.42" font-style="italic" letter-spacing="0.3">fl/fl</tspan><tspan dy="4.45"> Kras</tspan><tspan dy="-4.45" font-size="6.36" font-style="italic">G12D/+</tspan></text>
<text x="153.30" y="895.40" font-size="10" text-anchor="middle" textLength="105.40" lengthAdjust="spacingAndGlyphs" transform="rotate(-90.00 153.30 895.40)">Peak area (normalized)</text>
<text x="182.80" y="856.00" font-size="8.6" text-anchor="end"><tspan>6 </tspan><tspan font-size="7.8">×</tspan><tspan> 10</tspan><tspan dy="-4.30" font-size="5.68">7</tspan></text>
<text x="182.80" y="890.40" font-size="8.6" text-anchor="end"><tspan>4 </tspan><tspan font-size="7.8">×</tspan><tspan> 10</tspan><tspan dy="-4.30" font-size="5.68">7</tspan></text>
<text x="182.80" y="925.50" font-size="8.6" text-anchor="end"><tspan>2 </tspan><tspan font-size="7.8">×</tspan><tspan> 10</tspan><tspan dy="-4.30" font-size="5.68">7</tspan></text>
<text x="182.80" y="941.40" font-size="8.6" text-anchor="end">0</text>
<text x="233.80" y="832.50" font-size="10" text-anchor="middle" textLength="52.10" lengthAdjust="spacingAndGlyphs"><tspan font-style="italic">S</tspan><tspan>-adenosyl</tspan></text>
<text x="233.80" y="843.70" font-size="10" text-anchor="middle" textLength="52.40" lengthAdjust="spacingAndGlyphs">methionine</text>
<text x="284.00" y="828.40" font-size="14.5" fill="#000" font-weight="bold">n</text>
<line x1="333.40" y1="852.50" x2="333.40" y2="938.30" stroke="#a8a8a8" stroke-width="0.8"/>
<line x1="329.10" y1="852.50" x2="333.40" y2="852.50" stroke="#a0a0a0" stroke-width="0.8"/>
<text x="325.00" y="855.60" font-size="8.6" text-anchor="end"><tspan>5 </tspan><tspan font-size="7.8">×</tspan><tspan> 10</tspan><tspan dy="-4.30" font-size="5.68">7</tspan></text>
<line x1="329.10" y1="869.70" x2="333.40" y2="869.70" stroke="#a0a0a0" stroke-width="0.8"/>
<text x="325.00" y="872.80" font-size="8.6" text-anchor="end"><tspan>4 </tspan><tspan font-size="7.8">×</tspan><tspan> 10</tspan><tspan dy="-4.30" font-size="5.68">7</tspan></text>
<line x1="329.10" y1="886.80" x2="333.40" y2="886.80" stroke="#a0a0a0" stroke-width="0.8"/>
<text x="325.00" y="889.90" font-size="8.6" text-anchor="end"><tspan>3 </tspan><tspan font-size="7.8">×</tspan><tspan> 10</tspan><tspan dy="-4.30" font-size="5.68">7</tspan></text>
<line x1="329.10" y1="904.00" x2="333.40" y2="904.00" stroke="#a0a0a0" stroke-width="0.8"/>
<text x="325.00" y="907.10" font-size="8.6" text-anchor="end"><tspan>2 </tspan><tspan font-size="7.8">×</tspan><tspan> 10</tspan><tspan dy="-4.30" font-size="5.68">7</tspan></text>
<line x1="329.10" y1="921.20" x2="333.40" y2="921.20" stroke="#a0a0a0" stroke-width="0.8"/>
<text x="325.00" y="924.30" font-size="8.6" text-anchor="end"><tspan>1 </tspan><tspan font-size="7.8">×</tspan><tspan> 10</tspan><tspan dy="-4.30" font-size="5.68">7</tspan></text>
<line x1="329.10" y1="938.30" x2="333.40" y2="938.30" stroke="#a0a0a0" stroke-width="0.8"/>
<text x="325.00" y="941.40" font-size="8.6" text-anchor="end">0</text>
<line x1="346.45" y1="907.70" x2="346.45" y2="914.20" stroke="#555555" stroke-width="0.9"/>
<line x1="343.25" y1="907.70" x2="349.65" y2="907.70" stroke="#555555" stroke-width="0.9"/>
<line x1="343.25" y1="914.20" x2="349.65" y2="914.20" stroke="#555555" stroke-width="0.9"/>
<path d="M340.75,938.30 V912.05 H352.15 V938.30" fill="none" stroke="#111111" stroke-width="1.3"/>
<circle cx="346.45" cy="908.00" r="0.95" fill="#111111"/>
<circle cx="346.45" cy="911.50" r="0.95" fill="#111111"/>
<circle cx="346.45" cy="914.00" r="0.95" fill="#111111"/>
<line x1="346.45" y1="938.30" x2="346.45" y2="941.90" stroke="#999" stroke-width="0.8"/>
<line x1="365.85" y1="902.00" x2="365.85" y2="909.70" stroke="#6cb86c" stroke-width="0.9"/>
<line x1="362.65" y1="902.00" x2="369.05" y2="902.00" stroke="#6cb86c" stroke-width="0.9"/>
<line x1="362.65" y1="909.70" x2="369.05" y2="909.70" stroke="#6cb86c" stroke-width="0.9"/>
<path d="M360.15,938.30 V906.25 H371.55 V938.30" fill="none" stroke="#1f8f1f" stroke-width="1.3"/>
<circle cx="365.85" cy="902.00" r="0.95" fill="#1f8f1f"/>
<circle cx="365.85" cy="906.00" r="0.95" fill="#1f8f1f"/>
<circle cx="365.85" cy="909.50" r="0.95" fill="#1f8f1f"/>
<line x1="365.85" y1="938.30" x2="365.85" y2="941.90" stroke="#999" stroke-width="0.8"/>
<line x1="386.15" y1="878.50" x2="386.15" y2="898.90" stroke="#8888ff" stroke-width="0.9"/>
<line x1="382.95" y1="878.50" x2="389.35" y2="878.50" stroke="#8888ff" stroke-width="0.9"/>
<line x1="382.95" y1="898.90" x2="389.35" y2="898.90" stroke="#8888ff" stroke-width="0.9"/>
<path d="M380.35,938.30 V888.95 H391.95 V938.30" fill="none" stroke="#0000ff" stroke-width="1.3"/>
<circle cx="386.15" cy="880.00" r="0.95" fill="#0000ff"/>
<circle cx="386.15" cy="886.00" r="0.95" fill="#0000ff"/>
<circle cx="386.15" cy="898.50" r="0.95" fill="#0000ff"/>
<line x1="386.15" y1="938.30" x2="386.15" y2="941.90" stroke="#999" stroke-width="0.8"/>
<line x1="405.60" y1="868.20" x2="405.60" y2="891.30" stroke="#ff8888" stroke-width="0.9"/>
<line x1="402.40" y1="868.20" x2="408.80" y2="868.20" stroke="#ff8888" stroke-width="0.9"/>
<line x1="402.40" y1="891.30" x2="408.80" y2="891.30" stroke="#ff8888" stroke-width="0.9"/>
<path d="M399.85,938.30 V881.15 H411.35 V938.30" fill="none" stroke="#ff0000" stroke-width="1.3"/>
<circle cx="405.60" cy="868.00" r="0.95" fill="#ff0000"/>
<circle cx="405.60" cy="881.00" r="0.95" fill="#ff0000"/>
<circle cx="405.60" cy="884.00" r="0.95" fill="#ff0000"/>
<line x1="405.60" y1="938.30" x2="405.60" y2="941.90" stroke="#999" stroke-width="0.8"/>
<line x1="329.10" y1="938.30" x2="417.00" y2="938.30" stroke="#777" stroke-width="0.9"/>
<text x="348.35" y="949.20" font-size="10.6" text-anchor="end" transform="rotate(-45.00 348.35 949.20)"><tspan>Wild type</tspan></text>
<text x="369.85" y="951.70" font-size="10.6" text-anchor="end" transform="rotate(-45.00 369.85 951.70)"><tspan>Kras</tspan><tspan dy="-4.45" font-size="6.36" font-style="italic">G12D/+</tspan></text>
<text x="390.15" y="951.70" font-size="10.6" text-anchor="end" transform="rotate(-45.00 390.15 951.70)"><tspan>Apc</tspan><tspan dy="-4.45" font-size="7.42" font-style="italic" letter-spacing="0.3">fl/fl</tspan></text>
<text x="409.60" y="951.70" font-size="10.6" text-anchor="end" transform="rotate(-45.00 409.60 951.70)"><tspan>Apc</tspan><tspan dy="-4.45" font-size="7.42" font-style="italic" letter-spacing="0.3">fl/fl</tspan><tspan dy="4.45"> Kras</tspan><tspan dy="-4.45" font-size="6.36" font-style="italic">G12D/+</tspan></text>
<text x="292.40" y="895.40" font-size="10" text-anchor="middle" textLength="105.40" lengthAdjust="spacingAndGlyphs" transform="rotate(-90.00 292.40 895.40)">Peak area (normalized)</text>
<text x="375.30" y="832.50" font-size="10" text-anchor="middle" textLength="51.10" lengthAdjust="spacingAndGlyphs"><tspan font-style="italic">S</tspan><tspan>-adenosyl</tspan></text>
<text x="375.80" y="843.70" font-size="10" text-anchor="middle" textLength="66.40" lengthAdjust="spacingAndGlyphs">homocysteine</text>
<text x="426.60" y="828.70" font-size="14.5" fill="#000" font-weight="bold">o</text>
<line x1="475.90" y1="852.70" x2="475.90" y2="938.00" stroke="#a8a8a8" stroke-width="0.8"/>
<line x1="471.60" y1="852.70" x2="475.90" y2="852.70" stroke="#a0a0a0" stroke-width="0.8"/>
<text x="467.50" y="855.80" font-size="8.6" text-anchor="end"><tspan>8 </tspan><tspan font-size="7.8">×</tspan><tspan> 10</tspan><tspan dy="-4.30" font-size="5.68">6</tspan></text>
<line x1="471.60" y1="874.20" x2="475.90" y2="874.20" stroke="#a0a0a0" stroke-width="0.8"/>
<text x="467.50" y="877.30" font-size="8.6" text-anchor="end"><tspan>6 </tspan><tspan font-size="7.8">×</tspan><tspan> 10</tspan><tspan dy="-4.30" font-size="5.68">6</tspan></text>
<line x1="471.60" y1="895.50" x2="475.90" y2="895.50" stroke="#a0a0a0" stroke-width="0.8"/>
<text x="467.50" y="898.60" font-size="8.6" text-anchor="end"><tspan>4 </tspan><tspan font-size="7.8">×</tspan><tspan> 10</tspan><tspan dy="-4.30" font-size="5.68">6</tspan></text>
<line x1="471.60" y1="916.80" x2="475.90" y2="916.80" stroke="#a0a0a0" stroke-width="0.8"/>
<text x="467.50" y="919.90" font-size="8.6" text-anchor="end"><tspan>2 </tspan><tspan font-size="7.8">×</tspan><tspan> 10</tspan><tspan dy="-4.30" font-size="5.68">6</tspan></text>
<line x1="471.60" y1="938.00" x2="475.90" y2="938.00" stroke="#a0a0a0" stroke-width="0.8"/>
<text x="467.50" y="941.10" font-size="8.6" text-anchor="end">0</text>
<line x1="489.00" y1="926.80" x2="489.00" y2="930.30" stroke="#555555" stroke-width="0.9"/>
<line x1="485.80" y1="926.80" x2="492.20" y2="926.80" stroke="#555555" stroke-width="0.9"/>
<line x1="485.80" y1="930.30" x2="492.20" y2="930.30" stroke="#555555" stroke-width="0.9"/>
<path d="M482.85,938.00 V929.75 H495.15 V938.00" fill="none" stroke="#111111" stroke-width="1.3"/>
<circle cx="489.00" cy="927.00" r="0.95" fill="#111111"/>
<circle cx="489.00" cy="929.00" r="0.95" fill="#111111"/>
<circle cx="489.00" cy="930.00" r="0.95" fill="#111111"/>
<line x1="489.00" y1="938.00" x2="489.00" y2="941.60" stroke="#999" stroke-width="0.8"/>
<line x1="508.85" y1="910.00" x2="508.85" y2="933.80" stroke="#6cb86c" stroke-width="0.9"/>
<line x1="505.65" y1="910.00" x2="512.05" y2="910.00" stroke="#6cb86c" stroke-width="0.9"/>
<line x1="505.65" y1="933.80" x2="512.05" y2="933.80" stroke="#6cb86c" stroke-width="0.9"/>
<path d="M502.75,938.00 V923.25 H514.95 V938.00" fill="none" stroke="#1f8f1f" stroke-width="1.3"/>
<circle cx="508.85" cy="911.00" r="0.95" fill="#1f8f1f"/>
<circle cx="508.85" cy="925.00" r="0.95" fill="#1f8f1f"/>
<circle cx="508.85" cy="933.00" r="0.95" fill="#1f8f1f"/>
<line x1="508.85" y1="938.00" x2="508.85" y2="941.60" stroke="#999" stroke-width="0.8"/>
<line x1="528.70" y1="863.30" x2="528.70" y2="910.00" stroke="#8888ff" stroke-width="0.9"/>
<line x1="525.50" y1="863.30" x2="531.90" y2="863.30" stroke="#8888ff" stroke-width="0.9"/>
<line x1="525.50" y1="910.00" x2="531.90" y2="910.00" stroke="#8888ff" stroke-width="0.9"/>
<path d="M522.55,938.00 V887.75 H534.85 V938.00" fill="none" stroke="#0000ff" stroke-width="1.3"/>
<circle cx="528.70" cy="861.00" r="0.95" fill="#0000ff"/>
<circle cx="528.70" cy="895.50" r="0.95" fill="#0000ff"/>
<circle cx="528.70" cy="905.00" r="0.95" fill="#0000ff"/>
<line x1="528.70" y1="938.00" x2="528.70" y2="941.60" stroke="#999" stroke-width="0.8"/>
<line x1="548.80" y1="923.30" x2="548.80" y2="928.40" stroke="#ff8888" stroke-width="0.9"/>
<line x1="545.60" y1="923.30" x2="552.00" y2="923.30" stroke="#ff8888" stroke-width="0.9"/>
<line x1="545.60" y1="928.40" x2="552.00" y2="928.40" stroke="#ff8888" stroke-width="0.9"/>
<path d="M542.65,938.00 V926.75 H554.95 V938.00" fill="none" stroke="#ff0000" stroke-width="1.3"/>
<circle cx="548.80" cy="924.00" r="0.95" fill="#ff0000"/>
<circle cx="548.80" cy="926.00" r="0.95" fill="#ff0000"/>
<circle cx="548.80" cy="928.00" r="0.95" fill="#ff0000"/>
<line x1="548.80" y1="938.00" x2="548.80" y2="941.60" stroke="#999" stroke-width="0.8"/>
<line x1="471.60" y1="938.00" x2="560.00" y2="938.00" stroke="#777" stroke-width="0.9"/>
<text x="490.90" y="948.90" font-size="10.6" text-anchor="end" transform="rotate(-45.00 490.90 948.90)"><tspan>Wild type</tspan></text>
<text x="512.85" y="951.40" font-size="10.6" text-anchor="end" transform="rotate(-45.00 512.85 951.40)"><tspan>Kras</tspan><tspan dy="-4.45" font-size="6.36" font-style="italic">G12D/+</tspan></text>
<text x="532.70" y="951.40" font-size="10.6" text-anchor="end" transform="rotate(-45.00 532.70 951.40)"><tspan>Apc</tspan><tspan dy="-4.45" font-size="7.42" font-style="italic" letter-spacing="0.3">fl/fl</tspan></text>
<text x="552.80" y="951.40" font-size="10.6" text-anchor="end" transform="rotate(-45.00 552.80 951.40)"><tspan>Apc</tspan><tspan dy="-4.45" font-size="7.42" font-style="italic" letter-spacing="0.3">fl/fl</tspan><tspan dy="4.45"> Kras</tspan><tspan dy="-4.45" font-size="6.36" font-style="italic">G12D/+</tspan></text>
<text x="435.10" y="895.35" font-size="10" text-anchor="middle" textLength="105.40" lengthAdjust="spacingAndGlyphs" transform="rotate(-90.00 435.10 895.35)">Peak area (normalized)</text>
<text x="518.30" y="843.00" font-size="10" text-anchor="middle" textLength="64.70" lengthAdjust="spacingAndGlyphs">Cystathionine</text>
<text x="565.40" y="829.20" font-size="14.5" fill="#000" font-weight="bold">p</text>
<line x1="616.60" y1="852.20" x2="616.60" y2="938.10" stroke="#a8a8a8" stroke-width="0.8"/>
<line x1="612.30" y1="852.20" x2="616.60" y2="852.20" stroke="#a0a0a0" stroke-width="0.8"/>
<text x="608.20" y="855.30" font-size="8.6" text-anchor="end">300</text>
<line x1="612.30" y1="880.80" x2="616.60" y2="880.80" stroke="#a0a0a0" stroke-width="0.8"/>
<text x="608.20" y="883.90" font-size="8.6" text-anchor="end">200</text>
<line x1="612.30" y1="909.40" x2="616.60" y2="909.40" stroke="#a0a0a0" stroke-width="0.8"/>
<text x="608.20" y="912.50" font-size="8.6" text-anchor="end">100</text>
<line x1="612.30" y1="938.10" x2="616.60" y2="938.10" stroke="#a0a0a0" stroke-width="0.8"/>
<text x="608.20" y="941.20" font-size="8.6" text-anchor="end">0</text>
<line x1="628.10" y1="927.60" x2="628.10" y2="934.70" stroke="#555555" stroke-width="0.9"/>
<line x1="624.90" y1="927.60" x2="631.30" y2="927.60" stroke="#555555" stroke-width="0.9"/>
<line x1="624.90" y1="934.70" x2="631.30" y2="934.70" stroke="#555555" stroke-width="0.9"/>
<path d="M623.15,938.10 V930.85 H633.05 V938.10" fill="none" stroke="#111111" stroke-width="1.3"/>
<circle cx="625.10" cy="927.60" r="0.95" fill="#111111"/>
<circle cx="631.80" cy="926.00" r="0.95" fill="#111111"/>
<circle cx="632.20" cy="928.00" r="0.95" fill="#111111"/>
<circle cx="628.20" cy="929.10" r="0.95" fill="#111111"/>
<circle cx="629.80" cy="931.90" r="0.95" fill="#111111"/>
<circle cx="630.60" cy="933.90" r="0.95" fill="#111111"/>
<circle cx="626.70" cy="935.10" r="0.95" fill="#111111"/>
<line x1="628.10" y1="938.10" x2="628.10" y2="941.70" stroke="#999" stroke-width="0.8"/>
<line x1="645.25" y1="893.50" x2="645.25" y2="917.20" stroke="#8888ff" stroke-width="0.9"/>
<line x1="642.05" y1="893.50" x2="648.45" y2="893.50" stroke="#8888ff" stroke-width="0.9"/>
<line x1="642.05" y1="917.20" x2="648.45" y2="917.20" stroke="#8888ff" stroke-width="0.9"/>
<path d="M640.35,938.10 V905.65 H650.15 V938.10" fill="none" stroke="#0000ff" stroke-width="1.3"/>
<circle cx="643.40" cy="888.90" r="0.95" fill="#0000ff"/>
<circle cx="647.30" cy="888.80" r="0.95" fill="#0000ff"/>
<circle cx="647.30" cy="891.70" r="0.95" fill="#0000ff"/>
<circle cx="640.50" cy="893.50" r="0.95" fill="#0000ff"/>
<circle cx="650.20" cy="893.00" r="0.95" fill="#0000ff"/>
<circle cx="647.20" cy="894.10" r="0.95" fill="#0000ff"/>
<circle cx="643.60" cy="894.60" r="0.95" fill="#0000ff"/>
<circle cx="647.20" cy="896.80" r="0.95" fill="#0000ff"/>
<circle cx="643.60" cy="898.00" r="0.95" fill="#0000ff"/>
<circle cx="645.20" cy="897.20" r="0.95" fill="#0000ff"/>
<circle cx="641.60" cy="907.10" r="0.95" fill="#0000ff"/>
<circle cx="644.00" cy="906.30" r="0.95" fill="#0000ff"/>
<circle cx="647.20" cy="906.30" r="0.95" fill="#0000ff"/>
<circle cx="644.00" cy="908.60" r="0.95" fill="#0000ff"/>
<circle cx="647.20" cy="908.60" r="0.95" fill="#0000ff"/>
<circle cx="644.00" cy="911.00" r="0.95" fill="#0000ff"/>
<circle cx="647.20" cy="911.00" r="0.95" fill="#0000ff"/>
<circle cx="641.60" cy="912.60" r="0.95" fill="#0000ff"/>
<circle cx="645.20" cy="912.60" r="0.95" fill="#0000ff"/>
<circle cx="650.30" cy="910.20" r="0.95" fill="#0000ff"/>
<circle cx="650.20" cy="913.80" r="0.95" fill="#0000ff"/>
<circle cx="645.20" cy="919.30" r="0.95" fill="#0000ff"/>
<circle cx="645.20" cy="921.40" r="0.95" fill="#0000ff"/>
<line x1="645.25" y1="938.10" x2="645.25" y2="941.70" stroke="#999" stroke-width="0.8"/>
<line x1="662.70" y1="925.40" x2="662.70" y2="930.50" stroke="#ff8888" stroke-width="0.9"/>
<line x1="659.50" y1="925.40" x2="665.90" y2="925.40" stroke="#ff8888" stroke-width="0.9"/>
<line x1="659.50" y1="930.50" x2="665.90" y2="930.50" stroke="#ff8888" stroke-width="0.9"/>
<path d="M657.75,938.10 V928.95 H667.65 V938.10" fill="none" stroke="#ff0000" stroke-width="1.3"/>
<circle cx="659.00" cy="926.80" r="0.95" fill="#ff0000"/>
<circle cx="662.50" cy="924.80" r="0.95" fill="#ff0000"/>
<circle cx="665.30" cy="926.80" r="0.95" fill="#ff0000"/>
<circle cx="667.30" cy="928.40" r="0.95" fill="#ff0000"/>
<circle cx="659.80" cy="930.30" r="0.95" fill="#ff0000"/>
<circle cx="662.50" cy="928.40" r="0.95" fill="#ff0000"/>
<line x1="662.70" y1="938.10" x2="662.70" y2="941.70" stroke="#999" stroke-width="0.8"/>
<line x1="612.30" y1="938.10" x2="675.60" y2="938.10" stroke="#777" stroke-width="0.9"/>
<text x="630.00" y="949.00" font-size="10.6" text-anchor="end" transform="rotate(-45.00 630.00 949.00)"><tspan>Wild type</tspan></text>
<text x="649.25" y="951.50" font-size="10.6" text-anchor="end" transform="rotate(-45.00 649.25 951.50)"><tspan>Apc</tspan><tspan dy="-4.45" font-size="7.42" font-style="italic" letter-spacing="0.3">fl/fl</tspan></text>
<text x="666.70" y="951.50" font-size="10.6" text-anchor="end" transform="rotate(-45.00 666.70 951.50)"><tspan>Apc</tspan><tspan dy="-4.45" font-size="7.42" font-style="italic" letter-spacing="0.3">fl/fl</tspan><tspan dy="4.45"> Kras</tspan><tspan dy="-4.45" font-size="6.36" font-style="italic">G12D/+</tspan></text>
<text x="646.20" y="832.30" font-size="10" text-anchor="middle" textLength="77.10" lengthAdjust="spacingAndGlyphs">Cystathionine β-</text>
<text x="645.70" y="842.60" font-size="10" text-anchor="middle" textLength="41.10" lengthAdjust="spacingAndGlyphs">synthase</text>
<text x="645.50" y="853.10" font-size="10" text-anchor="middle" textLength="12.70" lengthAdjust="spacingAndGlyphs">NS</text>
<text x="575.50" y="894.50" font-size="10" text-anchor="middle" transform="rotate(-90.00 575.50 894.50)">mRNA</text>
<text x="588.00" y="894.50" font-size="10" text-anchor="middle" textLength="131.60" lengthAdjust="spacingAndGlyphs" transform="rotate(-90.00 588.00 894.50)">(normalized reads, RNASeq)</text>
<polyline points="628.4,872.1 628.4,855.2 662.6,855.2 662.6,862.2" fill="none" stroke="#555" stroke-width="0.9"/>
<polyline points="645.5,871.5 645.5,865.7 662.6,865.7 662.6,919.4" fill="none" stroke="#555" stroke-width="0.9"/>
<polyline points="628.4,919.4 628.4,880.9 645.5,880.9 645.5,885.5" fill="none" stroke="#555" stroke-width="0.9"/>
<text x="636.80" y="881.60" font-size="11" text-anchor="middle" textLength="21.60" lengthAdjust="spacingAndGlyphs">****</text>
<text x="654.20" y="866.50" font-size="11" text-anchor="middle" textLength="9.60" lengthAdjust="spacingAndGlyphs">**</text></svg>
</body></html>
